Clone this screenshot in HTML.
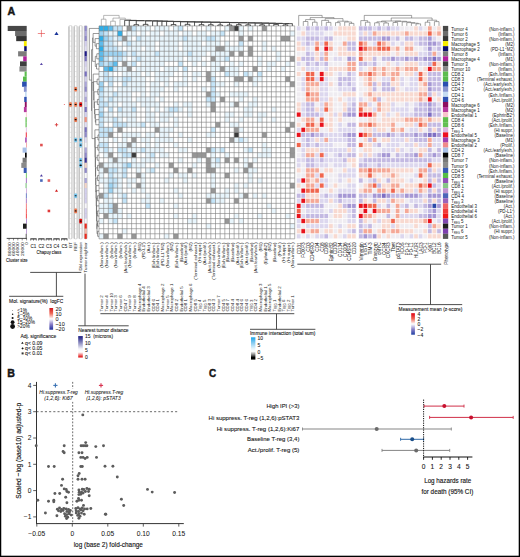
<!DOCTYPE html><html><head><meta charset="utf-8"><style>html,body{margin:0;padding:0;background:#fff;}svg{display:block;}text{font-family:"Liberation Sans",sans-serif;fill:#161616;}</style></head><body>
<svg width="520" height="557" viewBox="0 0 520 557">
<rect x="0" y="0" width="520" height="557" fill="#ffffff"/>
<text x="7.6" y="15.2" font-size="10.6" fill="#111" stroke="#111" stroke-width="0.45" font-weight="bold">A</text>
<text x="7.3" y="376.6" font-size="10.6" fill="#111" stroke="#111" stroke-width="0.45" font-weight="bold">B</text>
<text x="209.1" y="376.8" font-size="11" fill="#111" stroke="#111" stroke-width="0.45" font-weight="bold" textLength="7.2" lengthAdjust="spacingAndGlyphs">C</text>
<rect x="7.7" y="25.9" width="19" height="5.12" fill="#474747"/>
<rect x="15.1" y="30.97" width="11.6" height="5.12" fill="#6c6c6c"/>
<rect x="16.2" y="36.04" width="10.5" height="5.12" fill="#353535"/>
<rect x="23.9" y="41.11" width="2.8" height="5.12" fill="#f8ec00"/>
<rect x="24.2" y="46.18" width="2.5" height="5.12" fill="#0e0e6e"/>
<rect x="18.1" y="51.25" width="8.6" height="5.12" fill="#7c7c7c"/>
<rect x="23.2" y="56.32" width="3.5" height="5.12" fill="#b0209c"/>
<rect x="20" y="61.39" width="6.7" height="5.12" fill="#3e3e3e"/>
<rect x="19.4" y="66.46" width="7.3" height="5.12" fill="#8a8a8a"/>
<rect x="24.6" y="71.53" width="2.1" height="5.12" fill="#5dbd4f"/>
<rect x="23" y="76.6" width="3.7" height="5.12" fill="#58bb4a"/>
<rect x="22.1" y="81.67" width="4.6" height="5.12" fill="#2a4fb0"/>
<rect x="23.9" y="86.74" width="2.8" height="5.12" fill="#8894d0"/>
<rect x="25" y="91.81" width="1.7" height="5.12" fill="#c6dcf2"/>
<rect x="24.2" y="96.88" width="2.5" height="5.12" fill="#2f51b2"/>
<rect x="24.8" y="101.95" width="1.9" height="5.12" fill="#8e0e60"/>
<rect x="23.9" y="107.02" width="2.8" height="5.12" fill="#b8399e"/>
<rect x="25.9" y="112.09" width="0.8" height="5.12" fill="#f8c4cc"/>
<rect x="25.5" y="117.16" width="1.2" height="5.12" fill="#5cbe4c"/>
<rect x="25.5" y="122.23" width="1.2" height="5.12" fill="#62c052"/>
<rect x="25.9" y="127.3" width="0.8" height="5.12" fill="#dcb4de"/>
<rect x="25.8" y="132.37" width="0.9" height="5.12" fill="#ee1020"/>
<rect x="25.2" y="137.44" width="1.5" height="5.12" fill="#a040b0"/>
<rect x="26" y="142.51" width="0.7" height="5.12" fill="#f08a8a"/>
<rect x="22.6" y="147.58" width="4.1" height="5.12" fill="#a8c0e8"/>
<rect x="25" y="152.65" width="1.7" height="5.12" fill="#050505"/>
<rect x="22.6" y="157.72" width="4.1" height="5.12" fill="#787878"/>
<rect x="21.3" y="162.79" width="5.4" height="5.12" fill="#8a8a8a"/>
<rect x="23.7" y="167.86" width="3" height="5.12" fill="#3658b4"/>
<rect x="25.9" y="172.93" width="0.8" height="5.12" fill="#56be46"/>
<rect x="25.9" y="178" width="0.8" height="5.12" fill="#9050b8"/>
<rect x="25.5" y="183.07" width="1.2" height="5.12" fill="#86c686"/>
<rect x="26" y="188.14" width="0.7" height="5.12" fill="#c092d0"/>
<rect x="25.9" y="193.21" width="0.8" height="5.12" fill="#4c64b8"/>
<rect x="25.9" y="198.28" width="0.8" height="5.12" fill="#9a62ba"/>
<rect x="25.9" y="203.35" width="0.8" height="5.12" fill="#f06262"/>
<rect x="25.9" y="208.42" width="0.8" height="5.12" fill="#f03a3a"/>
<rect x="25.9" y="213.49" width="0.8" height="5.12" fill="#f01818"/>
<rect x="26.1" y="218.56" width="0.6" height="5.12" fill="#8048b0"/>
<rect x="23" y="223.63" width="3.7" height="5.12" fill="#1e1e1e"/>
<rect x="26.2" y="228.7" width="0.5" height="5.12" fill="#7e40ae"/>
<rect x="25.7" y="233.77" width="1" height="5.12" fill="#575757"/>
<line x1="6.7" y1="238.4" x2="26.5" y2="238.4" stroke="#222" stroke-width="0.8"/>
<line x1="9.1" y1="238.4" x2="9.1" y2="240.4" stroke="#222" stroke-width="0.5"/>
<text transform="translate(10.65,242.4) rotate(-90)" font-size="4.4" text-anchor="end" fill="#1c1c1c" textLength="13.6" lengthAdjust="spacingAndGlyphs">80000</text>
<line x1="13.47" y1="238.4" x2="13.47" y2="240.4" stroke="#222" stroke-width="0.5"/>
<text transform="translate(15.02,242.4) rotate(-90)" font-size="4.4" text-anchor="end" fill="#1c1c1c" textLength="13.6" lengthAdjust="spacingAndGlyphs">60000</text>
<line x1="17.84" y1="238.4" x2="17.84" y2="240.4" stroke="#222" stroke-width="0.5"/>
<text transform="translate(19.39,242.4) rotate(-90)" font-size="4.4" text-anchor="end" fill="#1c1c1c" textLength="13.6" lengthAdjust="spacingAndGlyphs">40000</text>
<line x1="22.21" y1="238.4" x2="22.21" y2="240.4" stroke="#222" stroke-width="0.5"/>
<text transform="translate(23.76,242.4) rotate(-90)" font-size="4.4" text-anchor="end" fill="#1c1c1c" textLength="13.6" lengthAdjust="spacingAndGlyphs">20000</text>
<line x1="26.58" y1="238.4" x2="26.58" y2="240.4" stroke="#222" stroke-width="0.5"/>
<text transform="translate(28.13,242.4) rotate(-90)" font-size="4.4" text-anchor="end" fill="#1c1c1c">0</text>
<text x="6" y="261.8" font-size="5.6" stroke="#161616" stroke-width="0.12" textLength="21.6" lengthAdjust="spacingAndGlyphs">Cluster size</text>
<line x1="30.4" y1="238.9" x2="36.6" y2="238.9" stroke="#111" stroke-width="1"/>
<line x1="30.7" y1="238.9" x2="30.7" y2="240.7" stroke="#222" stroke-width="0.5"/>
<line x1="33.5" y1="238.9" x2="33.5" y2="240.7" stroke="#222" stroke-width="0.5"/>
<line x1="36.3" y1="238.9" x2="36.3" y2="240.7" stroke="#222" stroke-width="0.5"/>
<text x="33.5" y="247.5" font-size="4.6" text-anchor="middle" fill="#1c1c1c" stroke="#1c1c1c" stroke-width="0.06" textLength="5.8" lengthAdjust="spacingAndGlyphs">C1</text>
<line x1="38.3" y1="238.9" x2="44.5" y2="238.9" stroke="#111" stroke-width="1"/>
<line x1="38.6" y1="238.9" x2="38.6" y2="240.7" stroke="#222" stroke-width="0.5"/>
<line x1="41.4" y1="238.9" x2="41.4" y2="240.7" stroke="#222" stroke-width="0.5"/>
<line x1="44.2" y1="238.9" x2="44.2" y2="240.7" stroke="#222" stroke-width="0.5"/>
<text x="41.4" y="247.5" font-size="4.6" text-anchor="middle" fill="#1c1c1c" stroke="#1c1c1c" stroke-width="0.06" textLength="5.8" lengthAdjust="spacingAndGlyphs">C2</text>
<line x1="45.8" y1="238.9" x2="52" y2="238.9" stroke="#111" stroke-width="1"/>
<line x1="46.1" y1="238.9" x2="46.1" y2="240.7" stroke="#222" stroke-width="0.5"/>
<line x1="48.9" y1="238.9" x2="48.9" y2="240.7" stroke="#222" stroke-width="0.5"/>
<line x1="51.7" y1="238.9" x2="51.7" y2="240.7" stroke="#222" stroke-width="0.5"/>
<text x="48.9" y="247.5" font-size="4.6" text-anchor="middle" fill="#1c1c1c" stroke="#1c1c1c" stroke-width="0.06" textLength="5.8" lengthAdjust="spacingAndGlyphs">C3</text>
<line x1="53.4" y1="238.9" x2="59.6" y2="238.9" stroke="#111" stroke-width="1"/>
<line x1="53.7" y1="238.9" x2="53.7" y2="240.7" stroke="#222" stroke-width="0.5"/>
<line x1="56.5" y1="238.9" x2="56.5" y2="240.7" stroke="#222" stroke-width="0.5"/>
<line x1="59.3" y1="238.9" x2="59.3" y2="240.7" stroke="#222" stroke-width="0.5"/>
<text x="56.5" y="247.5" font-size="4.6" text-anchor="middle" fill="#1c1c1c" stroke="#1c1c1c" stroke-width="0.06" textLength="5.8" lengthAdjust="spacingAndGlyphs">C4</text>
<line x1="61.2" y1="238.9" x2="67.4" y2="238.9" stroke="#111" stroke-width="1"/>
<line x1="61.5" y1="238.9" x2="61.5" y2="240.7" stroke="#222" stroke-width="0.5"/>
<line x1="64.3" y1="238.9" x2="64.3" y2="240.7" stroke="#222" stroke-width="0.5"/>
<line x1="67.1" y1="238.9" x2="67.1" y2="240.7" stroke="#222" stroke-width="0.5"/>
<text x="64.3" y="247.5" font-size="4.6" text-anchor="middle" fill="#1c1c1c" stroke="#1c1c1c" stroke-width="0.06" textLength="5.8" lengthAdjust="spacingAndGlyphs">C5</text>
<text x="36.6" y="254.3" font-size="5.6" stroke="#161616" stroke-width="0.12" textLength="24.6" lengthAdjust="spacingAndGlyphs">Chapuy class</text>
<line x1="37.8" y1="33.5" x2="45" y2="33.5" stroke="#e23a3a" stroke-width="0.6"/>
<line x1="41.4" y1="29.9" x2="41.4" y2="37.1" stroke="#e23a3a" stroke-width="0.6"/>
<path d="M56.5 31.72L58.6 34.97L54.4 34.97Z" fill="#1a3599"/>
<path d="M41.4 62.65L42.9 64.98L39.9 64.98Z" fill="#5a48a8"/>
<circle cx="64.3" cy="104.49" r="0.5" fill="#e04848"/>
<line x1="54.8" y1="124.77" x2="58.2" y2="124.77" stroke="#d84040" stroke-width="0.9"/>
<line x1="56.5" y1="123.07" x2="56.5" y2="126.47" stroke="#d84040" stroke-width="0.9"/>
<rect x="40.1" y="143.75" width="2.6" height="2.6" fill="#e05050"/>
<path d="M41.4 174.19L42.9 176.52L39.9 176.52Z" fill="#4a3aa0"/>
<rect x="40.1" y="179.24" width="2.6" height="2.6" fill="#4a68b8"/>
<rect x="47.6" y="179.24" width="2.6" height="2.6" fill="#e06060"/>
<path d="M56.5 189.36L58.05 191.76L54.95 191.76Z" fill="#d01c1c"/>
<rect x="47.6" y="209.66" width="2.6" height="2.6" fill="#e03a3a"/>
<rect x="68.4" y="25.4" width="4.1" height="213.84" fill="#c6c6c6" rx="1.4"/>
<rect x="69.55" y="26.1" width="1.8" height="212.54" fill="#ffffff"/>
<line x1="68.95" y1="26.7" x2="68.95" y2="238.64" stroke="#a6a6a6" stroke-width="0.5"/>
<path d="M69.5 30.97H71.4M69.5 36.04H71.4M69.5 41.11H71.4M69.5 46.18H71.4M69.5 51.25H71.4M69.5 56.32H71.4M69.5 61.39H71.4M69.5 66.46H71.4M69.5 71.53H71.4M69.5 76.6H71.4M69.5 81.67H71.4M69.5 86.74H71.4M69.5 91.81H71.4M69.5 96.88H71.4M69.5 101.95H71.4M69.5 107.02H71.4M69.5 112.09H71.4M69.5 117.16H71.4M69.5 122.23H71.4M69.5 127.3H71.4M69.5 132.37H71.4M69.5 137.44H71.4M69.5 142.51H71.4M69.5 147.58H71.4M69.5 152.65H71.4M69.5 157.72H71.4M69.5 162.79H71.4M69.5 167.86H71.4M69.5 172.93H71.4M69.5 178H71.4M69.5 183.07H71.4M69.5 188.14H71.4M69.5 193.21H71.4M69.5 198.28H71.4M69.5 203.35H71.4M69.5 208.42H71.4M69.5 213.49H71.4M69.5 218.56H71.4M69.5 223.63H71.4M69.5 228.7H71.4M69.5 233.77H71.4" stroke="#c8c8c8" stroke-width="0.4"/>
<rect x="73.6" y="25.4" width="4.1" height="213.84" fill="#c6c6c6" rx="1.4"/>
<rect x="74.75" y="26.1" width="1.8" height="212.54" fill="#ffffff"/>
<line x1="74.15" y1="26.7" x2="74.15" y2="238.64" stroke="#a6a6a6" stroke-width="0.5"/>
<path d="M74.7 30.97H76.6M74.7 36.04H76.6M74.7 41.11H76.6M74.7 46.18H76.6M74.7 51.25H76.6M74.7 56.32H76.6M74.7 61.39H76.6M74.7 66.46H76.6M74.7 71.53H76.6M74.7 76.6H76.6M74.7 81.67H76.6M74.7 86.74H76.6M74.7 91.81H76.6M74.7 96.88H76.6M74.7 101.95H76.6M74.7 107.02H76.6M74.7 112.09H76.6M74.7 117.16H76.6M74.7 122.23H76.6M74.7 127.3H76.6M74.7 132.37H76.6M74.7 137.44H76.6M74.7 142.51H76.6M74.7 147.58H76.6M74.7 152.65H76.6M74.7 157.72H76.6M74.7 162.79H76.6M74.7 167.86H76.6M74.7 172.93H76.6M74.7 178H76.6M74.7 183.07H76.6M74.7 188.14H76.6M74.7 193.21H76.6M74.7 198.28H76.6M74.7 203.35H76.6M74.7 208.42H76.6M74.7 213.49H76.6M74.7 218.56H76.6M74.7 223.63H76.6M74.7 228.7H76.6M74.7 233.77H76.6" stroke="#c8c8c8" stroke-width="0.4"/>
<rect x="78.6" y="25.4" width="4.1" height="213.84" fill="#c6c6c6" rx="1.4"/>
<rect x="79.75" y="26.1" width="1.8" height="212.54" fill="#ffffff"/>
<line x1="79.15" y1="26.7" x2="79.15" y2="238.64" stroke="#a6a6a6" stroke-width="0.5"/>
<path d="M79.7 30.97H81.6M79.7 36.04H81.6M79.7 41.11H81.6M79.7 46.18H81.6M79.7 51.25H81.6M79.7 56.32H81.6M79.7 61.39H81.6M79.7 66.46H81.6M79.7 71.53H81.6M79.7 76.6H81.6M79.7 81.67H81.6M79.7 86.74H81.6M79.7 91.81H81.6M79.7 96.88H81.6M79.7 101.95H81.6M79.7 107.02H81.6M79.7 112.09H81.6M79.7 117.16H81.6M79.7 122.23H81.6M79.7 127.3H81.6M79.7 132.37H81.6M79.7 137.44H81.6M79.7 142.51H81.6M79.7 147.58H81.6M79.7 152.65H81.6M79.7 157.72H81.6M79.7 162.79H81.6M79.7 167.86H81.6M79.7 172.93H81.6M79.7 178H81.6M79.7 183.07H81.6M79.7 188.14H81.6M79.7 193.21H81.6M79.7 198.28H81.6M79.7 203.35H81.6M79.7 208.42H81.6M79.7 213.49H81.6M79.7 218.56H81.6M79.7 223.63H81.6M79.7 228.7H81.6M79.7 233.77H81.6" stroke="#c8c8c8" stroke-width="0.4"/>
<rect x="83.8" y="25.4" width="3.7" height="213.84" fill="#c2c2c2" rx="1.4"/>
<rect x="84.65" y="25.9" width="2.1" height="5.07" fill="#8f88ca"/>
<rect x="84.65" y="30.97" width="2.1" height="5.07" fill="#aca6da"/>
<rect x="84.65" y="36.04" width="2.1" height="5.07" fill="#8f88ca"/>
<rect x="84.65" y="41.11" width="2.1" height="5.07" fill="#d3cfee"/>
<rect x="84.65" y="46.18" width="2.1" height="5.07" fill="#e0ddf4"/>
<rect x="84.65" y="51.25" width="2.1" height="5.07" fill="#1e1a88"/>
<rect x="84.65" y="56.32" width="2.1" height="5.07" fill="#7870c0"/>
<rect x="84.65" y="61.39" width="2.1" height="5.07" fill="#d3cfee"/>
<rect x="84.65" y="66.46" width="2.1" height="5.07" fill="#e0ddf4"/>
<rect x="84.65" y="71.53" width="2.1" height="5.07" fill="#7870c0"/>
<rect x="84.65" y="76.6" width="2.1" height="5.07" fill="#d3cfee"/>
<rect x="84.65" y="81.67" width="2.1" height="5.07" fill="#aca6da"/>
<rect x="84.65" y="86.74" width="2.1" height="5.07" fill="#8f88ca"/>
<rect x="84.65" y="91.81" width="2.1" height="5.07" fill="#d3cfee"/>
<rect x="84.65" y="96.88" width="2.1" height="5.07" fill="#aca6da"/>
<rect x="84.65" y="101.95" width="2.1" height="5.07" fill="#d3cfee"/>
<rect x="84.65" y="107.02" width="2.1" height="5.07" fill="#7870c0"/>
<rect x="84.65" y="112.09" width="2.1" height="5.07" fill="#d3cfee"/>
<rect x="84.65" y="117.16" width="2.1" height="5.07" fill="#f09080"/>
<rect x="84.65" y="122.23" width="2.1" height="5.07" fill="#e0ddf4"/>
<rect x="84.65" y="127.3" width="2.1" height="5.07" fill="#7870c0"/>
<rect x="84.65" y="132.37" width="2.1" height="5.07" fill="#8f88ca"/>
<rect x="84.65" y="137.44" width="2.1" height="5.07" fill="#e0ddf4"/>
<rect x="84.65" y="142.51" width="2.1" height="5.07" fill="#f6f5fb"/>
<rect x="84.65" y="147.58" width="2.1" height="5.07" fill="#aca6da"/>
<rect x="84.65" y="152.65" width="2.1" height="5.07" fill="#8f88ca"/>
<rect x="84.65" y="157.72" width="2.1" height="5.07" fill="#3c3498"/>
<rect x="84.65" y="162.79" width="2.1" height="5.07" fill="#f4d4c8"/>
<rect x="84.65" y="167.86" width="2.1" height="5.07" fill="#8f88ca"/>
<rect x="84.65" y="172.93" width="2.1" height="5.07" fill="#f6f5fb"/>
<rect x="84.65" y="178" width="2.1" height="5.07" fill="#aca6da"/>
<rect x="84.65" y="183.07" width="2.1" height="5.07" fill="#f4d4c8"/>
<rect x="84.65" y="188.14" width="2.1" height="5.07" fill="#d3cfee"/>
<rect x="84.65" y="193.21" width="2.1" height="5.07" fill="#d3cfee"/>
<rect x="84.65" y="198.28" width="2.1" height="5.07" fill="#d3cfee"/>
<rect x="84.65" y="203.35" width="2.1" height="5.07" fill="#f6f5fb"/>
<rect x="84.65" y="208.42" width="2.1" height="5.07" fill="#d3cfee"/>
<rect x="84.65" y="213.49" width="2.1" height="5.07" fill="#d3cfee"/>
<rect x="84.65" y="218.56" width="2.1" height="5.07" fill="#f6f5fb"/>
<rect x="84.65" y="223.63" width="2.1" height="5.07" fill="#ee2a1c"/>
<rect x="84.65" y="228.7" width="2.1" height="5.07" fill="#f4b8a8"/>
<rect x="84.65" y="233.77" width="2.1" height="5.07" fill="#ee2a1c"/>
<rect x="74.25" y="86.94" width="2.8" height="4.67" fill="#f07a50" rx="0.8"/>
<ellipse cx="75.65" cy="89.28" rx="1.1" ry="0.6" fill="#0a0a0a"/>
<rect x="69.05" y="102.15" width="2.8" height="4.67" fill="#f07a50" rx="0.8"/>
<ellipse cx="70.45" cy="104.49" rx="1.1" ry="0.6" fill="#0a0a0a"/>
<rect x="74.25" y="102.15" width="2.8" height="4.67" fill="#f07a50" rx="0.8"/>
<ellipse cx="75.65" cy="104.49" rx="1.1" ry="0.6" fill="#0a0a0a"/>
<rect x="79.25" y="102.15" width="2.8" height="4.67" fill="#e41010" rx="0.8"/>
<ellipse cx="80.65" cy="104.49" rx="1.1" ry="0.6" fill="#0a0a0a"/>
<rect x="74.25" y="117.36" width="2.8" height="4.67" fill="#f07a50" rx="0.8"/>
<ellipse cx="75.65" cy="119.69" rx="1.1" ry="0.6" fill="#0a0a0a"/>
<rect x="74.25" y="137.64" width="2.8" height="4.67" fill="#78c8f0" rx="0.8"/>
<ellipse cx="75.65" cy="139.97" rx="1.1" ry="0.6" fill="#0a0a0a"/>
<rect x="79.25" y="137.64" width="2.8" height="4.67" fill="#78c8f0" rx="0.8"/>
<ellipse cx="80.65" cy="139.97" rx="1.1" ry="0.6" fill="#0a0a0a"/>
<rect x="79.25" y="142.71" width="2.8" height="4.67" fill="#78c8f0" rx="0.8"/>
<ellipse cx="80.65" cy="145.05" rx="1.1" ry="0.6" fill="#0a0a0a"/>
<rect x="79.25" y="157.92" width="2.8" height="4.67" fill="#78c8f0" rx="0.8"/>
<ellipse cx="80.65" cy="160.25" rx="1.1" ry="0.6" fill="#0a0a0a"/>
<rect x="79.25" y="162.99" width="2.8" height="4.67" fill="#78c8f0" rx="0.8"/>
<ellipse cx="80.65" cy="165.33" rx="1.3" ry="0.8" fill="#0a0a0a"/>
<rect x="74.25" y="193.41" width="2.8" height="4.67" fill="#78c8f0" rx="0.8"/>
<ellipse cx="75.65" cy="195.75" rx="1.1" ry="0.6" fill="#0a0a0a"/>
<rect x="74.25" y="208.62" width="2.8" height="4.67" fill="#f07a50" rx="0.8"/>
<ellipse cx="75.65" cy="210.96" rx="1.1" ry="0.6" fill="#0a0a0a"/>
<rect x="79.25" y="218.76" width="2.8" height="4.67" fill="#e41010" rx="0.8"/>
<ellipse cx="80.65" cy="221.1" rx="1.1" ry="0.6" fill="#0a0a0a"/>
<text transform="translate(71.95,242.2) rotate(-90)" font-size="4.3" text-anchor="end" fill="#1c1c1c">BT</text>
<text transform="translate(77.15,242.2) rotate(-90)" font-size="4.3" text-anchor="end" fill="#1c1c1c">REF</text>
<text transform="translate(82.15,242.2) rotate(-90)" font-size="4.3" text-anchor="end" fill="#1c1c1c">Dbl expression</text>
<text transform="translate(87.45,242.2) rotate(-90)" font-size="4.3" text-anchor="end" fill="#1c1c1c">Tumor neighbor</text>
<g>
<rect x="99" y="25.9" width="4.66" height="5.07" fill="#2eaee8"/>
<rect x="103.66" y="25.9" width="4.66" height="5.07" fill="#2eaee8"/>
<rect x="108.32" y="25.9" width="4.66" height="5.07" fill="#5ebcec"/>
<rect x="112.98" y="25.9" width="4.66" height="5.07" fill="#c4e4f8"/>
<rect x="117.64" y="25.9" width="4.66" height="5.07" fill="#c4e4f8"/>
<rect x="126.96" y="25.9" width="4.66" height="5.07" fill="#969696"/>
<rect x="131.62" y="25.9" width="4.66" height="5.07" fill="#c4e4f8"/>
<rect x="136.28" y="25.9" width="4.66" height="5.07" fill="#e8f5fc"/>
<rect x="140.94" y="25.9" width="4.66" height="5.07" fill="#e8f5fc"/>
<rect x="145.6" y="25.9" width="4.66" height="5.07" fill="#e8f5fc"/>
<rect x="154.92" y="25.9" width="4.66" height="5.07" fill="#e8f5fc"/>
<rect x="159.58" y="25.9" width="4.66" height="5.07" fill="#e8f5fc"/>
<rect x="164.24" y="25.9" width="4.66" height="5.07" fill="#e8f5fc"/>
<rect x="173.56" y="25.9" width="4.66" height="5.07" fill="#e8f5fc"/>
<rect x="178.22" y="25.9" width="4.66" height="5.07" fill="#c4e4f8"/>
<rect x="206.18" y="25.9" width="4.66" height="5.07" fill="#e8f5fc"/>
<rect x="224.82" y="25.9" width="4.66" height="5.07" fill="#e8f5fc"/>
<rect x="229.48" y="25.9" width="4.66" height="5.07" fill="#969696"/>
<rect x="234.14" y="25.9" width="4.66" height="5.07" fill="#3a3a3a"/>
<rect x="238.8" y="25.9" width="4.66" height="5.07" fill="#e8f5fc"/>
<rect x="248.12" y="25.9" width="4.66" height="5.07" fill="#e8f5fc"/>
<rect x="262.1" y="25.9" width="4.66" height="5.07" fill="#969696"/>
<rect x="99" y="30.97" width="4.66" height="5.07" fill="#9dd3f2"/>
<rect x="103.66" y="30.97" width="4.66" height="5.07" fill="#c4e4f8"/>
<rect x="108.32" y="30.97" width="4.66" height="5.07" fill="#e8f5fc"/>
<rect x="112.98" y="30.97" width="4.66" height="5.07" fill="#e8f5fc"/>
<rect x="117.64" y="30.97" width="4.66" height="5.07" fill="#2eaee8"/>
<rect x="126.96" y="30.97" width="4.66" height="5.07" fill="#e8f5fc"/>
<rect x="131.62" y="30.97" width="4.66" height="5.07" fill="#e8f5fc"/>
<rect x="140.94" y="30.97" width="4.66" height="5.07" fill="#e8f5fc"/>
<rect x="150.26" y="30.97" width="4.66" height="5.07" fill="#e8f5fc"/>
<rect x="154.92" y="30.97" width="4.66" height="5.07" fill="#e8f5fc"/>
<rect x="164.24" y="30.97" width="4.66" height="5.07" fill="#e8f5fc"/>
<rect x="168.9" y="30.97" width="4.66" height="5.07" fill="#e8f5fc"/>
<rect x="173.56" y="30.97" width="4.66" height="5.07" fill="#e8f5fc"/>
<rect x="182.88" y="30.97" width="4.66" height="5.07" fill="#e8f5fc"/>
<rect x="187.54" y="30.97" width="4.66" height="5.07" fill="#e8f5fc"/>
<rect x="196.86" y="30.97" width="4.66" height="5.07" fill="#e8f5fc"/>
<rect x="201.52" y="30.97" width="4.66" height="5.07" fill="#e8f5fc"/>
<rect x="210.84" y="30.97" width="4.66" height="5.07" fill="#e8f5fc"/>
<rect x="215.5" y="30.97" width="4.66" height="5.07" fill="#e8f5fc"/>
<rect x="220.16" y="30.97" width="4.66" height="5.07" fill="#c4e4f8"/>
<rect x="238.8" y="30.97" width="4.66" height="5.07" fill="#e8f5fc"/>
<rect x="290.06" y="30.97" width="4.66" height="5.07" fill="#e8f5fc"/>
<rect x="99" y="36.04" width="4.66" height="5.07" fill="#2eaee8"/>
<rect x="103.66" y="36.04" width="4.66" height="5.07" fill="#9dd3f2"/>
<rect x="108.32" y="36.04" width="4.66" height="5.07" fill="#c4e4f8"/>
<rect x="112.98" y="36.04" width="4.66" height="5.07" fill="#e8f5fc"/>
<rect x="117.64" y="36.04" width="4.66" height="5.07" fill="#c4e4f8"/>
<rect x="122.3" y="36.04" width="4.66" height="5.07" fill="#969696"/>
<rect x="126.96" y="36.04" width="4.66" height="5.07" fill="#e8f5fc"/>
<rect x="136.28" y="36.04" width="4.66" height="5.07" fill="#c4e4f8"/>
<rect x="140.94" y="36.04" width="4.66" height="5.07" fill="#e8f5fc"/>
<rect x="145.6" y="36.04" width="4.66" height="5.07" fill="#e8f5fc"/>
<rect x="150.26" y="36.04" width="4.66" height="5.07" fill="#e8f5fc"/>
<rect x="154.92" y="36.04" width="4.66" height="5.07" fill="#e8f5fc"/>
<rect x="159.58" y="36.04" width="4.66" height="5.07" fill="#e8f5fc"/>
<rect x="164.24" y="36.04" width="4.66" height="5.07" fill="#e8f5fc"/>
<rect x="168.9" y="36.04" width="4.66" height="5.07" fill="#e8f5fc"/>
<rect x="173.56" y="36.04" width="4.66" height="5.07" fill="#e8f5fc"/>
<rect x="178.22" y="36.04" width="4.66" height="5.07" fill="#e8f5fc"/>
<rect x="182.88" y="36.04" width="4.66" height="5.07" fill="#c4e4f8"/>
<rect x="187.54" y="36.04" width="4.66" height="5.07" fill="#e8f5fc"/>
<rect x="192.2" y="36.04" width="4.66" height="5.07" fill="#e8f5fc"/>
<rect x="196.86" y="36.04" width="4.66" height="5.07" fill="#e8f5fc"/>
<rect x="201.52" y="36.04" width="4.66" height="5.07" fill="#e8f5fc"/>
<rect x="206.18" y="36.04" width="4.66" height="5.07" fill="#c4e4f8"/>
<rect x="210.84" y="36.04" width="4.66" height="5.07" fill="#c4e4f8"/>
<rect x="215.5" y="36.04" width="4.66" height="5.07" fill="#e8f5fc"/>
<rect x="238.8" y="36.04" width="4.66" height="5.07" fill="#969696"/>
<rect x="248.12" y="36.04" width="4.66" height="5.07" fill="#969696"/>
<rect x="280.74" y="36.04" width="4.66" height="5.07" fill="#969696"/>
<rect x="285.4" y="36.04" width="4.66" height="5.07" fill="#969696"/>
<rect x="99" y="41.11" width="4.66" height="5.07" fill="#5ebcec"/>
<rect x="103.66" y="41.11" width="4.66" height="5.07" fill="#c4e4f8"/>
<rect x="108.32" y="41.11" width="4.66" height="5.07" fill="#c4e4f8"/>
<rect x="112.98" y="41.11" width="4.66" height="5.07" fill="#e8f5fc"/>
<rect x="122.3" y="41.11" width="4.66" height="5.07" fill="#e8f5fc"/>
<rect x="126.96" y="41.11" width="4.66" height="5.07" fill="#c4e4f8"/>
<rect x="131.62" y="41.11" width="4.66" height="5.07" fill="#e8f5fc"/>
<rect x="136.28" y="41.11" width="4.66" height="5.07" fill="#e8f5fc"/>
<rect x="140.94" y="41.11" width="4.66" height="5.07" fill="#e8f5fc"/>
<rect x="145.6" y="41.11" width="4.66" height="5.07" fill="#e8f5fc"/>
<rect x="150.26" y="41.11" width="4.66" height="5.07" fill="#e8f5fc"/>
<rect x="159.58" y="41.11" width="4.66" height="5.07" fill="#e8f5fc"/>
<rect x="164.24" y="41.11" width="4.66" height="5.07" fill="#e8f5fc"/>
<rect x="168.9" y="41.11" width="4.66" height="5.07" fill="#e8f5fc"/>
<rect x="173.56" y="41.11" width="4.66" height="5.07" fill="#e8f5fc"/>
<rect x="182.88" y="41.11" width="4.66" height="5.07" fill="#e8f5fc"/>
<rect x="187.54" y="41.11" width="4.66" height="5.07" fill="#e8f5fc"/>
<rect x="192.2" y="41.11" width="4.66" height="5.07" fill="#e8f5fc"/>
<rect x="196.86" y="41.11" width="4.66" height="5.07" fill="#e8f5fc"/>
<rect x="206.18" y="41.11" width="4.66" height="5.07" fill="#e8f5fc"/>
<rect x="210.84" y="41.11" width="4.66" height="5.07" fill="#e8f5fc"/>
<rect x="215.5" y="41.11" width="4.66" height="5.07" fill="#e8f5fc"/>
<rect x="224.82" y="41.11" width="4.66" height="5.07" fill="#e8f5fc"/>
<rect x="238.8" y="41.11" width="4.66" height="5.07" fill="#c4e4f8"/>
<rect x="262.1" y="41.11" width="4.66" height="5.07" fill="#e8f5fc"/>
<rect x="99" y="46.18" width="4.66" height="5.07" fill="#2eaee8"/>
<rect x="103.66" y="46.18" width="4.66" height="5.07" fill="#c4e4f8"/>
<rect x="108.32" y="46.18" width="4.66" height="5.07" fill="#c4e4f8"/>
<rect x="112.98" y="46.18" width="4.66" height="5.07" fill="#c4e4f8"/>
<rect x="117.64" y="46.18" width="4.66" height="5.07" fill="#e8f5fc"/>
<rect x="126.96" y="46.18" width="4.66" height="5.07" fill="#e8f5fc"/>
<rect x="131.62" y="46.18" width="4.66" height="5.07" fill="#e8f5fc"/>
<rect x="136.28" y="46.18" width="4.66" height="5.07" fill="#e8f5fc"/>
<rect x="145.6" y="46.18" width="4.66" height="5.07" fill="#e8f5fc"/>
<rect x="150.26" y="46.18" width="4.66" height="5.07" fill="#e8f5fc"/>
<rect x="159.58" y="46.18" width="4.66" height="5.07" fill="#e8f5fc"/>
<rect x="164.24" y="46.18" width="4.66" height="5.07" fill="#e8f5fc"/>
<rect x="168.9" y="46.18" width="4.66" height="5.07" fill="#e8f5fc"/>
<rect x="173.56" y="46.18" width="4.66" height="5.07" fill="#e8f5fc"/>
<rect x="182.88" y="46.18" width="4.66" height="5.07" fill="#e8f5fc"/>
<rect x="187.54" y="46.18" width="4.66" height="5.07" fill="#e8f5fc"/>
<rect x="192.2" y="46.18" width="4.66" height="5.07" fill="#e8f5fc"/>
<rect x="196.86" y="46.18" width="4.66" height="5.07" fill="#e8f5fc"/>
<rect x="201.52" y="46.18" width="4.66" height="5.07" fill="#e8f5fc"/>
<rect x="206.18" y="46.18" width="4.66" height="5.07" fill="#e8f5fc"/>
<rect x="210.84" y="46.18" width="4.66" height="5.07" fill="#e8f5fc"/>
<rect x="215.5" y="46.18" width="4.66" height="5.07" fill="#969696"/>
<rect x="220.16" y="46.18" width="4.66" height="5.07" fill="#969696"/>
<rect x="224.82" y="46.18" width="4.66" height="5.07" fill="#e8f5fc"/>
<rect x="229.48" y="46.18" width="4.66" height="5.07" fill="#e8f5fc"/>
<rect x="234.14" y="46.18" width="4.66" height="5.07" fill="#e8f5fc"/>
<rect x="238.8" y="46.18" width="4.66" height="5.07" fill="#e8f5fc"/>
<rect x="248.12" y="46.18" width="4.66" height="5.07" fill="#969696"/>
<rect x="262.1" y="46.18" width="4.66" height="5.07" fill="#e8f5fc"/>
<rect x="271.42" y="46.18" width="4.66" height="5.07" fill="#e8f5fc"/>
<rect x="99" y="51.25" width="4.66" height="5.07" fill="#5ebcec"/>
<rect x="103.66" y="51.25" width="4.66" height="5.07" fill="#9dd3f2"/>
<rect x="108.32" y="51.25" width="4.66" height="5.07" fill="#9dd3f2"/>
<rect x="112.98" y="51.25" width="4.66" height="5.07" fill="#9dd3f2"/>
<rect x="117.64" y="51.25" width="4.66" height="5.07" fill="#9dd3f2"/>
<rect x="122.3" y="51.25" width="4.66" height="5.07" fill="#c4e4f8"/>
<rect x="126.96" y="51.25" width="4.66" height="5.07" fill="#e8f5fc"/>
<rect x="131.62" y="51.25" width="4.66" height="5.07" fill="#c4e4f8"/>
<rect x="136.28" y="51.25" width="4.66" height="5.07" fill="#e8f5fc"/>
<rect x="140.94" y="51.25" width="4.66" height="5.07" fill="#e8f5fc"/>
<rect x="145.6" y="51.25" width="4.66" height="5.07" fill="#e8f5fc"/>
<rect x="150.26" y="51.25" width="4.66" height="5.07" fill="#e8f5fc"/>
<rect x="154.92" y="51.25" width="4.66" height="5.07" fill="#c4e4f8"/>
<rect x="159.58" y="51.25" width="4.66" height="5.07" fill="#e8f5fc"/>
<rect x="164.24" y="51.25" width="4.66" height="5.07" fill="#e8f5fc"/>
<rect x="168.9" y="51.25" width="4.66" height="5.07" fill="#e8f5fc"/>
<rect x="173.56" y="51.25" width="4.66" height="5.07" fill="#e8f5fc"/>
<rect x="178.22" y="51.25" width="4.66" height="5.07" fill="#e8f5fc"/>
<rect x="182.88" y="51.25" width="4.66" height="5.07" fill="#e8f5fc"/>
<rect x="187.54" y="51.25" width="4.66" height="5.07" fill="#c4e4f8"/>
<rect x="192.2" y="51.25" width="4.66" height="5.07" fill="#e8f5fc"/>
<rect x="196.86" y="51.25" width="4.66" height="5.07" fill="#e8f5fc"/>
<rect x="201.52" y="51.25" width="4.66" height="5.07" fill="#e8f5fc"/>
<rect x="210.84" y="51.25" width="4.66" height="5.07" fill="#e8f5fc"/>
<rect x="215.5" y="51.25" width="4.66" height="5.07" fill="#e8f5fc"/>
<rect x="220.16" y="51.25" width="4.66" height="5.07" fill="#e8f5fc"/>
<rect x="224.82" y="51.25" width="4.66" height="5.07" fill="#e8f5fc"/>
<rect x="229.48" y="51.25" width="4.66" height="5.07" fill="#969696"/>
<rect x="238.8" y="51.25" width="4.66" height="5.07" fill="#969696"/>
<rect x="248.12" y="51.25" width="4.66" height="5.07" fill="#969696"/>
<rect x="276.08" y="51.25" width="4.66" height="5.07" fill="#e8f5fc"/>
<rect x="99" y="56.32" width="4.66" height="5.07" fill="#5ebcec"/>
<rect x="103.66" y="56.32" width="4.66" height="5.07" fill="#c4e4f8"/>
<rect x="108.32" y="56.32" width="4.66" height="5.07" fill="#e8f5fc"/>
<rect x="112.98" y="56.32" width="4.66" height="5.07" fill="#c4e4f8"/>
<rect x="117.64" y="56.32" width="4.66" height="5.07" fill="#c4e4f8"/>
<rect x="122.3" y="56.32" width="4.66" height="5.07" fill="#e8f5fc"/>
<rect x="131.62" y="56.32" width="4.66" height="5.07" fill="#e8f5fc"/>
<rect x="136.28" y="56.32" width="4.66" height="5.07" fill="#c4e4f8"/>
<rect x="140.94" y="56.32" width="4.66" height="5.07" fill="#e8f5fc"/>
<rect x="145.6" y="56.32" width="4.66" height="5.07" fill="#e8f5fc"/>
<rect x="150.26" y="56.32" width="4.66" height="5.07" fill="#e8f5fc"/>
<rect x="154.92" y="56.32" width="4.66" height="5.07" fill="#e8f5fc"/>
<rect x="159.58" y="56.32" width="4.66" height="5.07" fill="#e8f5fc"/>
<rect x="164.24" y="56.32" width="4.66" height="5.07" fill="#e8f5fc"/>
<rect x="168.9" y="56.32" width="4.66" height="5.07" fill="#e8f5fc"/>
<rect x="173.56" y="56.32" width="4.66" height="5.07" fill="#e8f5fc"/>
<rect x="178.22" y="56.32" width="4.66" height="5.07" fill="#e8f5fc"/>
<rect x="187.54" y="56.32" width="4.66" height="5.07" fill="#e8f5fc"/>
<rect x="192.2" y="56.32" width="4.66" height="5.07" fill="#e8f5fc"/>
<rect x="196.86" y="56.32" width="4.66" height="5.07" fill="#e8f5fc"/>
<rect x="210.84" y="56.32" width="4.66" height="5.07" fill="#969696"/>
<rect x="215.5" y="56.32" width="4.66" height="5.07" fill="#e8f5fc"/>
<rect x="220.16" y="56.32" width="4.66" height="5.07" fill="#e8f5fc"/>
<rect x="224.82" y="56.32" width="4.66" height="5.07" fill="#c4e4f8"/>
<rect x="257.44" y="56.32" width="4.66" height="5.07" fill="#e8f5fc"/>
<rect x="276.08" y="56.32" width="4.66" height="5.07" fill="#e8f5fc"/>
<rect x="290.06" y="56.32" width="4.66" height="5.07" fill="#969696"/>
<rect x="99" y="61.39" width="4.66" height="5.07" fill="#9dd3f2"/>
<rect x="103.66" y="61.39" width="4.66" height="5.07" fill="#c4e4f8"/>
<rect x="108.32" y="61.39" width="4.66" height="5.07" fill="#9dd3f2"/>
<rect x="112.98" y="61.39" width="4.66" height="5.07" fill="#5ebcec"/>
<rect x="122.3" y="61.39" width="4.66" height="5.07" fill="#969696"/>
<rect x="126.96" y="61.39" width="4.66" height="5.07" fill="#e8f5fc"/>
<rect x="131.62" y="61.39" width="4.66" height="5.07" fill="#c4e4f8"/>
<rect x="140.94" y="61.39" width="4.66" height="5.07" fill="#e8f5fc"/>
<rect x="145.6" y="61.39" width="4.66" height="5.07" fill="#e8f5fc"/>
<rect x="150.26" y="61.39" width="4.66" height="5.07" fill="#e8f5fc"/>
<rect x="154.92" y="61.39" width="4.66" height="5.07" fill="#e8f5fc"/>
<rect x="159.58" y="61.39" width="4.66" height="5.07" fill="#e8f5fc"/>
<rect x="178.22" y="61.39" width="4.66" height="5.07" fill="#c4e4f8"/>
<rect x="192.2" y="61.39" width="4.66" height="5.07" fill="#e8f5fc"/>
<rect x="201.52" y="61.39" width="4.66" height="5.07" fill="#e8f5fc"/>
<rect x="210.84" y="61.39" width="4.66" height="5.07" fill="#e8f5fc"/>
<rect x="215.5" y="61.39" width="4.66" height="5.07" fill="#e8f5fc"/>
<rect x="229.48" y="61.39" width="4.66" height="5.07" fill="#e8f5fc"/>
<rect x="238.8" y="61.39" width="4.66" height="5.07" fill="#e8f5fc"/>
<rect x="257.44" y="61.39" width="4.66" height="5.07" fill="#e8f5fc"/>
<rect x="266.76" y="61.39" width="4.66" height="5.07" fill="#e8f5fc"/>
<rect x="271.42" y="61.39" width="4.66" height="5.07" fill="#e8f5fc"/>
<rect x="285.4" y="61.39" width="4.66" height="5.07" fill="#e8f5fc"/>
<rect x="103.66" y="66.46" width="4.66" height="5.07" fill="#5ebcec"/>
<rect x="108.32" y="66.46" width="4.66" height="5.07" fill="#2eaee8"/>
<rect x="112.98" y="66.46" width="4.66" height="5.07" fill="#c4e4f8"/>
<rect x="117.64" y="66.46" width="4.66" height="5.07" fill="#e8f5fc"/>
<rect x="122.3" y="66.46" width="4.66" height="5.07" fill="#e8f5fc"/>
<rect x="126.96" y="66.46" width="4.66" height="5.07" fill="#969696"/>
<rect x="136.28" y="66.46" width="4.66" height="5.07" fill="#e8f5fc"/>
<rect x="140.94" y="66.46" width="4.66" height="5.07" fill="#e8f5fc"/>
<rect x="145.6" y="66.46" width="4.66" height="5.07" fill="#e8f5fc"/>
<rect x="150.26" y="66.46" width="4.66" height="5.07" fill="#e8f5fc"/>
<rect x="154.92" y="66.46" width="4.66" height="5.07" fill="#e8f5fc"/>
<rect x="164.24" y="66.46" width="4.66" height="5.07" fill="#e8f5fc"/>
<rect x="168.9" y="66.46" width="4.66" height="5.07" fill="#e8f5fc"/>
<rect x="173.56" y="66.46" width="4.66" height="5.07" fill="#e8f5fc"/>
<rect x="182.88" y="66.46" width="4.66" height="5.07" fill="#c4e4f8"/>
<rect x="210.84" y="66.46" width="4.66" height="5.07" fill="#e8f5fc"/>
<rect x="215.5" y="66.46" width="4.66" height="5.07" fill="#e8f5fc"/>
<rect x="220.16" y="66.46" width="4.66" height="5.07" fill="#969696"/>
<rect x="224.82" y="66.46" width="4.66" height="5.07" fill="#e8f5fc"/>
<rect x="229.48" y="66.46" width="4.66" height="5.07" fill="#e8f5fc"/>
<rect x="234.14" y="66.46" width="4.66" height="5.07" fill="#e8f5fc"/>
<rect x="252.78" y="66.46" width="4.66" height="5.07" fill="#969696"/>
<rect x="266.76" y="66.46" width="4.66" height="5.07" fill="#e8f5fc"/>
<rect x="280.74" y="66.46" width="4.66" height="5.07" fill="#e8f5fc"/>
<rect x="99" y="71.53" width="4.66" height="5.07" fill="#e8f5fc"/>
<rect x="103.66" y="71.53" width="4.66" height="5.07" fill="#c4e4f8"/>
<rect x="108.32" y="71.53" width="4.66" height="5.07" fill="#e8f5fc"/>
<rect x="122.3" y="71.53" width="4.66" height="5.07" fill="#e8f5fc"/>
<rect x="126.96" y="71.53" width="4.66" height="5.07" fill="#e8f5fc"/>
<rect x="131.62" y="71.53" width="4.66" height="5.07" fill="#e8f5fc"/>
<rect x="136.28" y="71.53" width="4.66" height="5.07" fill="#e8f5fc"/>
<rect x="145.6" y="71.53" width="4.66" height="5.07" fill="#e8f5fc"/>
<rect x="154.92" y="71.53" width="4.66" height="5.07" fill="#e8f5fc"/>
<rect x="159.58" y="71.53" width="4.66" height="5.07" fill="#e8f5fc"/>
<rect x="164.24" y="71.53" width="4.66" height="5.07" fill="#e8f5fc"/>
<rect x="168.9" y="71.53" width="4.66" height="5.07" fill="#e8f5fc"/>
<rect x="182.88" y="71.53" width="4.66" height="5.07" fill="#e8f5fc"/>
<rect x="192.2" y="71.53" width="4.66" height="5.07" fill="#e8f5fc"/>
<rect x="196.86" y="71.53" width="4.66" height="5.07" fill="#e8f5fc"/>
<rect x="206.18" y="71.53" width="4.66" height="5.07" fill="#969696"/>
<rect x="210.84" y="71.53" width="4.66" height="5.07" fill="#e8f5fc"/>
<rect x="224.82" y="71.53" width="4.66" height="5.07" fill="#c4e4f8"/>
<rect x="229.48" y="71.53" width="4.66" height="5.07" fill="#e8f5fc"/>
<rect x="234.14" y="71.53" width="4.66" height="5.07" fill="#e8f5fc"/>
<rect x="243.46" y="71.53" width="4.66" height="5.07" fill="#c4e4f8"/>
<rect x="248.12" y="71.53" width="4.66" height="5.07" fill="#e8f5fc"/>
<rect x="257.44" y="71.53" width="4.66" height="5.07" fill="#c4e4f8"/>
<rect x="99" y="76.6" width="4.66" height="5.07" fill="#e8f5fc"/>
<rect x="103.66" y="76.6" width="4.66" height="5.07" fill="#c4e4f8"/>
<rect x="108.32" y="76.6" width="4.66" height="5.07" fill="#c4e4f8"/>
<rect x="112.98" y="76.6" width="4.66" height="5.07" fill="#e8f5fc"/>
<rect x="117.64" y="76.6" width="4.66" height="5.07" fill="#e8f5fc"/>
<rect x="122.3" y="76.6" width="4.66" height="5.07" fill="#c4e4f8"/>
<rect x="126.96" y="76.6" width="4.66" height="5.07" fill="#c4e4f8"/>
<rect x="131.62" y="76.6" width="4.66" height="5.07" fill="#e8f5fc"/>
<rect x="136.28" y="76.6" width="4.66" height="5.07" fill="#e8f5fc"/>
<rect x="140.94" y="76.6" width="4.66" height="5.07" fill="#e8f5fc"/>
<rect x="154.92" y="76.6" width="4.66" height="5.07" fill="#e8f5fc"/>
<rect x="159.58" y="76.6" width="4.66" height="5.07" fill="#e8f5fc"/>
<rect x="164.24" y="76.6" width="4.66" height="5.07" fill="#e8f5fc"/>
<rect x="182.88" y="76.6" width="4.66" height="5.07" fill="#e8f5fc"/>
<rect x="192.2" y="76.6" width="4.66" height="5.07" fill="#e8f5fc"/>
<rect x="206.18" y="76.6" width="4.66" height="5.07" fill="#969696"/>
<rect x="210.84" y="76.6" width="4.66" height="5.07" fill="#c4e4f8"/>
<rect x="234.14" y="76.6" width="4.66" height="5.07" fill="#969696"/>
<rect x="238.8" y="76.6" width="4.66" height="5.07" fill="#969696"/>
<rect x="248.12" y="76.6" width="4.66" height="5.07" fill="#969696"/>
<rect x="252.78" y="76.6" width="4.66" height="5.07" fill="#e8f5fc"/>
<rect x="257.44" y="76.6" width="4.66" height="5.07" fill="#e8f5fc"/>
<rect x="285.4" y="76.6" width="4.66" height="5.07" fill="#969696"/>
<rect x="99" y="81.67" width="4.66" height="5.07" fill="#9dd3f2"/>
<rect x="108.32" y="81.67" width="4.66" height="5.07" fill="#c4e4f8"/>
<rect x="122.3" y="81.67" width="4.66" height="5.07" fill="#c4e4f8"/>
<rect x="126.96" y="81.67" width="4.66" height="5.07" fill="#e8f5fc"/>
<rect x="131.62" y="81.67" width="4.66" height="5.07" fill="#e8f5fc"/>
<rect x="136.28" y="81.67" width="4.66" height="5.07" fill="#e8f5fc"/>
<rect x="140.94" y="81.67" width="4.66" height="5.07" fill="#e8f5fc"/>
<rect x="150.26" y="81.67" width="4.66" height="5.07" fill="#e8f5fc"/>
<rect x="154.92" y="81.67" width="4.66" height="5.07" fill="#e8f5fc"/>
<rect x="164.24" y="81.67" width="4.66" height="5.07" fill="#e8f5fc"/>
<rect x="173.56" y="81.67" width="4.66" height="5.07" fill="#e8f5fc"/>
<rect x="178.22" y="81.67" width="4.66" height="5.07" fill="#e8f5fc"/>
<rect x="182.88" y="81.67" width="4.66" height="5.07" fill="#e8f5fc"/>
<rect x="210.84" y="81.67" width="4.66" height="5.07" fill="#c4e4f8"/>
<rect x="215.5" y="81.67" width="4.66" height="5.07" fill="#e8f5fc"/>
<rect x="220.16" y="81.67" width="4.66" height="5.07" fill="#e8f5fc"/>
<rect x="234.14" y="81.67" width="4.66" height="5.07" fill="#e8f5fc"/>
<rect x="252.78" y="81.67" width="4.66" height="5.07" fill="#e8f5fc"/>
<rect x="290.06" y="81.67" width="4.66" height="5.07" fill="#969696"/>
<rect x="99" y="86.74" width="4.66" height="5.07" fill="#9dd3f2"/>
<rect x="103.66" y="86.74" width="4.66" height="5.07" fill="#e8f5fc"/>
<rect x="108.32" y="86.74" width="4.66" height="5.07" fill="#e8f5fc"/>
<rect x="117.64" y="86.74" width="4.66" height="5.07" fill="#e8f5fc"/>
<rect x="122.3" y="86.74" width="4.66" height="5.07" fill="#e8f5fc"/>
<rect x="126.96" y="86.74" width="4.66" height="5.07" fill="#e8f5fc"/>
<rect x="131.62" y="86.74" width="4.66" height="5.07" fill="#e8f5fc"/>
<rect x="136.28" y="86.74" width="4.66" height="5.07" fill="#e8f5fc"/>
<rect x="140.94" y="86.74" width="4.66" height="5.07" fill="#e8f5fc"/>
<rect x="150.26" y="86.74" width="4.66" height="5.07" fill="#e8f5fc"/>
<rect x="154.92" y="86.74" width="4.66" height="5.07" fill="#e8f5fc"/>
<rect x="159.58" y="86.74" width="4.66" height="5.07" fill="#e8f5fc"/>
<rect x="173.56" y="86.74" width="4.66" height="5.07" fill="#e8f5fc"/>
<rect x="201.52" y="86.74" width="4.66" height="5.07" fill="#e8f5fc"/>
<rect x="210.84" y="86.74" width="4.66" height="5.07" fill="#c4e4f8"/>
<rect x="99" y="91.81" width="4.66" height="5.07" fill="#c4e4f8"/>
<rect x="103.66" y="91.81" width="4.66" height="5.07" fill="#e8f5fc"/>
<rect x="108.32" y="91.81" width="4.66" height="5.07" fill="#e8f5fc"/>
<rect x="112.98" y="91.81" width="4.66" height="5.07" fill="#c4e4f8"/>
<rect x="117.64" y="91.81" width="4.66" height="5.07" fill="#e8f5fc"/>
<rect x="122.3" y="91.81" width="4.66" height="5.07" fill="#e8f5fc"/>
<rect x="126.96" y="91.81" width="4.66" height="5.07" fill="#e8f5fc"/>
<rect x="140.94" y="91.81" width="4.66" height="5.07" fill="#e8f5fc"/>
<rect x="150.26" y="91.81" width="4.66" height="5.07" fill="#e8f5fc"/>
<rect x="154.92" y="91.81" width="4.66" height="5.07" fill="#e8f5fc"/>
<rect x="206.18" y="91.81" width="4.66" height="5.07" fill="#969696"/>
<rect x="210.84" y="91.81" width="4.66" height="5.07" fill="#c4e4f8"/>
<rect x="215.5" y="91.81" width="4.66" height="5.07" fill="#e8f5fc"/>
<rect x="229.48" y="91.81" width="4.66" height="5.07" fill="#e8f5fc"/>
<rect x="234.14" y="91.81" width="4.66" height="5.07" fill="#e8f5fc"/>
<rect x="238.8" y="91.81" width="4.66" height="5.07" fill="#e8f5fc"/>
<rect x="243.46" y="91.81" width="4.66" height="5.07" fill="#e8f5fc"/>
<rect x="99" y="96.88" width="4.66" height="5.07" fill="#c4e4f8"/>
<rect x="103.66" y="96.88" width="4.66" height="5.07" fill="#e8f5fc"/>
<rect x="108.32" y="96.88" width="4.66" height="5.07" fill="#c4e4f8"/>
<rect x="112.98" y="96.88" width="4.66" height="5.07" fill="#e8f5fc"/>
<rect x="117.64" y="96.88" width="4.66" height="5.07" fill="#e8f5fc"/>
<rect x="122.3" y="96.88" width="4.66" height="5.07" fill="#e8f5fc"/>
<rect x="126.96" y="96.88" width="4.66" height="5.07" fill="#e8f5fc"/>
<rect x="136.28" y="96.88" width="4.66" height="5.07" fill="#e8f5fc"/>
<rect x="140.94" y="96.88" width="4.66" height="5.07" fill="#e8f5fc"/>
<rect x="145.6" y="96.88" width="4.66" height="5.07" fill="#e8f5fc"/>
<rect x="150.26" y="96.88" width="4.66" height="5.07" fill="#e8f5fc"/>
<rect x="159.58" y="96.88" width="4.66" height="5.07" fill="#e8f5fc"/>
<rect x="206.18" y="96.88" width="4.66" height="5.07" fill="#c4e4f8"/>
<rect x="210.84" y="96.88" width="4.66" height="5.07" fill="#c4e4f8"/>
<rect x="220.16" y="96.88" width="4.66" height="5.07" fill="#969696"/>
<rect x="238.8" y="96.88" width="4.66" height="5.07" fill="#e8f5fc"/>
<rect x="252.78" y="96.88" width="4.66" height="5.07" fill="#e8f5fc"/>
<rect x="99" y="101.95" width="4.66" height="5.07" fill="#c4e4f8"/>
<rect x="103.66" y="101.95" width="4.66" height="5.07" fill="#c4e4f8"/>
<rect x="108.32" y="101.95" width="4.66" height="5.07" fill="#e8f5fc"/>
<rect x="112.98" y="101.95" width="4.66" height="5.07" fill="#e8f5fc"/>
<rect x="122.3" y="101.95" width="4.66" height="5.07" fill="#e8f5fc"/>
<rect x="126.96" y="101.95" width="4.66" height="5.07" fill="#e8f5fc"/>
<rect x="131.62" y="101.95" width="4.66" height="5.07" fill="#e8f5fc"/>
<rect x="140.94" y="101.95" width="4.66" height="5.07" fill="#e8f5fc"/>
<rect x="145.6" y="101.95" width="4.66" height="5.07" fill="#e8f5fc"/>
<rect x="150.26" y="101.95" width="4.66" height="5.07" fill="#e8f5fc"/>
<rect x="154.92" y="101.95" width="4.66" height="5.07" fill="#e8f5fc"/>
<rect x="173.56" y="101.95" width="4.66" height="5.07" fill="#e8f5fc"/>
<rect x="182.88" y="101.95" width="4.66" height="5.07" fill="#e8f5fc"/>
<rect x="187.54" y="101.95" width="4.66" height="5.07" fill="#e8f5fc"/>
<rect x="206.18" y="101.95" width="4.66" height="5.07" fill="#e8f5fc"/>
<rect x="210.84" y="101.95" width="4.66" height="5.07" fill="#969696"/>
<rect x="229.48" y="101.95" width="4.66" height="5.07" fill="#e8f5fc"/>
<rect x="234.14" y="101.95" width="4.66" height="5.07" fill="#969696"/>
<rect x="248.12" y="101.95" width="4.66" height="5.07" fill="#e8f5fc"/>
<rect x="252.78" y="101.95" width="4.66" height="5.07" fill="#e8f5fc"/>
<rect x="99" y="107.02" width="4.66" height="5.07" fill="#c4e4f8"/>
<rect x="108.32" y="107.02" width="4.66" height="5.07" fill="#c4e4f8"/>
<rect x="117.64" y="107.02" width="4.66" height="5.07" fill="#c4e4f8"/>
<rect x="122.3" y="107.02" width="4.66" height="5.07" fill="#e8f5fc"/>
<rect x="126.96" y="107.02" width="4.66" height="5.07" fill="#e8f5fc"/>
<rect x="131.62" y="107.02" width="4.66" height="5.07" fill="#c4e4f8"/>
<rect x="145.6" y="107.02" width="4.66" height="5.07" fill="#e8f5fc"/>
<rect x="154.92" y="107.02" width="4.66" height="5.07" fill="#e8f5fc"/>
<rect x="164.24" y="107.02" width="4.66" height="5.07" fill="#e8f5fc"/>
<rect x="168.9" y="107.02" width="4.66" height="5.07" fill="#c4e4f8"/>
<rect x="173.56" y="107.02" width="4.66" height="5.07" fill="#c4e4f8"/>
<rect x="178.22" y="107.02" width="4.66" height="5.07" fill="#e8f5fc"/>
<rect x="187.54" y="107.02" width="4.66" height="5.07" fill="#e8f5fc"/>
<rect x="210.84" y="107.02" width="4.66" height="5.07" fill="#969696"/>
<rect x="243.46" y="107.02" width="4.66" height="5.07" fill="#e8f5fc"/>
<rect x="248.12" y="107.02" width="4.66" height="5.07" fill="#e8f5fc"/>
<rect x="271.42" y="107.02" width="4.66" height="5.07" fill="#e8f5fc"/>
<rect x="99" y="112.09" width="4.66" height="5.07" fill="#9dd3f2"/>
<rect x="103.66" y="112.09" width="4.66" height="5.07" fill="#e8f5fc"/>
<rect x="108.32" y="112.09" width="4.66" height="5.07" fill="#e8f5fc"/>
<rect x="117.64" y="112.09" width="4.66" height="5.07" fill="#e8f5fc"/>
<rect x="122.3" y="112.09" width="4.66" height="5.07" fill="#e8f5fc"/>
<rect x="126.96" y="112.09" width="4.66" height="5.07" fill="#e8f5fc"/>
<rect x="131.62" y="112.09" width="4.66" height="5.07" fill="#e8f5fc"/>
<rect x="145.6" y="112.09" width="4.66" height="5.07" fill="#e8f5fc"/>
<rect x="150.26" y="112.09" width="4.66" height="5.07" fill="#e8f5fc"/>
<rect x="159.58" y="112.09" width="4.66" height="5.07" fill="#e8f5fc"/>
<rect x="164.24" y="112.09" width="4.66" height="5.07" fill="#e8f5fc"/>
<rect x="168.9" y="112.09" width="4.66" height="5.07" fill="#e8f5fc"/>
<rect x="187.54" y="112.09" width="4.66" height="5.07" fill="#e8f5fc"/>
<rect x="224.82" y="112.09" width="4.66" height="5.07" fill="#e8f5fc"/>
<rect x="229.48" y="112.09" width="4.66" height="5.07" fill="#e8f5fc"/>
<rect x="243.46" y="112.09" width="4.66" height="5.07" fill="#e8f5fc"/>
<rect x="248.12" y="112.09" width="4.66" height="5.07" fill="#e8f5fc"/>
<rect x="257.44" y="112.09" width="4.66" height="5.07" fill="#e8f5fc"/>
<rect x="262.1" y="112.09" width="4.66" height="5.07" fill="#e8f5fc"/>
<rect x="99" y="117.16" width="4.66" height="5.07" fill="#c4e4f8"/>
<rect x="103.66" y="117.16" width="4.66" height="5.07" fill="#e8f5fc"/>
<rect x="108.32" y="117.16" width="4.66" height="5.07" fill="#e8f5fc"/>
<rect x="112.98" y="117.16" width="4.66" height="5.07" fill="#c4e4f8"/>
<rect x="117.64" y="117.16" width="4.66" height="5.07" fill="#e8f5fc"/>
<rect x="126.96" y="117.16" width="4.66" height="5.07" fill="#e8f5fc"/>
<rect x="131.62" y="117.16" width="4.66" height="5.07" fill="#e8f5fc"/>
<rect x="145.6" y="117.16" width="4.66" height="5.07" fill="#e8f5fc"/>
<rect x="150.26" y="117.16" width="4.66" height="5.07" fill="#e8f5fc"/>
<rect x="159.58" y="117.16" width="4.66" height="5.07" fill="#e8f5fc"/>
<rect x="164.24" y="117.16" width="4.66" height="5.07" fill="#e8f5fc"/>
<rect x="173.56" y="117.16" width="4.66" height="5.07" fill="#e8f5fc"/>
<rect x="224.82" y="117.16" width="4.66" height="5.07" fill="#e8f5fc"/>
<rect x="238.8" y="117.16" width="4.66" height="5.07" fill="#e8f5fc"/>
<rect x="257.44" y="117.16" width="4.66" height="5.07" fill="#e8f5fc"/>
<rect x="271.42" y="117.16" width="4.66" height="5.07" fill="#e8f5fc"/>
<rect x="99" y="122.23" width="4.66" height="5.07" fill="#c4e4f8"/>
<rect x="112.98" y="122.23" width="4.66" height="5.07" fill="#c4e4f8"/>
<rect x="117.64" y="122.23" width="4.66" height="5.07" fill="#c4e4f8"/>
<rect x="122.3" y="122.23" width="4.66" height="5.07" fill="#c4e4f8"/>
<rect x="126.96" y="122.23" width="4.66" height="5.07" fill="#e8f5fc"/>
<rect x="131.62" y="122.23" width="4.66" height="5.07" fill="#e8f5fc"/>
<rect x="136.28" y="122.23" width="4.66" height="5.07" fill="#e8f5fc"/>
<rect x="140.94" y="122.23" width="4.66" height="5.07" fill="#c4e4f8"/>
<rect x="150.26" y="122.23" width="4.66" height="5.07" fill="#e8f5fc"/>
<rect x="154.92" y="122.23" width="4.66" height="5.07" fill="#e8f5fc"/>
<rect x="173.56" y="122.23" width="4.66" height="5.07" fill="#e8f5fc"/>
<rect x="215.5" y="122.23" width="4.66" height="5.07" fill="#969696"/>
<rect x="229.48" y="122.23" width="4.66" height="5.07" fill="#e8f5fc"/>
<rect x="234.14" y="122.23" width="4.66" height="5.07" fill="#e8f5fc"/>
<rect x="290.06" y="122.23" width="4.66" height="5.07" fill="#969696"/>
<rect x="99" y="127.3" width="4.66" height="5.07" fill="#c4e4f8"/>
<rect x="103.66" y="127.3" width="4.66" height="5.07" fill="#c4e4f8"/>
<rect x="108.32" y="127.3" width="4.66" height="5.07" fill="#c4e4f8"/>
<rect x="117.64" y="127.3" width="4.66" height="5.07" fill="#969696"/>
<rect x="154.92" y="127.3" width="4.66" height="5.07" fill="#969696"/>
<rect x="159.58" y="127.3" width="4.66" height="5.07" fill="#e8f5fc"/>
<rect x="164.24" y="127.3" width="4.66" height="5.07" fill="#e8f5fc"/>
<rect x="168.9" y="127.3" width="4.66" height="5.07" fill="#e8f5fc"/>
<rect x="210.84" y="127.3" width="4.66" height="5.07" fill="#c4e4f8"/>
<rect x="234.14" y="127.3" width="4.66" height="5.07" fill="#969696"/>
<rect x="238.8" y="127.3" width="4.66" height="5.07" fill="#e8f5fc"/>
<rect x="285.4" y="127.3" width="4.66" height="5.07" fill="#969696"/>
<rect x="99" y="132.37" width="4.66" height="5.07" fill="#c4e4f8"/>
<rect x="103.66" y="132.37" width="4.66" height="5.07" fill="#c4e4f8"/>
<rect x="108.32" y="132.37" width="4.66" height="5.07" fill="#969696"/>
<rect x="122.3" y="132.37" width="4.66" height="5.07" fill="#e8f5fc"/>
<rect x="126.96" y="132.37" width="4.66" height="5.07" fill="#e8f5fc"/>
<rect x="131.62" y="132.37" width="4.66" height="5.07" fill="#e8f5fc"/>
<rect x="136.28" y="132.37" width="4.66" height="5.07" fill="#e8f5fc"/>
<rect x="145.6" y="132.37" width="4.66" height="5.07" fill="#e8f5fc"/>
<rect x="150.26" y="132.37" width="4.66" height="5.07" fill="#e8f5fc"/>
<rect x="159.58" y="132.37" width="4.66" height="5.07" fill="#e8f5fc"/>
<rect x="164.24" y="132.37" width="4.66" height="5.07" fill="#e8f5fc"/>
<rect x="178.22" y="132.37" width="4.66" height="5.07" fill="#e8f5fc"/>
<rect x="206.18" y="132.37" width="4.66" height="5.07" fill="#e8f5fc"/>
<rect x="210.84" y="132.37" width="4.66" height="5.07" fill="#e8f5fc"/>
<rect x="234.14" y="132.37" width="4.66" height="5.07" fill="#3a3a3a"/>
<rect x="262.1" y="132.37" width="4.66" height="5.07" fill="#969696"/>
<rect x="99" y="137.44" width="4.66" height="5.07" fill="#e8f5fc"/>
<rect x="103.66" y="137.44" width="4.66" height="5.07" fill="#e8f5fc"/>
<rect x="112.98" y="137.44" width="4.66" height="5.07" fill="#e8f5fc"/>
<rect x="122.3" y="137.44" width="4.66" height="5.07" fill="#e8f5fc"/>
<rect x="131.62" y="137.44" width="4.66" height="5.07" fill="#969696"/>
<rect x="140.94" y="137.44" width="4.66" height="5.07" fill="#e8f5fc"/>
<rect x="145.6" y="137.44" width="4.66" height="5.07" fill="#e8f5fc"/>
<rect x="154.92" y="137.44" width="4.66" height="5.07" fill="#e8f5fc"/>
<rect x="159.58" y="137.44" width="4.66" height="5.07" fill="#e8f5fc"/>
<rect x="164.24" y="137.44" width="4.66" height="5.07" fill="#e8f5fc"/>
<rect x="168.9" y="137.44" width="4.66" height="5.07" fill="#e8f5fc"/>
<rect x="187.54" y="137.44" width="4.66" height="5.07" fill="#e8f5fc"/>
<rect x="229.48" y="137.44" width="4.66" height="5.07" fill="#969696"/>
<rect x="234.14" y="137.44" width="4.66" height="5.07" fill="#e8f5fc"/>
<rect x="238.8" y="137.44" width="4.66" height="5.07" fill="#c4e4f8"/>
<rect x="243.46" y="137.44" width="4.66" height="5.07" fill="#e8f5fc"/>
<rect x="99" y="142.51" width="4.66" height="5.07" fill="#c4e4f8"/>
<rect x="103.66" y="142.51" width="4.66" height="5.07" fill="#c4e4f8"/>
<rect x="117.64" y="142.51" width="4.66" height="5.07" fill="#e8f5fc"/>
<rect x="122.3" y="142.51" width="4.66" height="5.07" fill="#e8f5fc"/>
<rect x="126.96" y="142.51" width="4.66" height="5.07" fill="#969696"/>
<rect x="131.62" y="142.51" width="4.66" height="5.07" fill="#e8f5fc"/>
<rect x="145.6" y="142.51" width="4.66" height="5.07" fill="#e8f5fc"/>
<rect x="154.92" y="142.51" width="4.66" height="5.07" fill="#e8f5fc"/>
<rect x="173.56" y="142.51" width="4.66" height="5.07" fill="#e8f5fc"/>
<rect x="262.1" y="142.51" width="4.66" height="5.07" fill="#e8f5fc"/>
<rect x="99" y="147.58" width="4.66" height="5.07" fill="#e8f5fc"/>
<rect x="103.66" y="147.58" width="4.66" height="5.07" fill="#c4e4f8"/>
<rect x="108.32" y="147.58" width="4.66" height="5.07" fill="#e8f5fc"/>
<rect x="117.64" y="147.58" width="4.66" height="5.07" fill="#c4e4f8"/>
<rect x="122.3" y="147.58" width="4.66" height="5.07" fill="#c4e4f8"/>
<rect x="126.96" y="147.58" width="4.66" height="5.07" fill="#e8f5fc"/>
<rect x="131.62" y="147.58" width="4.66" height="5.07" fill="#e8f5fc"/>
<rect x="136.28" y="147.58" width="4.66" height="5.07" fill="#e8f5fc"/>
<rect x="140.94" y="147.58" width="4.66" height="5.07" fill="#c4e4f8"/>
<rect x="145.6" y="147.58" width="4.66" height="5.07" fill="#e8f5fc"/>
<rect x="150.26" y="147.58" width="4.66" height="5.07" fill="#e8f5fc"/>
<rect x="154.92" y="147.58" width="4.66" height="5.07" fill="#e8f5fc"/>
<rect x="159.58" y="147.58" width="4.66" height="5.07" fill="#e8f5fc"/>
<rect x="178.22" y="147.58" width="4.66" height="5.07" fill="#e8f5fc"/>
<rect x="182.88" y="147.58" width="4.66" height="5.07" fill="#e8f5fc"/>
<rect x="206.18" y="147.58" width="4.66" height="5.07" fill="#969696"/>
<rect x="210.84" y="147.58" width="4.66" height="5.07" fill="#c4e4f8"/>
<rect x="215.5" y="147.58" width="4.66" height="5.07" fill="#e8f5fc"/>
<rect x="220.16" y="147.58" width="4.66" height="5.07" fill="#c4e4f8"/>
<rect x="243.46" y="147.58" width="4.66" height="5.07" fill="#e8f5fc"/>
<rect x="248.12" y="147.58" width="4.66" height="5.07" fill="#c4e4f8"/>
<rect x="262.1" y="147.58" width="4.66" height="5.07" fill="#e8f5fc"/>
<rect x="266.76" y="147.58" width="4.66" height="5.07" fill="#e8f5fc"/>
<rect x="290.06" y="147.58" width="4.66" height="5.07" fill="#969696"/>
<rect x="103.66" y="152.65" width="4.66" height="5.07" fill="#e8f5fc"/>
<rect x="108.32" y="152.65" width="4.66" height="5.07" fill="#969696"/>
<rect x="117.64" y="152.65" width="4.66" height="5.07" fill="#e8f5fc"/>
<rect x="122.3" y="152.65" width="4.66" height="5.07" fill="#c4e4f8"/>
<rect x="126.96" y="152.65" width="4.66" height="5.07" fill="#c4e4f8"/>
<rect x="131.62" y="152.65" width="4.66" height="5.07" fill="#3a3a3a"/>
<rect x="145.6" y="152.65" width="4.66" height="5.07" fill="#e8f5fc"/>
<rect x="150.26" y="152.65" width="4.66" height="5.07" fill="#c4e4f8"/>
<rect x="159.58" y="152.65" width="4.66" height="5.07" fill="#e8f5fc"/>
<rect x="164.24" y="152.65" width="4.66" height="5.07" fill="#e8f5fc"/>
<rect x="192.2" y="152.65" width="4.66" height="5.07" fill="#969696"/>
<rect x="196.86" y="152.65" width="4.66" height="5.07" fill="#969696"/>
<rect x="201.52" y="152.65" width="4.66" height="5.07" fill="#969696"/>
<rect x="210.84" y="152.65" width="4.66" height="5.07" fill="#e8f5fc"/>
<rect x="224.82" y="152.65" width="4.66" height="5.07" fill="#e8f5fc"/>
<rect x="257.44" y="152.65" width="4.66" height="5.07" fill="#e8f5fc"/>
<rect x="262.1" y="152.65" width="4.66" height="5.07" fill="#e8f5fc"/>
<rect x="266.76" y="152.65" width="4.66" height="5.07" fill="#e8f5fc"/>
<rect x="290.06" y="152.65" width="4.66" height="5.07" fill="#969696"/>
<rect x="108.32" y="157.72" width="4.66" height="5.07" fill="#e8f5fc"/>
<rect x="112.98" y="157.72" width="4.66" height="5.07" fill="#969696"/>
<rect x="117.64" y="157.72" width="4.66" height="5.07" fill="#e8f5fc"/>
<rect x="122.3" y="157.72" width="4.66" height="5.07" fill="#e8f5fc"/>
<rect x="131.62" y="157.72" width="4.66" height="5.07" fill="#e8f5fc"/>
<rect x="140.94" y="157.72" width="4.66" height="5.07" fill="#e8f5fc"/>
<rect x="145.6" y="157.72" width="4.66" height="5.07" fill="#e8f5fc"/>
<rect x="150.26" y="157.72" width="4.66" height="5.07" fill="#e8f5fc"/>
<rect x="178.22" y="157.72" width="4.66" height="5.07" fill="#e8f5fc"/>
<rect x="196.86" y="157.72" width="4.66" height="5.07" fill="#e8f5fc"/>
<rect x="206.18" y="157.72" width="4.66" height="5.07" fill="#969696"/>
<rect x="210.84" y="157.72" width="4.66" height="5.07" fill="#e8f5fc"/>
<rect x="215.5" y="157.72" width="4.66" height="5.07" fill="#c4e4f8"/>
<rect x="224.82" y="157.72" width="4.66" height="5.07" fill="#969696"/>
<rect x="234.14" y="157.72" width="4.66" height="5.07" fill="#969696"/>
<rect x="243.46" y="157.72" width="4.66" height="5.07" fill="#e8f5fc"/>
<rect x="252.78" y="157.72" width="4.66" height="5.07" fill="#e8f5fc"/>
<rect x="99" y="162.79" width="4.66" height="5.07" fill="#969696"/>
<rect x="103.66" y="162.79" width="4.66" height="5.07" fill="#e8f5fc"/>
<rect x="108.32" y="162.79" width="4.66" height="5.07" fill="#e8f5fc"/>
<rect x="112.98" y="162.79" width="4.66" height="5.07" fill="#e8f5fc"/>
<rect x="117.64" y="162.79" width="4.66" height="5.07" fill="#e8f5fc"/>
<rect x="122.3" y="162.79" width="4.66" height="5.07" fill="#c4e4f8"/>
<rect x="126.96" y="162.79" width="4.66" height="5.07" fill="#9dd3f2"/>
<rect x="131.62" y="162.79" width="4.66" height="5.07" fill="#e8f5fc"/>
<rect x="136.28" y="162.79" width="4.66" height="5.07" fill="#e8f5fc"/>
<rect x="140.94" y="162.79" width="4.66" height="5.07" fill="#e8f5fc"/>
<rect x="154.92" y="162.79" width="4.66" height="5.07" fill="#e8f5fc"/>
<rect x="168.9" y="162.79" width="4.66" height="5.07" fill="#969696"/>
<rect x="192.2" y="162.79" width="4.66" height="5.07" fill="#e8f5fc"/>
<rect x="206.18" y="162.79" width="4.66" height="5.07" fill="#969696"/>
<rect x="210.84" y="162.79" width="4.66" height="5.07" fill="#e8f5fc"/>
<rect x="215.5" y="162.79" width="4.66" height="5.07" fill="#e8f5fc"/>
<rect x="243.46" y="162.79" width="4.66" height="5.07" fill="#e8f5fc"/>
<rect x="248.12" y="162.79" width="4.66" height="5.07" fill="#969696"/>
<rect x="99" y="167.86" width="4.66" height="5.07" fill="#e8f5fc"/>
<rect x="103.66" y="167.86" width="4.66" height="5.07" fill="#969696"/>
<rect x="108.32" y="167.86" width="4.66" height="5.07" fill="#c4e4f8"/>
<rect x="112.98" y="167.86" width="4.66" height="5.07" fill="#c4e4f8"/>
<rect x="117.64" y="167.86" width="4.66" height="5.07" fill="#e8f5fc"/>
<rect x="122.3" y="167.86" width="4.66" height="5.07" fill="#c4e4f8"/>
<rect x="136.28" y="167.86" width="4.66" height="5.07" fill="#e8f5fc"/>
<rect x="145.6" y="167.86" width="4.66" height="5.07" fill="#e8f5fc"/>
<rect x="150.26" y="167.86" width="4.66" height="5.07" fill="#c4e4f8"/>
<rect x="173.56" y="167.86" width="4.66" height="5.07" fill="#969696"/>
<rect x="187.54" y="167.86" width="4.66" height="5.07" fill="#969696"/>
<rect x="206.18" y="167.86" width="4.66" height="5.07" fill="#969696"/>
<rect x="210.84" y="167.86" width="4.66" height="5.07" fill="#969696"/>
<rect x="234.14" y="167.86" width="4.66" height="5.07" fill="#e8f5fc"/>
<rect x="243.46" y="167.86" width="4.66" height="5.07" fill="#969696"/>
<rect x="248.12" y="167.86" width="4.66" height="5.07" fill="#e8f5fc"/>
<rect x="252.78" y="167.86" width="4.66" height="5.07" fill="#e8f5fc"/>
<rect x="99" y="172.93" width="4.66" height="5.07" fill="#e8f5fc"/>
<rect x="108.32" y="172.93" width="4.66" height="5.07" fill="#c4e4f8"/>
<rect x="112.98" y="172.93" width="4.66" height="5.07" fill="#e8f5fc"/>
<rect x="117.64" y="172.93" width="4.66" height="5.07" fill="#e8f5fc"/>
<rect x="122.3" y="172.93" width="4.66" height="5.07" fill="#c4e4f8"/>
<rect x="136.28" y="172.93" width="4.66" height="5.07" fill="#969696"/>
<rect x="140.94" y="172.93" width="4.66" height="5.07" fill="#e8f5fc"/>
<rect x="168.9" y="172.93" width="4.66" height="5.07" fill="#e8f5fc"/>
<rect x="178.22" y="172.93" width="4.66" height="5.07" fill="#e8f5fc"/>
<rect x="182.88" y="172.93" width="4.66" height="5.07" fill="#e8f5fc"/>
<rect x="192.2" y="172.93" width="4.66" height="5.07" fill="#e8f5fc"/>
<rect x="210.84" y="172.93" width="4.66" height="5.07" fill="#e8f5fc"/>
<rect x="224.82" y="172.93" width="4.66" height="5.07" fill="#969696"/>
<rect x="248.12" y="172.93" width="4.66" height="5.07" fill="#e8f5fc"/>
<rect x="99" y="178" width="4.66" height="5.07" fill="#e8f5fc"/>
<rect x="103.66" y="178" width="4.66" height="5.07" fill="#e8f5fc"/>
<rect x="108.32" y="178" width="4.66" height="5.07" fill="#c4e4f8"/>
<rect x="112.98" y="178" width="4.66" height="5.07" fill="#c4e4f8"/>
<rect x="117.64" y="178" width="4.66" height="5.07" fill="#e8f5fc"/>
<rect x="126.96" y="178" width="4.66" height="5.07" fill="#e8f5fc"/>
<rect x="131.62" y="178" width="4.66" height="5.07" fill="#e8f5fc"/>
<rect x="140.94" y="178" width="4.66" height="5.07" fill="#e8f5fc"/>
<rect x="164.24" y="178" width="4.66" height="5.07" fill="#e8f5fc"/>
<rect x="182.88" y="178" width="4.66" height="5.07" fill="#e8f5fc"/>
<rect x="210.84" y="178" width="4.66" height="5.07" fill="#e8f5fc"/>
<rect x="248.12" y="178" width="4.66" height="5.07" fill="#e8f5fc"/>
<rect x="257.44" y="178" width="4.66" height="5.07" fill="#e8f5fc"/>
<rect x="103.66" y="183.07" width="4.66" height="5.07" fill="#e8f5fc"/>
<rect x="108.32" y="183.07" width="4.66" height="5.07" fill="#9dd3f2"/>
<rect x="112.98" y="183.07" width="4.66" height="5.07" fill="#c4e4f8"/>
<rect x="117.64" y="183.07" width="4.66" height="5.07" fill="#e8f5fc"/>
<rect x="126.96" y="183.07" width="4.66" height="5.07" fill="#e8f5fc"/>
<rect x="136.28" y="183.07" width="4.66" height="5.07" fill="#969696"/>
<rect x="140.94" y="183.07" width="4.66" height="5.07" fill="#e8f5fc"/>
<rect x="210.84" y="183.07" width="4.66" height="5.07" fill="#e8f5fc"/>
<rect x="234.14" y="183.07" width="4.66" height="5.07" fill="#e8f5fc"/>
<rect x="243.46" y="183.07" width="4.66" height="5.07" fill="#e8f5fc"/>
<rect x="290.06" y="183.07" width="4.66" height="5.07" fill="#969696"/>
<rect x="103.66" y="188.14" width="4.66" height="5.07" fill="#e8f5fc"/>
<rect x="108.32" y="188.14" width="4.66" height="5.07" fill="#9dd3f2"/>
<rect x="112.98" y="188.14" width="4.66" height="5.07" fill="#e8f5fc"/>
<rect x="117.64" y="188.14" width="4.66" height="5.07" fill="#e8f5fc"/>
<rect x="131.62" y="188.14" width="4.66" height="5.07" fill="#e8f5fc"/>
<rect x="140.94" y="188.14" width="4.66" height="5.07" fill="#e8f5fc"/>
<rect x="173.56" y="188.14" width="4.66" height="5.07" fill="#e8f5fc"/>
<rect x="210.84" y="188.14" width="4.66" height="5.07" fill="#969696"/>
<rect x="224.82" y="188.14" width="4.66" height="5.07" fill="#e8f5fc"/>
<rect x="234.14" y="188.14" width="4.66" height="5.07" fill="#e8f5fc"/>
<rect x="99" y="193.21" width="4.66" height="5.07" fill="#969696"/>
<rect x="103.66" y="193.21" width="4.66" height="5.07" fill="#c4e4f8"/>
<rect x="108.32" y="193.21" width="4.66" height="5.07" fill="#e8f5fc"/>
<rect x="117.64" y="193.21" width="4.66" height="5.07" fill="#e8f5fc"/>
<rect x="122.3" y="193.21" width="4.66" height="5.07" fill="#c4e4f8"/>
<rect x="145.6" y="193.21" width="4.66" height="5.07" fill="#e8f5fc"/>
<rect x="178.22" y="193.21" width="4.66" height="5.07" fill="#e8f5fc"/>
<rect x="206.18" y="193.21" width="4.66" height="5.07" fill="#e8f5fc"/>
<rect x="210.84" y="193.21" width="4.66" height="5.07" fill="#e8f5fc"/>
<rect x="215.5" y="193.21" width="4.66" height="5.07" fill="#e8f5fc"/>
<rect x="220.16" y="193.21" width="4.66" height="5.07" fill="#e8f5fc"/>
<rect x="224.82" y="193.21" width="4.66" height="5.07" fill="#e8f5fc"/>
<rect x="238.8" y="193.21" width="4.66" height="5.07" fill="#e8f5fc"/>
<rect x="243.46" y="193.21" width="4.66" height="5.07" fill="#969696"/>
<rect x="252.78" y="193.21" width="4.66" height="5.07" fill="#e8f5fc"/>
<rect x="262.1" y="193.21" width="4.66" height="5.07" fill="#e8f5fc"/>
<rect x="103.66" y="198.28" width="4.66" height="5.07" fill="#e8f5fc"/>
<rect x="108.32" y="198.28" width="4.66" height="5.07" fill="#e8f5fc"/>
<rect x="122.3" y="198.28" width="4.66" height="5.07" fill="#c4e4f8"/>
<rect x="140.94" y="198.28" width="4.66" height="5.07" fill="#e8f5fc"/>
<rect x="145.6" y="198.28" width="4.66" height="5.07" fill="#e8f5fc"/>
<rect x="159.58" y="198.28" width="4.66" height="5.07" fill="#e8f5fc"/>
<rect x="206.18" y="198.28" width="4.66" height="5.07" fill="#969696"/>
<rect x="210.84" y="198.28" width="4.66" height="5.07" fill="#c4e4f8"/>
<rect x="215.5" y="198.28" width="4.66" height="5.07" fill="#e8f5fc"/>
<rect x="220.16" y="198.28" width="4.66" height="5.07" fill="#e8f5fc"/>
<rect x="234.14" y="198.28" width="4.66" height="5.07" fill="#969696"/>
<rect x="99" y="203.35" width="4.66" height="5.07" fill="#e8f5fc"/>
<rect x="103.66" y="203.35" width="4.66" height="5.07" fill="#e8f5fc"/>
<rect x="108.32" y="203.35" width="4.66" height="5.07" fill="#c4e4f8"/>
<rect x="112.98" y="203.35" width="4.66" height="5.07" fill="#969696"/>
<rect x="145.6" y="203.35" width="4.66" height="5.07" fill="#c4e4f8"/>
<rect x="173.56" y="203.35" width="4.66" height="5.07" fill="#e8f5fc"/>
<rect x="266.76" y="203.35" width="4.66" height="5.07" fill="#e8f5fc"/>
<rect x="99" y="208.42" width="4.66" height="5.07" fill="#e8f5fc"/>
<rect x="103.66" y="208.42" width="4.66" height="5.07" fill="#e8f5fc"/>
<rect x="108.32" y="208.42" width="4.66" height="5.07" fill="#c4e4f8"/>
<rect x="112.98" y="208.42" width="4.66" height="5.07" fill="#969696"/>
<rect x="117.64" y="208.42" width="4.66" height="5.07" fill="#e8f5fc"/>
<rect x="271.42" y="208.42" width="4.66" height="5.07" fill="#e8f5fc"/>
<rect x="103.66" y="213.49" width="4.66" height="5.07" fill="#969696"/>
<rect x="108.32" y="213.49" width="4.66" height="5.07" fill="#e8f5fc"/>
<rect x="112.98" y="213.49" width="4.66" height="5.07" fill="#e8f5fc"/>
<rect x="117.64" y="213.49" width="4.66" height="5.07" fill="#e8f5fc"/>
<rect x="126.96" y="213.49" width="4.66" height="5.07" fill="#e8f5fc"/>
<rect x="173.56" y="213.49" width="4.66" height="5.07" fill="#e8f5fc"/>
<rect x="192.2" y="213.49" width="4.66" height="5.07" fill="#e8f5fc"/>
<rect x="234.14" y="213.49" width="4.66" height="5.07" fill="#e8f5fc"/>
<rect x="257.44" y="213.49" width="4.66" height="5.07" fill="#e8f5fc"/>
<rect x="285.4" y="213.49" width="4.66" height="5.07" fill="#e8f5fc"/>
<rect x="99" y="218.56" width="4.66" height="5.07" fill="#e8f5fc"/>
<rect x="108.32" y="218.56" width="4.66" height="5.07" fill="#e8f5fc"/>
<rect x="112.98" y="218.56" width="4.66" height="5.07" fill="#c4e4f8"/>
<rect x="187.54" y="218.56" width="4.66" height="5.07" fill="#e8f5fc"/>
<rect x="192.2" y="218.56" width="4.66" height="5.07" fill="#e8f5fc"/>
<rect x="224.82" y="218.56" width="4.66" height="5.07" fill="#969696"/>
<rect x="229.48" y="218.56" width="4.66" height="5.07" fill="#e8f5fc"/>
<rect x="238.8" y="218.56" width="4.66" height="5.07" fill="#e8f5fc"/>
<rect x="206.18" y="223.63" width="4.66" height="5.07" fill="#e8f5fc"/>
<rect x="290.06" y="223.63" width="4.66" height="5.07" fill="#e8f5fc"/>
<rect x="122.3" y="228.7" width="4.66" height="5.07" fill="#e8f5fc"/>
<rect x="99" y="233.77" width="4.66" height="5.07" fill="#e8f5fc"/>
<rect x="103.66" y="233.77" width="4.66" height="5.07" fill="#969696"/>
<rect x="117.64" y="233.77" width="4.66" height="5.07" fill="#969696"/>
<rect x="131.62" y="233.77" width="4.66" height="5.07" fill="#969696"/>
<rect x="164.24" y="233.77" width="4.66" height="5.07" fill="#e8f5fc"/>
<rect x="173.56" y="233.77" width="4.66" height="5.07" fill="#969696"/>
<path d="M99 25.9V238.84M103.66 25.9V238.84M108.32 25.9V238.84M112.98 25.9V238.84M117.64 25.9V238.84M122.3 25.9V238.84M126.96 25.9V238.84M131.62 25.9V238.84M136.28 25.9V238.84M140.94 25.9V238.84M145.6 25.9V238.84M150.26 25.9V238.84M154.92 25.9V238.84M159.58 25.9V238.84M164.24 25.9V238.84M168.9 25.9V238.84M173.56 25.9V238.84M178.22 25.9V238.84M182.88 25.9V238.84M187.54 25.9V238.84M192.2 25.9V238.84M196.86 25.9V238.84M201.52 25.9V238.84M206.18 25.9V238.84M210.84 25.9V238.84M215.5 25.9V238.84M220.16 25.9V238.84M224.82 25.9V238.84M229.48 25.9V238.84M234.14 25.9V238.84M238.8 25.9V238.84M243.46 25.9V238.84M248.12 25.9V238.84M252.78 25.9V238.84M257.44 25.9V238.84M262.1 25.9V238.84M266.76 25.9V238.84M271.42 25.9V238.84M276.08 25.9V238.84M280.74 25.9V238.84M285.4 25.9V238.84M290.06 25.9V238.84M294.72 25.9V238.84M99 25.9H294.72M99 30.97H294.72M99 36.04H294.72M99 41.11H294.72M99 46.18H294.72M99 51.25H294.72M99 56.32H294.72M99 61.39H294.72M99 66.46H294.72M99 71.53H294.72M99 76.6H294.72M99 81.67H294.72M99 86.74H294.72M99 91.81H294.72M99 96.88H294.72M99 101.95H294.72M99 107.02H294.72M99 112.09H294.72M99 117.16H294.72M99 122.23H294.72M99 127.3H294.72M99 132.37H294.72M99 137.44H294.72M99 142.51H294.72M99 147.58H294.72M99 152.65H294.72M99 157.72H294.72M99 162.79H294.72M99 167.86H294.72M99 172.93H294.72M99 178H294.72M99 183.07H294.72M99 188.14H294.72M99 193.21H294.72M99 198.28H294.72M99 203.35H294.72M99 208.42H294.72M99 213.49H294.72M99 218.56H294.72M99 223.63H294.72M99 228.7H294.72M99 233.77H294.72M99 238.84H294.72" stroke="#7e7e7e" stroke-width="0.6" fill="none"/>
</g>
<rect x="296.4" y="25.9" width="4.6" height="5.07" fill="#dcd7ee"/>
<rect x="301" y="25.9" width="4.6" height="5.07" fill="#efecf1"/>
<rect x="305.6" y="25.9" width="4.6" height="5.07" fill="#c3b9e2"/>
<rect x="310.2" y="25.9" width="4.6" height="5.07" fill="#dcd7ee"/>
<rect x="314.8" y="25.9" width="4.6" height="5.07" fill="#c3b9e2"/>
<rect x="319.4" y="25.9" width="4.6" height="5.07" fill="#dcd7ee"/>
<rect x="324" y="25.9" width="4.6" height="5.07" fill="#c3b9e2"/>
<rect x="328.6" y="25.9" width="4.6" height="5.07" fill="#dcd7ee"/>
<rect x="333.2" y="25.9" width="4.6" height="5.07" fill="#efecf1"/>
<rect x="337.8" y="25.9" width="4.6" height="5.07" fill="#f8d9d0"/>
<rect x="342.4" y="25.9" width="4.6" height="5.07" fill="#f8d9d0"/>
<rect x="347" y="25.9" width="4.6" height="5.07" fill="#f8d9d0"/>
<rect x="351.6" y="25.9" width="4.6" height="5.07" fill="#f8d9d0"/>
<rect x="358.5" y="25.9" width="4.6" height="5.07" fill="#c3b9e2"/>
<rect x="363.1" y="25.9" width="4.6" height="5.07" fill="#c3b9e2"/>
<rect x="367.7" y="25.9" width="4.6" height="5.07" fill="#c3b9e2"/>
<rect x="372.3" y="25.9" width="4.6" height="5.07" fill="#dcd7ee"/>
<rect x="376.9" y="25.9" width="4.6" height="5.07" fill="#c3b9e2"/>
<rect x="381.5" y="25.9" width="4.6" height="5.07" fill="#dcd7ee"/>
<rect x="386.1" y="25.9" width="4.6" height="5.07" fill="#c3b9e2"/>
<rect x="390.7" y="25.9" width="4.6" height="5.07" fill="#dcd7ee"/>
<rect x="395.3" y="25.9" width="4.6" height="5.07" fill="#dcd7ee"/>
<rect x="399.9" y="25.9" width="4.6" height="5.07" fill="#efecf1"/>
<rect x="404.5" y="25.9" width="4.6" height="5.07" fill="#efecf1"/>
<rect x="409.1" y="25.9" width="4.6" height="5.07" fill="#efecf1"/>
<rect x="413.7" y="25.9" width="4.6" height="5.07" fill="#f8d9d0"/>
<rect x="418.3" y="25.9" width="4.6" height="5.07" fill="#dcd7ee"/>
<rect x="422.9" y="25.9" width="4.6" height="5.07" fill="#efecf1"/>
<rect x="427.5" y="25.9" width="4.6" height="5.07" fill="#f5a896"/>
<rect x="432.1" y="25.9" width="4.6" height="5.07" fill="#efecf1"/>
<rect x="436.7" y="25.9" width="4.6" height="5.07" fill="#f8d9d0"/>
<rect x="296.4" y="30.97" width="4.6" height="5.07" fill="#efecf1"/>
<rect x="301" y="30.97" width="4.6" height="5.07" fill="#f8d9d0"/>
<rect x="305.6" y="30.97" width="4.6" height="5.07" fill="#dcd7ee"/>
<rect x="310.2" y="30.97" width="4.6" height="5.07" fill="#dcd7ee"/>
<rect x="314.8" y="30.97" width="4.6" height="5.07" fill="#dcd7ee"/>
<rect x="319.4" y="30.97" width="4.6" height="5.07" fill="#dcd7ee"/>
<rect x="324" y="30.97" width="4.6" height="5.07" fill="#efecf1"/>
<rect x="328.6" y="30.97" width="4.6" height="5.07" fill="#efecf1"/>
<rect x="333.2" y="30.97" width="4.6" height="5.07" fill="#f8d9d0"/>
<rect x="337.8" y="30.97" width="4.6" height="5.07" fill="#f8d9d0"/>
<rect x="342.4" y="30.97" width="4.6" height="5.07" fill="#f8d9d0"/>
<rect x="347" y="30.97" width="4.6" height="5.07" fill="#f8d9d0"/>
<rect x="351.6" y="30.97" width="4.6" height="5.07" fill="#f8d9d0"/>
<rect x="358.5" y="30.97" width="4.6" height="5.07" fill="#dcd7ee"/>
<rect x="363.1" y="30.97" width="4.6" height="5.07" fill="#f8d9d0"/>
<rect x="367.7" y="30.97" width="4.6" height="5.07" fill="#dcd7ee"/>
<rect x="372.3" y="30.97" width="4.6" height="5.07" fill="#f5a896"/>
<rect x="376.9" y="30.97" width="4.6" height="5.07" fill="#f8d9d0"/>
<rect x="381.5" y="30.97" width="4.6" height="5.07" fill="#f8d9d0"/>
<rect x="386.1" y="30.97" width="4.6" height="5.07" fill="#f8d9d0"/>
<rect x="390.7" y="30.97" width="4.6" height="5.07" fill="#f8d9d0"/>
<rect x="395.3" y="30.97" width="4.6" height="5.07" fill="#f8d9d0"/>
<rect x="399.9" y="30.97" width="4.6" height="5.07" fill="#f8d9d0"/>
<rect x="404.5" y="30.97" width="4.6" height="5.07" fill="#f5a896"/>
<rect x="409.1" y="30.97" width="4.6" height="5.07" fill="#f8d9d0"/>
<rect x="413.7" y="30.97" width="4.6" height="5.07" fill="#f8d9d0"/>
<rect x="418.3" y="30.97" width="4.6" height="5.07" fill="#f8d9d0"/>
<rect x="422.9" y="30.97" width="4.6" height="5.07" fill="#f8d9d0"/>
<rect x="427.5" y="30.97" width="4.6" height="5.07" fill="#f0664e"/>
<rect x="432.1" y="30.97" width="4.6" height="5.07" fill="#f8d9d0"/>
<rect x="436.7" y="30.97" width="4.6" height="5.07" fill="#f5a896"/>
<rect x="296.4" y="36.04" width="4.6" height="5.07" fill="#dcd7ee"/>
<rect x="301" y="36.04" width="4.6" height="5.07" fill="#dcd7ee"/>
<rect x="305.6" y="36.04" width="4.6" height="5.07" fill="#c3b9e2"/>
<rect x="310.2" y="36.04" width="4.6" height="5.07" fill="#c3b9e2"/>
<rect x="314.8" y="36.04" width="4.6" height="5.07" fill="#c3b9e2"/>
<rect x="319.4" y="36.04" width="4.6" height="5.07" fill="#dcd7ee"/>
<rect x="324" y="36.04" width="4.6" height="5.07" fill="#c3b9e2"/>
<rect x="328.6" y="36.04" width="4.6" height="5.07" fill="#c3b9e2"/>
<rect x="333.2" y="36.04" width="4.6" height="5.07" fill="#efecf1"/>
<rect x="337.8" y="36.04" width="4.6" height="5.07" fill="#efecf1"/>
<rect x="342.4" y="36.04" width="4.6" height="5.07" fill="#efecf1"/>
<rect x="347" y="36.04" width="4.6" height="5.07" fill="#f8d9d0"/>
<rect x="351.6" y="36.04" width="4.6" height="5.07" fill="#f8d9d0"/>
<rect x="358.5" y="36.04" width="4.6" height="5.07" fill="#c3b9e2"/>
<rect x="363.1" y="36.04" width="4.6" height="5.07" fill="#c3b9e2"/>
<rect x="367.7" y="36.04" width="4.6" height="5.07" fill="#c3b9e2"/>
<rect x="372.3" y="36.04" width="4.6" height="5.07" fill="#c3b9e2"/>
<rect x="376.9" y="36.04" width="4.6" height="5.07" fill="#c3b9e2"/>
<rect x="381.5" y="36.04" width="4.6" height="5.07" fill="#a597d4"/>
<rect x="386.1" y="36.04" width="4.6" height="5.07" fill="#a597d4"/>
<rect x="390.7" y="36.04" width="4.6" height="5.07" fill="#dcd7ee"/>
<rect x="395.3" y="36.04" width="4.6" height="5.07" fill="#c3b9e2"/>
<rect x="399.9" y="36.04" width="4.6" height="5.07" fill="#efecf1"/>
<rect x="404.5" y="36.04" width="4.6" height="5.07" fill="#c3b9e2"/>
<rect x="409.1" y="36.04" width="4.6" height="5.07" fill="#c3b9e2"/>
<rect x="413.7" y="36.04" width="4.6" height="5.07" fill="#dcd7ee"/>
<rect x="418.3" y="36.04" width="4.6" height="5.07" fill="#c3b9e2"/>
<rect x="422.9" y="36.04" width="4.6" height="5.07" fill="#c3b9e2"/>
<rect x="427.5" y="36.04" width="4.6" height="5.07" fill="#a597d4"/>
<rect x="432.1" y="36.04" width="4.6" height="5.07" fill="#dcd7ee"/>
<rect x="436.7" y="36.04" width="4.6" height="5.07" fill="#efecf1"/>
<rect x="296.4" y="41.11" width="4.6" height="5.07" fill="#f8d9d0"/>
<rect x="301" y="41.11" width="4.6" height="5.07" fill="#dcd7ee"/>
<rect x="305.6" y="41.11" width="4.6" height="5.07" fill="#c3b9e2"/>
<rect x="310.2" y="41.11" width="4.6" height="5.07" fill="#dcd7ee"/>
<rect x="314.8" y="41.11" width="4.6" height="5.07" fill="#f5a896"/>
<rect x="319.4" y="41.11" width="4.6" height="5.07" fill="#dcd7ee"/>
<rect x="324" y="41.11" width="4.6" height="5.07" fill="#f0664e"/>
<rect x="328.6" y="41.11" width="4.6" height="5.07" fill="#f8d9d0"/>
<rect x="333.2" y="41.11" width="4.6" height="5.07" fill="#efecf1"/>
<rect x="337.8" y="41.11" width="4.6" height="5.07" fill="#efecf1"/>
<rect x="342.4" y="41.11" width="4.6" height="5.07" fill="#f5a896"/>
<rect x="347" y="41.11" width="4.6" height="5.07" fill="#c3b9e2"/>
<rect x="351.6" y="41.11" width="4.6" height="5.07" fill="#c3b9e2"/>
<rect x="358.5" y="41.11" width="4.6" height="5.07" fill="#f0664e"/>
<rect x="363.1" y="41.11" width="4.6" height="5.07" fill="#f5a896"/>
<rect x="367.7" y="41.11" width="4.6" height="5.07" fill="#efecf1"/>
<rect x="372.3" y="41.11" width="4.6" height="5.07" fill="#dcd7ee"/>
<rect x="376.9" y="41.11" width="4.6" height="5.07" fill="#f0664e"/>
<rect x="381.5" y="41.11" width="4.6" height="5.07" fill="#f5a896"/>
<rect x="386.1" y="41.11" width="4.6" height="5.07" fill="#f8d9d0"/>
<rect x="390.7" y="41.11" width="4.6" height="5.07" fill="#dcd7ee"/>
<rect x="395.3" y="41.11" width="4.6" height="5.07" fill="#efecf1"/>
<rect x="399.9" y="41.11" width="4.6" height="5.07" fill="#dcd7ee"/>
<rect x="404.5" y="41.11" width="4.6" height="5.07" fill="#f8d9d0"/>
<rect x="409.1" y="41.11" width="4.6" height="5.07" fill="#f8d9d0"/>
<rect x="413.7" y="41.11" width="4.6" height="5.07" fill="#dcd7ee"/>
<rect x="418.3" y="41.11" width="4.6" height="5.07" fill="#c3b9e2"/>
<rect x="422.9" y="41.11" width="4.6" height="5.07" fill="#c3b9e2"/>
<rect x="427.5" y="41.11" width="4.6" height="5.07" fill="#a597d4"/>
<rect x="432.1" y="41.11" width="4.6" height="5.07" fill="#a597d4"/>
<rect x="436.7" y="41.11" width="4.6" height="5.07" fill="#c3b9e2"/>
<rect x="296.4" y="46.18" width="4.6" height="5.07" fill="#f8d9d0"/>
<rect x="301" y="46.18" width="4.6" height="5.07" fill="#f8d9d0"/>
<rect x="305.6" y="46.18" width="4.6" height="5.07" fill="#dcd7ee"/>
<rect x="310.2" y="46.18" width="4.6" height="5.07" fill="#efecf1"/>
<rect x="314.8" y="46.18" width="4.6" height="5.07" fill="#f0664e"/>
<rect x="319.4" y="46.18" width="4.6" height="5.07" fill="#efecf1"/>
<rect x="324" y="46.18" width="4.6" height="5.07" fill="#e8121c"/>
<rect x="328.6" y="46.18" width="4.6" height="5.07" fill="#f5a896"/>
<rect x="333.2" y="46.18" width="4.6" height="5.07" fill="#efecf1"/>
<rect x="337.8" y="46.18" width="4.6" height="5.07" fill="#f8d9d0"/>
<rect x="342.4" y="46.18" width="4.6" height="5.07" fill="#f8d9d0"/>
<rect x="347" y="46.18" width="4.6" height="5.07" fill="#c3b9e2"/>
<rect x="351.6" y="46.18" width="4.6" height="5.07" fill="#c3b9e2"/>
<rect x="358.5" y="46.18" width="4.6" height="5.07" fill="#e8121c"/>
<rect x="363.1" y="46.18" width="4.6" height="5.07" fill="#f0664e"/>
<rect x="367.7" y="46.18" width="4.6" height="5.07" fill="#f5a896"/>
<rect x="372.3" y="46.18" width="4.6" height="5.07" fill="#f5a896"/>
<rect x="376.9" y="46.18" width="4.6" height="5.07" fill="#f0664e"/>
<rect x="381.5" y="46.18" width="4.6" height="5.07" fill="#f0664e"/>
<rect x="386.1" y="46.18" width="4.6" height="5.07" fill="#f0664e"/>
<rect x="390.7" y="46.18" width="4.6" height="5.07" fill="#f8d9d0"/>
<rect x="395.3" y="46.18" width="4.6" height="5.07" fill="#f5a896"/>
<rect x="399.9" y="46.18" width="4.6" height="5.07" fill="#efecf1"/>
<rect x="404.5" y="46.18" width="4.6" height="5.07" fill="#f5a896"/>
<rect x="409.1" y="46.18" width="4.6" height="5.07" fill="#f5a896"/>
<rect x="413.7" y="46.18" width="4.6" height="5.07" fill="#efecf1"/>
<rect x="418.3" y="46.18" width="4.6" height="5.07" fill="#efecf1"/>
<rect x="422.9" y="46.18" width="4.6" height="5.07" fill="#dcd7ee"/>
<rect x="427.5" y="46.18" width="4.6" height="5.07" fill="#a597d4"/>
<rect x="432.1" y="46.18" width="4.6" height="5.07" fill="#dcd7ee"/>
<rect x="436.7" y="46.18" width="4.6" height="5.07" fill="#c3b9e2"/>
<rect x="296.4" y="51.25" width="4.6" height="5.07" fill="#efecf1"/>
<rect x="301" y="51.25" width="4.6" height="5.07" fill="#efecf1"/>
<rect x="305.6" y="51.25" width="4.6" height="5.07" fill="#c3b9e2"/>
<rect x="310.2" y="51.25" width="4.6" height="5.07" fill="#dcd7ee"/>
<rect x="314.8" y="51.25" width="4.6" height="5.07" fill="#f8d9d0"/>
<rect x="319.4" y="51.25" width="4.6" height="5.07" fill="#dcd7ee"/>
<rect x="324" y="51.25" width="4.6" height="5.07" fill="#f5a896"/>
<rect x="328.6" y="51.25" width="4.6" height="5.07" fill="#efecf1"/>
<rect x="333.2" y="51.25" width="4.6" height="5.07" fill="#efecf1"/>
<rect x="337.8" y="51.25" width="4.6" height="5.07" fill="#f8d9d0"/>
<rect x="342.4" y="51.25" width="4.6" height="5.07" fill="#f8d9d0"/>
<rect x="347" y="51.25" width="4.6" height="5.07" fill="#f8d9d0"/>
<rect x="351.6" y="51.25" width="4.6" height="5.07" fill="#f8d9d0"/>
<rect x="358.5" y="51.25" width="4.6" height="5.07" fill="#f5a896"/>
<rect x="363.1" y="51.25" width="4.6" height="5.07" fill="#f8d9d0"/>
<rect x="367.7" y="51.25" width="4.6" height="5.07" fill="#f8d9d0"/>
<rect x="372.3" y="51.25" width="4.6" height="5.07" fill="#f8d9d0"/>
<rect x="376.9" y="51.25" width="4.6" height="5.07" fill="#f8d9d0"/>
<rect x="381.5" y="51.25" width="4.6" height="5.07" fill="#f8d9d0"/>
<rect x="386.1" y="51.25" width="4.6" height="5.07" fill="#f8d9d0"/>
<rect x="390.7" y="51.25" width="4.6" height="5.07" fill="#efecf1"/>
<rect x="395.3" y="51.25" width="4.6" height="5.07" fill="#f8d9d0"/>
<rect x="399.9" y="51.25" width="4.6" height="5.07" fill="#efecf1"/>
<rect x="404.5" y="51.25" width="4.6" height="5.07" fill="#f8d9d0"/>
<rect x="409.1" y="51.25" width="4.6" height="5.07" fill="#f8d9d0"/>
<rect x="413.7" y="51.25" width="4.6" height="5.07" fill="#f8d9d0"/>
<rect x="418.3" y="51.25" width="4.6" height="5.07" fill="#dcd7ee"/>
<rect x="422.9" y="51.25" width="4.6" height="5.07" fill="#dcd7ee"/>
<rect x="427.5" y="51.25" width="4.6" height="5.07" fill="#c3b9e2"/>
<rect x="432.1" y="51.25" width="4.6" height="5.07" fill="#f5a896"/>
<rect x="436.7" y="51.25" width="4.6" height="5.07" fill="#dcd7ee"/>
<rect x="296.4" y="56.32" width="4.6" height="5.07" fill="#f8d9d0"/>
<rect x="301" y="56.32" width="4.6" height="5.07" fill="#c3b9e2"/>
<rect x="305.6" y="56.32" width="4.6" height="5.07" fill="#c3b9e2"/>
<rect x="310.2" y="56.32" width="4.6" height="5.07" fill="#c3b9e2"/>
<rect x="314.8" y="56.32" width="4.6" height="5.07" fill="#f8d9d0"/>
<rect x="319.4" y="56.32" width="4.6" height="5.07" fill="#c3b9e2"/>
<rect x="324" y="56.32" width="4.6" height="5.07" fill="#f5a896"/>
<rect x="328.6" y="56.32" width="4.6" height="5.07" fill="#efecf1"/>
<rect x="333.2" y="56.32" width="4.6" height="5.07" fill="#dcd7ee"/>
<rect x="337.8" y="56.32" width="4.6" height="5.07" fill="#dcd7ee"/>
<rect x="342.4" y="56.32" width="4.6" height="5.07" fill="#efecf1"/>
<rect x="347" y="56.32" width="4.6" height="5.07" fill="#a597d4"/>
<rect x="351.6" y="56.32" width="4.6" height="5.07" fill="#c3b9e2"/>
<rect x="358.5" y="56.32" width="4.6" height="5.07" fill="#f0664e"/>
<rect x="363.1" y="56.32" width="4.6" height="5.07" fill="#f8d9d0"/>
<rect x="367.7" y="56.32" width="4.6" height="5.07" fill="#f8d9d0"/>
<rect x="372.3" y="56.32" width="4.6" height="5.07" fill="#c3b9e2"/>
<rect x="376.9" y="56.32" width="4.6" height="5.07" fill="#efecf1"/>
<rect x="381.5" y="56.32" width="4.6" height="5.07" fill="#c3b9e2"/>
<rect x="386.1" y="56.32" width="4.6" height="5.07" fill="#c3b9e2"/>
<rect x="390.7" y="56.32" width="4.6" height="5.07" fill="#a597d4"/>
<rect x="395.3" y="56.32" width="4.6" height="5.07" fill="#c3b9e2"/>
<rect x="399.9" y="56.32" width="4.6" height="5.07" fill="#c3b9e2"/>
<rect x="404.5" y="56.32" width="4.6" height="5.07" fill="#a597d4"/>
<rect x="409.1" y="56.32" width="4.6" height="5.07" fill="#c3b9e2"/>
<rect x="413.7" y="56.32" width="4.6" height="5.07" fill="#a597d4"/>
<rect x="418.3" y="56.32" width="4.6" height="5.07" fill="#c3b9e2"/>
<rect x="422.9" y="56.32" width="4.6" height="5.07" fill="#a597d4"/>
<rect x="427.5" y="56.32" width="4.6" height="5.07" fill="#a597d4"/>
<rect x="432.1" y="56.32" width="4.6" height="5.07" fill="#7e6ec2"/>
<rect x="436.7" y="56.32" width="4.6" height="5.07" fill="#a597d4"/>
<rect x="296.4" y="61.39" width="4.6" height="5.07" fill="#dcd7ee"/>
<rect x="301" y="61.39" width="4.6" height="5.07" fill="#efecf1"/>
<rect x="305.6" y="61.39" width="4.6" height="5.07" fill="#c3b9e2"/>
<rect x="310.2" y="61.39" width="4.6" height="5.07" fill="#dcd7ee"/>
<rect x="314.8" y="61.39" width="4.6" height="5.07" fill="#c3b9e2"/>
<rect x="319.4" y="61.39" width="4.6" height="5.07" fill="#dcd7ee"/>
<rect x="324" y="61.39" width="4.6" height="5.07" fill="#c3b9e2"/>
<rect x="328.6" y="61.39" width="4.6" height="5.07" fill="#efecf1"/>
<rect x="333.2" y="61.39" width="4.6" height="5.07" fill="#efecf1"/>
<rect x="337.8" y="61.39" width="4.6" height="5.07" fill="#efecf1"/>
<rect x="342.4" y="61.39" width="4.6" height="5.07" fill="#efecf1"/>
<rect x="347" y="61.39" width="4.6" height="5.07" fill="#f5a896"/>
<rect x="351.6" y="61.39" width="4.6" height="5.07" fill="#f5a896"/>
<rect x="358.5" y="61.39" width="4.6" height="5.07" fill="#c3b9e2"/>
<rect x="363.1" y="61.39" width="4.6" height="5.07" fill="#c3b9e2"/>
<rect x="367.7" y="61.39" width="4.6" height="5.07" fill="#dcd7ee"/>
<rect x="372.3" y="61.39" width="4.6" height="5.07" fill="#c3b9e2"/>
<rect x="376.9" y="61.39" width="4.6" height="5.07" fill="#efecf1"/>
<rect x="381.5" y="61.39" width="4.6" height="5.07" fill="#efecf1"/>
<rect x="386.1" y="61.39" width="4.6" height="5.07" fill="#f8d9d0"/>
<rect x="390.7" y="61.39" width="4.6" height="5.07" fill="#efecf1"/>
<rect x="395.3" y="61.39" width="4.6" height="5.07" fill="#dcd7ee"/>
<rect x="399.9" y="61.39" width="4.6" height="5.07" fill="#efecf1"/>
<rect x="404.5" y="61.39" width="4.6" height="5.07" fill="#f8d9d0"/>
<rect x="409.1" y="61.39" width="4.6" height="5.07" fill="#f8d9d0"/>
<rect x="413.7" y="61.39" width="4.6" height="5.07" fill="#f8d9d0"/>
<rect x="418.3" y="61.39" width="4.6" height="5.07" fill="#dcd7ee"/>
<rect x="422.9" y="61.39" width="4.6" height="5.07" fill="#dcd7ee"/>
<rect x="427.5" y="61.39" width="4.6" height="5.07" fill="#c3b9e2"/>
<rect x="432.1" y="61.39" width="4.6" height="5.07" fill="#f0664e"/>
<rect x="436.7" y="61.39" width="4.6" height="5.07" fill="#f8d9d0"/>
<rect x="296.4" y="66.46" width="4.6" height="5.07" fill="#efecf1"/>
<rect x="301" y="66.46" width="4.6" height="5.07" fill="#f8d9d0"/>
<rect x="305.6" y="66.46" width="4.6" height="5.07" fill="#dcd7ee"/>
<rect x="310.2" y="66.46" width="4.6" height="5.07" fill="#dcd7ee"/>
<rect x="314.8" y="66.46" width="4.6" height="5.07" fill="#dcd7ee"/>
<rect x="319.4" y="66.46" width="4.6" height="5.07" fill="#efecf1"/>
<rect x="324" y="66.46" width="4.6" height="5.07" fill="#dcd7ee"/>
<rect x="328.6" y="66.46" width="4.6" height="5.07" fill="#f8d9d0"/>
<rect x="333.2" y="66.46" width="4.6" height="5.07" fill="#f8d9d0"/>
<rect x="337.8" y="66.46" width="4.6" height="5.07" fill="#f8d9d0"/>
<rect x="342.4" y="66.46" width="4.6" height="5.07" fill="#f8d9d0"/>
<rect x="347" y="66.46" width="4.6" height="5.07" fill="#f5a896"/>
<rect x="351.6" y="66.46" width="4.6" height="5.07" fill="#f5a896"/>
<rect x="358.5" y="66.46" width="4.6" height="5.07" fill="#dcd7ee"/>
<rect x="363.1" y="66.46" width="4.6" height="5.07" fill="#efecf1"/>
<rect x="367.7" y="66.46" width="4.6" height="5.07" fill="#f8d9d0"/>
<rect x="372.3" y="66.46" width="4.6" height="5.07" fill="#f5a896"/>
<rect x="376.9" y="66.46" width="4.6" height="5.07" fill="#f8d9d0"/>
<rect x="381.5" y="66.46" width="4.6" height="5.07" fill="#f5a896"/>
<rect x="386.1" y="66.46" width="4.6" height="5.07" fill="#f8d9d0"/>
<rect x="390.7" y="66.46" width="4.6" height="5.07" fill="#f8d9d0"/>
<rect x="395.3" y="66.46" width="4.6" height="5.07" fill="#f5a896"/>
<rect x="399.9" y="66.46" width="4.6" height="5.07" fill="#f8d9d0"/>
<rect x="404.5" y="66.46" width="4.6" height="5.07" fill="#f5a896"/>
<rect x="409.1" y="66.46" width="4.6" height="5.07" fill="#f5a896"/>
<rect x="413.7" y="66.46" width="4.6" height="5.07" fill="#f5a896"/>
<rect x="418.3" y="66.46" width="4.6" height="5.07" fill="#efecf1"/>
<rect x="422.9" y="66.46" width="4.6" height="5.07" fill="#f8d9d0"/>
<rect x="427.5" y="66.46" width="4.6" height="5.07" fill="#e8121c"/>
<rect x="432.1" y="66.46" width="4.6" height="5.07" fill="#f5a896"/>
<rect x="436.7" y="66.46" width="4.6" height="5.07" fill="#f5a896"/>
<rect x="296.4" y="71.53" width="4.6" height="5.07" fill="#f8d9d0"/>
<rect x="301" y="71.53" width="4.6" height="5.07" fill="#efecf1"/>
<rect x="305.6" y="71.53" width="4.6" height="5.07" fill="#f0664e"/>
<rect x="310.2" y="71.53" width="4.6" height="5.07" fill="#f0664e"/>
<rect x="314.8" y="71.53" width="4.6" height="5.07" fill="#efecf1"/>
<rect x="319.4" y="71.53" width="4.6" height="5.07" fill="#e8121c"/>
<rect x="324" y="71.53" width="4.6" height="5.07" fill="#f8d9d0"/>
<rect x="328.6" y="71.53" width="4.6" height="5.07" fill="#f8d9d0"/>
<rect x="333.2" y="71.53" width="4.6" height="5.07" fill="#efecf1"/>
<rect x="337.8" y="71.53" width="4.6" height="5.07" fill="#dcd7ee"/>
<rect x="342.4" y="71.53" width="4.6" height="5.07" fill="#efecf1"/>
<rect x="347" y="71.53" width="4.6" height="5.07" fill="#c3b9e2"/>
<rect x="351.6" y="71.53" width="4.6" height="5.07" fill="#dcd7ee"/>
<rect x="358.5" y="71.53" width="4.6" height="5.07" fill="#f5a896"/>
<rect x="363.1" y="71.53" width="4.6" height="5.07" fill="#f5a896"/>
<rect x="367.7" y="71.53" width="4.6" height="5.07" fill="#f0664e"/>
<rect x="372.3" y="71.53" width="4.6" height="5.07" fill="#f5a896"/>
<rect x="376.9" y="71.53" width="4.6" height="5.07" fill="#f8d9d0"/>
<rect x="381.5" y="71.53" width="4.6" height="5.07" fill="#f5a896"/>
<rect x="386.1" y="71.53" width="4.6" height="5.07" fill="#f8d9d0"/>
<rect x="390.7" y="71.53" width="4.6" height="5.07" fill="#f5a896"/>
<rect x="395.3" y="71.53" width="4.6" height="5.07" fill="#f5a896"/>
<rect x="399.9" y="71.53" width="4.6" height="5.07" fill="#efecf1"/>
<rect x="404.5" y="71.53" width="4.6" height="5.07" fill="#f8d9d0"/>
<rect x="409.1" y="71.53" width="4.6" height="5.07" fill="#f8d9d0"/>
<rect x="413.7" y="71.53" width="4.6" height="5.07" fill="#dcd7ee"/>
<rect x="418.3" y="71.53" width="4.6" height="5.07" fill="#f0664e"/>
<rect x="422.9" y="71.53" width="4.6" height="5.07" fill="#f8d9d0"/>
<rect x="427.5" y="71.53" width="4.6" height="5.07" fill="#c3b9e2"/>
<rect x="432.1" y="71.53" width="4.6" height="5.07" fill="#c3b9e2"/>
<rect x="436.7" y="71.53" width="4.6" height="5.07" fill="#c3b9e2"/>
<rect x="296.4" y="76.6" width="4.6" height="5.07" fill="#efecf1"/>
<rect x="301" y="76.6" width="4.6" height="5.07" fill="#dcd7ee"/>
<rect x="305.6" y="76.6" width="4.6" height="5.07" fill="#f0664e"/>
<rect x="310.2" y="76.6" width="4.6" height="5.07" fill="#f0664e"/>
<rect x="314.8" y="76.6" width="4.6" height="5.07" fill="#dcd7ee"/>
<rect x="319.4" y="76.6" width="4.6" height="5.07" fill="#e8121c"/>
<rect x="324" y="76.6" width="4.6" height="5.07" fill="#dcd7ee"/>
<rect x="328.6" y="76.6" width="4.6" height="5.07" fill="#efecf1"/>
<rect x="333.2" y="76.6" width="4.6" height="5.07" fill="#efecf1"/>
<rect x="337.8" y="76.6" width="4.6" height="5.07" fill="#c3b9e2"/>
<rect x="342.4" y="76.6" width="4.6" height="5.07" fill="#c3b9e2"/>
<rect x="347" y="76.6" width="4.6" height="5.07" fill="#c3b9e2"/>
<rect x="351.6" y="76.6" width="4.6" height="5.07" fill="#dcd7ee"/>
<rect x="358.5" y="76.6" width="4.6" height="5.07" fill="#efecf1"/>
<rect x="363.1" y="76.6" width="4.6" height="5.07" fill="#f8d9d0"/>
<rect x="367.7" y="76.6" width="4.6" height="5.07" fill="#f5a896"/>
<rect x="372.3" y="76.6" width="4.6" height="5.07" fill="#f8d9d0"/>
<rect x="376.9" y="76.6" width="4.6" height="5.07" fill="#efecf1"/>
<rect x="381.5" y="76.6" width="4.6" height="5.07" fill="#dcd7ee"/>
<rect x="386.1" y="76.6" width="4.6" height="5.07" fill="#dcd7ee"/>
<rect x="390.7" y="76.6" width="4.6" height="5.07" fill="#f5a896"/>
<rect x="395.3" y="76.6" width="4.6" height="5.07" fill="#f8d9d0"/>
<rect x="399.9" y="76.6" width="4.6" height="5.07" fill="#dcd7ee"/>
<rect x="404.5" y="76.6" width="4.6" height="5.07" fill="#efecf1"/>
<rect x="409.1" y="76.6" width="4.6" height="5.07" fill="#dcd7ee"/>
<rect x="413.7" y="76.6" width="4.6" height="5.07" fill="#dcd7ee"/>
<rect x="418.3" y="76.6" width="4.6" height="5.07" fill="#f0664e"/>
<rect x="422.9" y="76.6" width="4.6" height="5.07" fill="#f8d9d0"/>
<rect x="427.5" y="76.6" width="4.6" height="5.07" fill="#c3b9e2"/>
<rect x="432.1" y="76.6" width="4.6" height="5.07" fill="#c3b9e2"/>
<rect x="436.7" y="76.6" width="4.6" height="5.07" fill="#c3b9e2"/>
<rect x="296.4" y="81.67" width="4.6" height="5.07" fill="#efecf1"/>
<rect x="301" y="81.67" width="4.6" height="5.07" fill="#dcd7ee"/>
<rect x="305.6" y="81.67" width="4.6" height="5.07" fill="#f5a896"/>
<rect x="310.2" y="81.67" width="4.6" height="5.07" fill="#f5a896"/>
<rect x="314.8" y="81.67" width="4.6" height="5.07" fill="#f5a896"/>
<rect x="319.4" y="81.67" width="4.6" height="5.07" fill="#dcd7ee"/>
<rect x="324" y="81.67" width="4.6" height="5.07" fill="#dcd7ee"/>
<rect x="328.6" y="81.67" width="4.6" height="5.07" fill="#f8d9d0"/>
<rect x="333.2" y="81.67" width="4.6" height="5.07" fill="#efecf1"/>
<rect x="337.8" y="81.67" width="4.6" height="5.07" fill="#c3b9e2"/>
<rect x="342.4" y="81.67" width="4.6" height="5.07" fill="#dcd7ee"/>
<rect x="347" y="81.67" width="4.6" height="5.07" fill="#c3b9e2"/>
<rect x="351.6" y="81.67" width="4.6" height="5.07" fill="#dcd7ee"/>
<rect x="358.5" y="81.67" width="4.6" height="5.07" fill="#efecf1"/>
<rect x="363.1" y="81.67" width="4.6" height="5.07" fill="#f8d9d0"/>
<rect x="367.7" y="81.67" width="4.6" height="5.07" fill="#f5a896"/>
<rect x="372.3" y="81.67" width="4.6" height="5.07" fill="#c3b9e2"/>
<rect x="376.9" y="81.67" width="4.6" height="5.07" fill="#f8d9d0"/>
<rect x="381.5" y="81.67" width="4.6" height="5.07" fill="#c3b9e2"/>
<rect x="386.1" y="81.67" width="4.6" height="5.07" fill="#c3b9e2"/>
<rect x="390.7" y="81.67" width="4.6" height="5.07" fill="#f8d9d0"/>
<rect x="395.3" y="81.67" width="4.6" height="5.07" fill="#f8d9d0"/>
<rect x="399.9" y="81.67" width="4.6" height="5.07" fill="#dcd7ee"/>
<rect x="404.5" y="81.67" width="4.6" height="5.07" fill="#efecf1"/>
<rect x="409.1" y="81.67" width="4.6" height="5.07" fill="#dcd7ee"/>
<rect x="413.7" y="81.67" width="4.6" height="5.07" fill="#dcd7ee"/>
<rect x="418.3" y="81.67" width="4.6" height="5.07" fill="#f8d9d0"/>
<rect x="422.9" y="81.67" width="4.6" height="5.07" fill="#f5a896"/>
<rect x="427.5" y="81.67" width="4.6" height="5.07" fill="#a597d4"/>
<rect x="432.1" y="81.67" width="4.6" height="5.07" fill="#c3b9e2"/>
<rect x="436.7" y="81.67" width="4.6" height="5.07" fill="#c3b9e2"/>
<rect x="296.4" y="86.74" width="4.6" height="5.07" fill="#efecf1"/>
<rect x="301" y="86.74" width="4.6" height="5.07" fill="#dcd7ee"/>
<rect x="305.6" y="86.74" width="4.6" height="5.07" fill="#f5a896"/>
<rect x="310.2" y="86.74" width="4.6" height="5.07" fill="#f8d9d0"/>
<rect x="314.8" y="86.74" width="4.6" height="5.07" fill="#f8d9d0"/>
<rect x="319.4" y="86.74" width="4.6" height="5.07" fill="#dcd7ee"/>
<rect x="324" y="86.74" width="4.6" height="5.07" fill="#dcd7ee"/>
<rect x="328.6" y="86.74" width="4.6" height="5.07" fill="#efecf1"/>
<rect x="333.2" y="86.74" width="4.6" height="5.07" fill="#efecf1"/>
<rect x="337.8" y="86.74" width="4.6" height="5.07" fill="#dcd7ee"/>
<rect x="342.4" y="86.74" width="4.6" height="5.07" fill="#dcd7ee"/>
<rect x="347" y="86.74" width="4.6" height="5.07" fill="#dcd7ee"/>
<rect x="351.6" y="86.74" width="4.6" height="5.07" fill="#c3b9e2"/>
<rect x="358.5" y="86.74" width="4.6" height="5.07" fill="#efecf1"/>
<rect x="363.1" y="86.74" width="4.6" height="5.07" fill="#efecf1"/>
<rect x="367.7" y="86.74" width="4.6" height="5.07" fill="#f8d9d0"/>
<rect x="372.3" y="86.74" width="4.6" height="5.07" fill="#c3b9e2"/>
<rect x="376.9" y="86.74" width="4.6" height="5.07" fill="#efecf1"/>
<rect x="381.5" y="86.74" width="4.6" height="5.07" fill="#c3b9e2"/>
<rect x="386.1" y="86.74" width="4.6" height="5.07" fill="#c3b9e2"/>
<rect x="390.7" y="86.74" width="4.6" height="5.07" fill="#c3b9e2"/>
<rect x="395.3" y="86.74" width="4.6" height="5.07" fill="#f8d9d0"/>
<rect x="399.9" y="86.74" width="4.6" height="5.07" fill="#efecf1"/>
<rect x="404.5" y="86.74" width="4.6" height="5.07" fill="#dcd7ee"/>
<rect x="409.1" y="86.74" width="4.6" height="5.07" fill="#dcd7ee"/>
<rect x="413.7" y="86.74" width="4.6" height="5.07" fill="#dcd7ee"/>
<rect x="418.3" y="86.74" width="4.6" height="5.07" fill="#f8d9d0"/>
<rect x="422.9" y="86.74" width="4.6" height="5.07" fill="#f8d9d0"/>
<rect x="427.5" y="86.74" width="4.6" height="5.07" fill="#a597d4"/>
<rect x="432.1" y="86.74" width="4.6" height="5.07" fill="#c3b9e2"/>
<rect x="436.7" y="86.74" width="4.6" height="5.07" fill="#c3b9e2"/>
<rect x="296.4" y="91.81" width="4.6" height="5.07" fill="#efecf1"/>
<rect x="301" y="91.81" width="4.6" height="5.07" fill="#efecf1"/>
<rect x="305.6" y="91.81" width="4.6" height="5.07" fill="#f0664e"/>
<rect x="310.2" y="91.81" width="4.6" height="5.07" fill="#f5a896"/>
<rect x="314.8" y="91.81" width="4.6" height="5.07" fill="#f5a896"/>
<rect x="319.4" y="91.81" width="4.6" height="5.07" fill="#dcd7ee"/>
<rect x="324" y="91.81" width="4.6" height="5.07" fill="#dcd7ee"/>
<rect x="328.6" y="91.81" width="4.6" height="5.07" fill="#efecf1"/>
<rect x="333.2" y="91.81" width="4.6" height="5.07" fill="#efecf1"/>
<rect x="337.8" y="91.81" width="4.6" height="5.07" fill="#efecf1"/>
<rect x="342.4" y="91.81" width="4.6" height="5.07" fill="#f8d9d0"/>
<rect x="347" y="91.81" width="4.6" height="5.07" fill="#f8d9d0"/>
<rect x="351.6" y="91.81" width="4.6" height="5.07" fill="#f8d9d0"/>
<rect x="358.5" y="91.81" width="4.6" height="5.07" fill="#efecf1"/>
<rect x="363.1" y="91.81" width="4.6" height="5.07" fill="#f8d9d0"/>
<rect x="367.7" y="91.81" width="4.6" height="5.07" fill="#f5a896"/>
<rect x="372.3" y="91.81" width="4.6" height="5.07" fill="#f8d9d0"/>
<rect x="376.9" y="91.81" width="4.6" height="5.07" fill="#f8d9d0"/>
<rect x="381.5" y="91.81" width="4.6" height="5.07" fill="#f8d9d0"/>
<rect x="386.1" y="91.81" width="4.6" height="5.07" fill="#f8d9d0"/>
<rect x="390.7" y="91.81" width="4.6" height="5.07" fill="#f8d9d0"/>
<rect x="395.3" y="91.81" width="4.6" height="5.07" fill="#f8d9d0"/>
<rect x="399.9" y="91.81" width="4.6" height="5.07" fill="#f8d9d0"/>
<rect x="404.5" y="91.81" width="4.6" height="5.07" fill="#f8d9d0"/>
<rect x="409.1" y="91.81" width="4.6" height="5.07" fill="#f8d9d0"/>
<rect x="413.7" y="91.81" width="4.6" height="5.07" fill="#f8d9d0"/>
<rect x="418.3" y="91.81" width="4.6" height="5.07" fill="#f5a896"/>
<rect x="422.9" y="91.81" width="4.6" height="5.07" fill="#f5a896"/>
<rect x="427.5" y="91.81" width="4.6" height="5.07" fill="#c3b9e2"/>
<rect x="432.1" y="91.81" width="4.6" height="5.07" fill="#f8d9d0"/>
<rect x="436.7" y="91.81" width="4.6" height="5.07" fill="#dcd7ee"/>
<rect x="296.4" y="96.88" width="4.6" height="5.07" fill="#efecf1"/>
<rect x="301" y="96.88" width="4.6" height="5.07" fill="#efecf1"/>
<rect x="305.6" y="96.88" width="4.6" height="5.07" fill="#f5a896"/>
<rect x="310.2" y="96.88" width="4.6" height="5.07" fill="#f5a896"/>
<rect x="314.8" y="96.88" width="4.6" height="5.07" fill="#f5a896"/>
<rect x="319.4" y="96.88" width="4.6" height="5.07" fill="#dcd7ee"/>
<rect x="324" y="96.88" width="4.6" height="5.07" fill="#dcd7ee"/>
<rect x="328.6" y="96.88" width="4.6" height="5.07" fill="#f8d9d0"/>
<rect x="333.2" y="96.88" width="4.6" height="5.07" fill="#efecf1"/>
<rect x="337.8" y="96.88" width="4.6" height="5.07" fill="#f8d9d0"/>
<rect x="342.4" y="96.88" width="4.6" height="5.07" fill="#efecf1"/>
<rect x="347" y="96.88" width="4.6" height="5.07" fill="#dcd7ee"/>
<rect x="351.6" y="96.88" width="4.6" height="5.07" fill="#dcd7ee"/>
<rect x="358.5" y="96.88" width="4.6" height="5.07" fill="#dcd7ee"/>
<rect x="363.1" y="96.88" width="4.6" height="5.07" fill="#efecf1"/>
<rect x="367.7" y="96.88" width="4.6" height="5.07" fill="#f8d9d0"/>
<rect x="372.3" y="96.88" width="4.6" height="5.07" fill="#f5a896"/>
<rect x="376.9" y="96.88" width="4.6" height="5.07" fill="#c3b9e2"/>
<rect x="381.5" y="96.88" width="4.6" height="5.07" fill="#efecf1"/>
<rect x="386.1" y="96.88" width="4.6" height="5.07" fill="#f8d9d0"/>
<rect x="390.7" y="96.88" width="4.6" height="5.07" fill="#f8d9d0"/>
<rect x="395.3" y="96.88" width="4.6" height="5.07" fill="#f8d9d0"/>
<rect x="399.9" y="96.88" width="4.6" height="5.07" fill="#f8d9d0"/>
<rect x="404.5" y="96.88" width="4.6" height="5.07" fill="#f8d9d0"/>
<rect x="409.1" y="96.88" width="4.6" height="5.07" fill="#f8d9d0"/>
<rect x="413.7" y="96.88" width="4.6" height="5.07" fill="#f8d9d0"/>
<rect x="418.3" y="96.88" width="4.6" height="5.07" fill="#f5a896"/>
<rect x="422.9" y="96.88" width="4.6" height="5.07" fill="#f8d9d0"/>
<rect x="427.5" y="96.88" width="4.6" height="5.07" fill="#e8121c"/>
<rect x="432.1" y="96.88" width="4.6" height="5.07" fill="#efecf1"/>
<rect x="436.7" y="96.88" width="4.6" height="5.07" fill="#f8d9d0"/>
<rect x="296.4" y="101.95" width="4.6" height="5.07" fill="#f8d9d0"/>
<rect x="301" y="101.95" width="4.6" height="5.07" fill="#dcd7ee"/>
<rect x="305.6" y="101.95" width="4.6" height="5.07" fill="#c3b9e2"/>
<rect x="310.2" y="101.95" width="4.6" height="5.07" fill="#c3b9e2"/>
<rect x="314.8" y="101.95" width="4.6" height="5.07" fill="#efecf1"/>
<rect x="319.4" y="101.95" width="4.6" height="5.07" fill="#dcd7ee"/>
<rect x="324" y="101.95" width="4.6" height="5.07" fill="#f5a896"/>
<rect x="328.6" y="101.95" width="4.6" height="5.07" fill="#f8d9d0"/>
<rect x="333.2" y="101.95" width="4.6" height="5.07" fill="#efecf1"/>
<rect x="337.8" y="101.95" width="4.6" height="5.07" fill="#efecf1"/>
<rect x="342.4" y="101.95" width="4.6" height="5.07" fill="#f8d9d0"/>
<rect x="347" y="101.95" width="4.6" height="5.07" fill="#dcd7ee"/>
<rect x="351.6" y="101.95" width="4.6" height="5.07" fill="#c3b9e2"/>
<rect x="358.5" y="101.95" width="4.6" height="5.07" fill="#f5a896"/>
<rect x="363.1" y="101.95" width="4.6" height="5.07" fill="#f5a896"/>
<rect x="367.7" y="101.95" width="4.6" height="5.07" fill="#dcd7ee"/>
<rect x="372.3" y="101.95" width="4.6" height="5.07" fill="#efecf1"/>
<rect x="376.9" y="101.95" width="4.6" height="5.07" fill="#f5a896"/>
<rect x="381.5" y="101.95" width="4.6" height="5.07" fill="#f8d9d0"/>
<rect x="386.1" y="101.95" width="4.6" height="5.07" fill="#f8d9d0"/>
<rect x="390.7" y="101.95" width="4.6" height="5.07" fill="#dcd7ee"/>
<rect x="395.3" y="101.95" width="4.6" height="5.07" fill="#efecf1"/>
<rect x="399.9" y="101.95" width="4.6" height="5.07" fill="#efecf1"/>
<rect x="404.5" y="101.95" width="4.6" height="5.07" fill="#dcd7ee"/>
<rect x="409.1" y="101.95" width="4.6" height="5.07" fill="#efecf1"/>
<rect x="413.7" y="101.95" width="4.6" height="5.07" fill="#dcd7ee"/>
<rect x="418.3" y="101.95" width="4.6" height="5.07" fill="#c3b9e2"/>
<rect x="422.9" y="101.95" width="4.6" height="5.07" fill="#c3b9e2"/>
<rect x="427.5" y="101.95" width="4.6" height="5.07" fill="#a597d4"/>
<rect x="432.1" y="101.95" width="4.6" height="5.07" fill="#c3b9e2"/>
<rect x="436.7" y="101.95" width="4.6" height="5.07" fill="#dcd7ee"/>
<rect x="296.4" y="107.02" width="4.6" height="5.07" fill="#f8d9d0"/>
<rect x="301" y="107.02" width="4.6" height="5.07" fill="#dcd7ee"/>
<rect x="305.6" y="107.02" width="4.6" height="5.07" fill="#c3b9e2"/>
<rect x="310.2" y="107.02" width="4.6" height="5.07" fill="#c3b9e2"/>
<rect x="314.8" y="107.02" width="4.6" height="5.07" fill="#f8d9d0"/>
<rect x="319.4" y="107.02" width="4.6" height="5.07" fill="#dcd7ee"/>
<rect x="324" y="107.02" width="4.6" height="5.07" fill="#f0664e"/>
<rect x="328.6" y="107.02" width="4.6" height="5.07" fill="#f8d9d0"/>
<rect x="333.2" y="107.02" width="4.6" height="5.07" fill="#efecf1"/>
<rect x="337.8" y="107.02" width="4.6" height="5.07" fill="#efecf1"/>
<rect x="342.4" y="107.02" width="4.6" height="5.07" fill="#f8d9d0"/>
<rect x="347" y="107.02" width="4.6" height="5.07" fill="#c3b9e2"/>
<rect x="351.6" y="107.02" width="4.6" height="5.07" fill="#c3b9e2"/>
<rect x="358.5" y="107.02" width="4.6" height="5.07" fill="#f0664e"/>
<rect x="363.1" y="107.02" width="4.6" height="5.07" fill="#f8d9d0"/>
<rect x="367.7" y="107.02" width="4.6" height="5.07" fill="#f8d9d0"/>
<rect x="372.3" y="107.02" width="4.6" height="5.07" fill="#dcd7ee"/>
<rect x="376.9" y="107.02" width="4.6" height="5.07" fill="#f5a896"/>
<rect x="381.5" y="107.02" width="4.6" height="5.07" fill="#f8d9d0"/>
<rect x="386.1" y="107.02" width="4.6" height="5.07" fill="#f8d9d0"/>
<rect x="390.7" y="107.02" width="4.6" height="5.07" fill="#dcd7ee"/>
<rect x="395.3" y="107.02" width="4.6" height="5.07" fill="#dcd7ee"/>
<rect x="399.9" y="107.02" width="4.6" height="5.07" fill="#dcd7ee"/>
<rect x="404.5" y="107.02" width="4.6" height="5.07" fill="#dcd7ee"/>
<rect x="409.1" y="107.02" width="4.6" height="5.07" fill="#efecf1"/>
<rect x="413.7" y="107.02" width="4.6" height="5.07" fill="#c3b9e2"/>
<rect x="418.3" y="107.02" width="4.6" height="5.07" fill="#c3b9e2"/>
<rect x="422.9" y="107.02" width="4.6" height="5.07" fill="#c3b9e2"/>
<rect x="427.5" y="107.02" width="4.6" height="5.07" fill="#a597d4"/>
<rect x="432.1" y="107.02" width="4.6" height="5.07" fill="#c3b9e2"/>
<rect x="436.7" y="107.02" width="4.6" height="5.07" fill="#c3b9e2"/>
<rect x="296.4" y="112.09" width="4.6" height="5.07" fill="#e8121c"/>
<rect x="301" y="112.09" width="4.6" height="5.07" fill="#dcd7ee"/>
<rect x="305.6" y="112.09" width="4.6" height="5.07" fill="#c3b9e2"/>
<rect x="310.2" y="112.09" width="4.6" height="5.07" fill="#c3b9e2"/>
<rect x="314.8" y="112.09" width="4.6" height="5.07" fill="#c3b9e2"/>
<rect x="319.4" y="112.09" width="4.6" height="5.07" fill="#dcd7ee"/>
<rect x="324" y="112.09" width="4.6" height="5.07" fill="#efecf1"/>
<rect x="328.6" y="112.09" width="4.6" height="5.07" fill="#f8d9d0"/>
<rect x="333.2" y="112.09" width="4.6" height="5.07" fill="#dcd7ee"/>
<rect x="337.8" y="112.09" width="4.6" height="5.07" fill="#f8d9d0"/>
<rect x="342.4" y="112.09" width="4.6" height="5.07" fill="#c3b9e2"/>
<rect x="347" y="112.09" width="4.6" height="5.07" fill="#a597d4"/>
<rect x="351.6" y="112.09" width="4.6" height="5.07" fill="#a597d4"/>
<rect x="358.5" y="112.09" width="4.6" height="5.07" fill="#e8121c"/>
<rect x="363.1" y="112.09" width="4.6" height="5.07" fill="#e8121c"/>
<rect x="367.7" y="112.09" width="4.6" height="5.07" fill="#e8121c"/>
<rect x="372.3" y="112.09" width="4.6" height="5.07" fill="#f5a896"/>
<rect x="376.9" y="112.09" width="4.6" height="5.07" fill="#efecf1"/>
<rect x="381.5" y="112.09" width="4.6" height="5.07" fill="#f8d9d0"/>
<rect x="386.1" y="112.09" width="4.6" height="5.07" fill="#dcd7ee"/>
<rect x="390.7" y="112.09" width="4.6" height="5.07" fill="#efecf1"/>
<rect x="395.3" y="112.09" width="4.6" height="5.07" fill="#f8d9d0"/>
<rect x="399.9" y="112.09" width="4.6" height="5.07" fill="#dcd7ee"/>
<rect x="404.5" y="112.09" width="4.6" height="5.07" fill="#dcd7ee"/>
<rect x="409.1" y="112.09" width="4.6" height="5.07" fill="#dcd7ee"/>
<rect x="413.7" y="112.09" width="4.6" height="5.07" fill="#c3b9e2"/>
<rect x="418.3" y="112.09" width="4.6" height="5.07" fill="#c3b9e2"/>
<rect x="422.9" y="112.09" width="4.6" height="5.07" fill="#c3b9e2"/>
<rect x="427.5" y="112.09" width="4.6" height="5.07" fill="#7e6ec2"/>
<rect x="432.1" y="112.09" width="4.6" height="5.07" fill="#c3b9e2"/>
<rect x="436.7" y="112.09" width="4.6" height="5.07" fill="#c3b9e2"/>
<rect x="296.4" y="117.16" width="4.6" height="5.07" fill="#efecf1"/>
<rect x="301" y="117.16" width="4.6" height="5.07" fill="#f8d9d0"/>
<rect x="305.6" y="117.16" width="4.6" height="5.07" fill="#f5a896"/>
<rect x="310.2" y="117.16" width="4.6" height="5.07" fill="#f5a896"/>
<rect x="314.8" y="117.16" width="4.6" height="5.07" fill="#efecf1"/>
<rect x="319.4" y="117.16" width="4.6" height="5.07" fill="#f0664e"/>
<rect x="324" y="117.16" width="4.6" height="5.07" fill="#efecf1"/>
<rect x="328.6" y="117.16" width="4.6" height="5.07" fill="#f8d9d0"/>
<rect x="333.2" y="117.16" width="4.6" height="5.07" fill="#efecf1"/>
<rect x="337.8" y="117.16" width="4.6" height="5.07" fill="#f8d9d0"/>
<rect x="342.4" y="117.16" width="4.6" height="5.07" fill="#efecf1"/>
<rect x="347" y="117.16" width="4.6" height="5.07" fill="#efecf1"/>
<rect x="351.6" y="117.16" width="4.6" height="5.07" fill="#efecf1"/>
<rect x="358.5" y="117.16" width="4.6" height="5.07" fill="#efecf1"/>
<rect x="363.1" y="117.16" width="4.6" height="5.07" fill="#efecf1"/>
<rect x="367.7" y="117.16" width="4.6" height="5.07" fill="#f8d9d0"/>
<rect x="372.3" y="117.16" width="4.6" height="5.07" fill="#f8d9d0"/>
<rect x="376.9" y="117.16" width="4.6" height="5.07" fill="#efecf1"/>
<rect x="381.5" y="117.16" width="4.6" height="5.07" fill="#f8d9d0"/>
<rect x="386.1" y="117.16" width="4.6" height="5.07" fill="#f8d9d0"/>
<rect x="390.7" y="117.16" width="4.6" height="5.07" fill="#f8d9d0"/>
<rect x="395.3" y="117.16" width="4.6" height="5.07" fill="#f8d9d0"/>
<rect x="399.9" y="117.16" width="4.6" height="5.07" fill="#f8d9d0"/>
<rect x="404.5" y="117.16" width="4.6" height="5.07" fill="#f5a896"/>
<rect x="409.1" y="117.16" width="4.6" height="5.07" fill="#f5a896"/>
<rect x="413.7" y="117.16" width="4.6" height="5.07" fill="#f5a896"/>
<rect x="418.3" y="117.16" width="4.6" height="5.07" fill="#f5a896"/>
<rect x="422.9" y="117.16" width="4.6" height="5.07" fill="#f8d9d0"/>
<rect x="427.5" y="117.16" width="4.6" height="5.07" fill="#f5a896"/>
<rect x="432.1" y="117.16" width="4.6" height="5.07" fill="#f8d9d0"/>
<rect x="436.7" y="117.16" width="4.6" height="5.07" fill="#f8d9d0"/>
<rect x="296.4" y="122.23" width="4.6" height="5.07" fill="#f8d9d0"/>
<rect x="301" y="122.23" width="4.6" height="5.07" fill="#efecf1"/>
<rect x="305.6" y="122.23" width="4.6" height="5.07" fill="#f0664e"/>
<rect x="310.2" y="122.23" width="4.6" height="5.07" fill="#f0664e"/>
<rect x="314.8" y="122.23" width="4.6" height="5.07" fill="#f8d9d0"/>
<rect x="319.4" y="122.23" width="4.6" height="5.07" fill="#e8121c"/>
<rect x="324" y="122.23" width="4.6" height="5.07" fill="#f8d9d0"/>
<rect x="328.6" y="122.23" width="4.6" height="5.07" fill="#f8d9d0"/>
<rect x="333.2" y="122.23" width="4.6" height="5.07" fill="#efecf1"/>
<rect x="337.8" y="122.23" width="4.6" height="5.07" fill="#dcd7ee"/>
<rect x="342.4" y="122.23" width="4.6" height="5.07" fill="#efecf1"/>
<rect x="347" y="122.23" width="4.6" height="5.07" fill="#c3b9e2"/>
<rect x="351.6" y="122.23" width="4.6" height="5.07" fill="#c3b9e2"/>
<rect x="358.5" y="122.23" width="4.6" height="5.07" fill="#f5a896"/>
<rect x="363.1" y="122.23" width="4.6" height="5.07" fill="#f5a896"/>
<rect x="367.7" y="122.23" width="4.6" height="5.07" fill="#f0664e"/>
<rect x="372.3" y="122.23" width="4.6" height="5.07" fill="#f5a896"/>
<rect x="376.9" y="122.23" width="4.6" height="5.07" fill="#f8d9d0"/>
<rect x="381.5" y="122.23" width="4.6" height="5.07" fill="#f8d9d0"/>
<rect x="386.1" y="122.23" width="4.6" height="5.07" fill="#f8d9d0"/>
<rect x="390.7" y="122.23" width="4.6" height="5.07" fill="#f5a896"/>
<rect x="395.3" y="122.23" width="4.6" height="5.07" fill="#efecf1"/>
<rect x="399.9" y="122.23" width="4.6" height="5.07" fill="#efecf1"/>
<rect x="404.5" y="122.23" width="4.6" height="5.07" fill="#f8d9d0"/>
<rect x="409.1" y="122.23" width="4.6" height="5.07" fill="#f8d9d0"/>
<rect x="413.7" y="122.23" width="4.6" height="5.07" fill="#dcd7ee"/>
<rect x="418.3" y="122.23" width="4.6" height="5.07" fill="#f0664e"/>
<rect x="422.9" y="122.23" width="4.6" height="5.07" fill="#f5a896"/>
<rect x="427.5" y="122.23" width="4.6" height="5.07" fill="#c3b9e2"/>
<rect x="432.1" y="122.23" width="4.6" height="5.07" fill="#c3b9e2"/>
<rect x="436.7" y="122.23" width="4.6" height="5.07" fill="#c3b9e2"/>
<rect x="296.4" y="127.3" width="4.6" height="5.07" fill="#dcd7ee"/>
<rect x="301" y="127.3" width="4.6" height="5.07" fill="#e8121c"/>
<rect x="305.6" y="127.3" width="4.6" height="5.07" fill="#f5a896"/>
<rect x="310.2" y="127.3" width="4.6" height="5.07" fill="#f5a896"/>
<rect x="314.8" y="127.3" width="4.6" height="5.07" fill="#f5a896"/>
<rect x="319.4" y="127.3" width="4.6" height="5.07" fill="#efecf1"/>
<rect x="324" y="127.3" width="4.6" height="5.07" fill="#efecf1"/>
<rect x="328.6" y="127.3" width="4.6" height="5.07" fill="#f8d9d0"/>
<rect x="333.2" y="127.3" width="4.6" height="5.07" fill="#efecf1"/>
<rect x="337.8" y="127.3" width="4.6" height="5.07" fill="#dcd7ee"/>
<rect x="342.4" y="127.3" width="4.6" height="5.07" fill="#dcd7ee"/>
<rect x="347" y="127.3" width="4.6" height="5.07" fill="#dcd7ee"/>
<rect x="351.6" y="127.3" width="4.6" height="5.07" fill="#dcd7ee"/>
<rect x="358.5" y="127.3" width="4.6" height="5.07" fill="#efecf1"/>
<rect x="363.1" y="127.3" width="4.6" height="5.07" fill="#f8d9d0"/>
<rect x="367.7" y="127.3" width="4.6" height="5.07" fill="#f8d9d0"/>
<rect x="372.3" y="127.3" width="4.6" height="5.07" fill="#dcd7ee"/>
<rect x="376.9" y="127.3" width="4.6" height="5.07" fill="#f8d9d0"/>
<rect x="381.5" y="127.3" width="4.6" height="5.07" fill="#f8d9d0"/>
<rect x="386.1" y="127.3" width="4.6" height="5.07" fill="#efecf1"/>
<rect x="390.7" y="127.3" width="4.6" height="5.07" fill="#f5a896"/>
<rect x="395.3" y="127.3" width="4.6" height="5.07" fill="#f8d9d0"/>
<rect x="399.9" y="127.3" width="4.6" height="5.07" fill="#f5a896"/>
<rect x="404.5" y="127.3" width="4.6" height="5.07" fill="#efecf1"/>
<rect x="409.1" y="127.3" width="4.6" height="5.07" fill="#dcd7ee"/>
<rect x="413.7" y="127.3" width="4.6" height="5.07" fill="#dcd7ee"/>
<rect x="418.3" y="127.3" width="4.6" height="5.07" fill="#f8d9d0"/>
<rect x="422.9" y="127.3" width="4.6" height="5.07" fill="#efecf1"/>
<rect x="427.5" y="127.3" width="4.6" height="5.07" fill="#c3b9e2"/>
<rect x="432.1" y="127.3" width="4.6" height="5.07" fill="#f8d9d0"/>
<rect x="436.7" y="127.3" width="4.6" height="5.07" fill="#c3b9e2"/>
<rect x="296.4" y="132.37" width="4.6" height="5.07" fill="#e8121c"/>
<rect x="301" y="132.37" width="4.6" height="5.07" fill="#c3b9e2"/>
<rect x="305.6" y="132.37" width="4.6" height="5.07" fill="#c3b9e2"/>
<rect x="310.2" y="132.37" width="4.6" height="5.07" fill="#a597d4"/>
<rect x="314.8" y="132.37" width="4.6" height="5.07" fill="#c3b9e2"/>
<rect x="319.4" y="132.37" width="4.6" height="5.07" fill="#c3b9e2"/>
<rect x="324" y="132.37" width="4.6" height="5.07" fill="#dcd7ee"/>
<rect x="328.6" y="132.37" width="4.6" height="5.07" fill="#dcd7ee"/>
<rect x="333.2" y="132.37" width="4.6" height="5.07" fill="#dcd7ee"/>
<rect x="337.8" y="132.37" width="4.6" height="5.07" fill="#dcd7ee"/>
<rect x="342.4" y="132.37" width="4.6" height="5.07" fill="#c3b9e2"/>
<rect x="347" y="132.37" width="4.6" height="5.07" fill="#a597d4"/>
<rect x="351.6" y="132.37" width="4.6" height="5.07" fill="#a597d4"/>
<rect x="358.5" y="132.37" width="4.6" height="5.07" fill="#e8121c"/>
<rect x="363.1" y="132.37" width="4.6" height="5.07" fill="#f0664e"/>
<rect x="367.7" y="132.37" width="4.6" height="5.07" fill="#f5a896"/>
<rect x="372.3" y="132.37" width="4.6" height="5.07" fill="#c3b9e2"/>
<rect x="376.9" y="132.37" width="4.6" height="5.07" fill="#c3b9e2"/>
<rect x="381.5" y="132.37" width="4.6" height="5.07" fill="#c3b9e2"/>
<rect x="386.1" y="132.37" width="4.6" height="5.07" fill="#a597d4"/>
<rect x="390.7" y="132.37" width="4.6" height="5.07" fill="#c3b9e2"/>
<rect x="395.3" y="132.37" width="4.6" height="5.07" fill="#dcd7ee"/>
<rect x="399.9" y="132.37" width="4.6" height="5.07" fill="#c3b9e2"/>
<rect x="404.5" y="132.37" width="4.6" height="5.07" fill="#c3b9e2"/>
<rect x="409.1" y="132.37" width="4.6" height="5.07" fill="#c3b9e2"/>
<rect x="413.7" y="132.37" width="4.6" height="5.07" fill="#a597d4"/>
<rect x="418.3" y="132.37" width="4.6" height="5.07" fill="#c3b9e2"/>
<rect x="422.9" y="132.37" width="4.6" height="5.07" fill="#a597d4"/>
<rect x="427.5" y="132.37" width="4.6" height="5.07" fill="#7e6ec2"/>
<rect x="432.1" y="132.37" width="4.6" height="5.07" fill="#7e6ec2"/>
<rect x="436.7" y="132.37" width="4.6" height="5.07" fill="#a597d4"/>
<rect x="296.4" y="137.44" width="4.6" height="5.07" fill="#efecf1"/>
<rect x="301" y="137.44" width="4.6" height="5.07" fill="#dcd7ee"/>
<rect x="305.6" y="137.44" width="4.6" height="5.07" fill="#c3b9e2"/>
<rect x="310.2" y="137.44" width="4.6" height="5.07" fill="#dcd7ee"/>
<rect x="314.8" y="137.44" width="4.6" height="5.07" fill="#f8d9d0"/>
<rect x="319.4" y="137.44" width="4.6" height="5.07" fill="#dcd7ee"/>
<rect x="324" y="137.44" width="4.6" height="5.07" fill="#f5a896"/>
<rect x="328.6" y="137.44" width="4.6" height="5.07" fill="#dcd7ee"/>
<rect x="333.2" y="137.44" width="4.6" height="5.07" fill="#dcd7ee"/>
<rect x="337.8" y="137.44" width="4.6" height="5.07" fill="#dcd7ee"/>
<rect x="342.4" y="137.44" width="4.6" height="5.07" fill="#dcd7ee"/>
<rect x="347" y="137.44" width="4.6" height="5.07" fill="#c3b9e2"/>
<rect x="351.6" y="137.44" width="4.6" height="5.07" fill="#c3b9e2"/>
<rect x="358.5" y="137.44" width="4.6" height="5.07" fill="#efecf1"/>
<rect x="363.1" y="137.44" width="4.6" height="5.07" fill="#f8d9d0"/>
<rect x="367.7" y="137.44" width="4.6" height="5.07" fill="#c3b9e2"/>
<rect x="372.3" y="137.44" width="4.6" height="5.07" fill="#f5a896"/>
<rect x="376.9" y="137.44" width="4.6" height="5.07" fill="#efecf1"/>
<rect x="381.5" y="137.44" width="4.6" height="5.07" fill="#f8d9d0"/>
<rect x="386.1" y="137.44" width="4.6" height="5.07" fill="#f8d9d0"/>
<rect x="390.7" y="137.44" width="4.6" height="5.07" fill="#dcd7ee"/>
<rect x="395.3" y="137.44" width="4.6" height="5.07" fill="#dcd7ee"/>
<rect x="399.9" y="137.44" width="4.6" height="5.07" fill="#dcd7ee"/>
<rect x="404.5" y="137.44" width="4.6" height="5.07" fill="#f8d9d0"/>
<rect x="409.1" y="137.44" width="4.6" height="5.07" fill="#dcd7ee"/>
<rect x="413.7" y="137.44" width="4.6" height="5.07" fill="#c3b9e2"/>
<rect x="418.3" y="137.44" width="4.6" height="5.07" fill="#c3b9e2"/>
<rect x="422.9" y="137.44" width="4.6" height="5.07" fill="#c3b9e2"/>
<rect x="427.5" y="137.44" width="4.6" height="5.07" fill="#f5a896"/>
<rect x="432.1" y="137.44" width="4.6" height="5.07" fill="#dcd7ee"/>
<rect x="436.7" y="137.44" width="4.6" height="5.07" fill="#dcd7ee"/>
<rect x="296.4" y="142.51" width="4.6" height="5.07" fill="#f0664e"/>
<rect x="301" y="142.51" width="4.6" height="5.07" fill="#dcd7ee"/>
<rect x="305.6" y="142.51" width="4.6" height="5.07" fill="#c3b9e2"/>
<rect x="310.2" y="142.51" width="4.6" height="5.07" fill="#dcd7ee"/>
<rect x="314.8" y="142.51" width="4.6" height="5.07" fill="#c3b9e2"/>
<rect x="319.4" y="142.51" width="4.6" height="5.07" fill="#dcd7ee"/>
<rect x="324" y="142.51" width="4.6" height="5.07" fill="#dcd7ee"/>
<rect x="328.6" y="142.51" width="4.6" height="5.07" fill="#dcd7ee"/>
<rect x="333.2" y="142.51" width="4.6" height="5.07" fill="#efecf1"/>
<rect x="337.8" y="142.51" width="4.6" height="5.07" fill="#efecf1"/>
<rect x="342.4" y="142.51" width="4.6" height="5.07" fill="#efecf1"/>
<rect x="347" y="142.51" width="4.6" height="5.07" fill="#c3b9e2"/>
<rect x="351.6" y="142.51" width="4.6" height="5.07" fill="#c3b9e2"/>
<rect x="358.5" y="142.51" width="4.6" height="5.07" fill="#f0664e"/>
<rect x="363.1" y="142.51" width="4.6" height="5.07" fill="#f8d9d0"/>
<rect x="367.7" y="142.51" width="4.6" height="5.07" fill="#f8d9d0"/>
<rect x="372.3" y="142.51" width="4.6" height="5.07" fill="#dcd7ee"/>
<rect x="376.9" y="142.51" width="4.6" height="5.07" fill="#c3b9e2"/>
<rect x="381.5" y="142.51" width="4.6" height="5.07" fill="#efecf1"/>
<rect x="386.1" y="142.51" width="4.6" height="5.07" fill="#dcd7ee"/>
<rect x="390.7" y="142.51" width="4.6" height="5.07" fill="#dcd7ee"/>
<rect x="395.3" y="142.51" width="4.6" height="5.07" fill="#dcd7ee"/>
<rect x="399.9" y="142.51" width="4.6" height="5.07" fill="#efecf1"/>
<rect x="404.5" y="142.51" width="4.6" height="5.07" fill="#dcd7ee"/>
<rect x="409.1" y="142.51" width="4.6" height="5.07" fill="#dcd7ee"/>
<rect x="413.7" y="142.51" width="4.6" height="5.07" fill="#f8d9d0"/>
<rect x="418.3" y="142.51" width="4.6" height="5.07" fill="#dcd7ee"/>
<rect x="422.9" y="142.51" width="4.6" height="5.07" fill="#dcd7ee"/>
<rect x="427.5" y="142.51" width="4.6" height="5.07" fill="#f5a896"/>
<rect x="432.1" y="142.51" width="4.6" height="5.07" fill="#dcd7ee"/>
<rect x="436.7" y="142.51" width="4.6" height="5.07" fill="#dcd7ee"/>
<rect x="296.4" y="147.58" width="4.6" height="5.07" fill="#efecf1"/>
<rect x="301" y="147.58" width="4.6" height="5.07" fill="#dcd7ee"/>
<rect x="305.6" y="147.58" width="4.6" height="5.07" fill="#f8d9d0"/>
<rect x="310.2" y="147.58" width="4.6" height="5.07" fill="#f8d9d0"/>
<rect x="314.8" y="147.58" width="4.6" height="5.07" fill="#f8d9d0"/>
<rect x="319.4" y="147.58" width="4.6" height="5.07" fill="#dcd7ee"/>
<rect x="324" y="147.58" width="4.6" height="5.07" fill="#dcd7ee"/>
<rect x="328.6" y="147.58" width="4.6" height="5.07" fill="#dcd7ee"/>
<rect x="333.2" y="147.58" width="4.6" height="5.07" fill="#dcd7ee"/>
<rect x="337.8" y="147.58" width="4.6" height="5.07" fill="#dcd7ee"/>
<rect x="342.4" y="147.58" width="4.6" height="5.07" fill="#dcd7ee"/>
<rect x="347" y="147.58" width="4.6" height="5.07" fill="#f8d9d0"/>
<rect x="351.6" y="147.58" width="4.6" height="5.07" fill="#dcd7ee"/>
<rect x="358.5" y="147.58" width="4.6" height="5.07" fill="#efecf1"/>
<rect x="363.1" y="147.58" width="4.6" height="5.07" fill="#f8d9d0"/>
<rect x="367.7" y="147.58" width="4.6" height="5.07" fill="#f8d9d0"/>
<rect x="372.3" y="147.58" width="4.6" height="5.07" fill="#efecf1"/>
<rect x="376.9" y="147.58" width="4.6" height="5.07" fill="#efecf1"/>
<rect x="381.5" y="147.58" width="4.6" height="5.07" fill="#dcd7ee"/>
<rect x="386.1" y="147.58" width="4.6" height="5.07" fill="#dcd7ee"/>
<rect x="390.7" y="147.58" width="4.6" height="5.07" fill="#dcd7ee"/>
<rect x="395.3" y="147.58" width="4.6" height="5.07" fill="#f8d9d0"/>
<rect x="399.9" y="147.58" width="4.6" height="5.07" fill="#dcd7ee"/>
<rect x="404.5" y="147.58" width="4.6" height="5.07" fill="#efecf1"/>
<rect x="409.1" y="147.58" width="4.6" height="5.07" fill="#dcd7ee"/>
<rect x="413.7" y="147.58" width="4.6" height="5.07" fill="#efecf1"/>
<rect x="418.3" y="147.58" width="4.6" height="5.07" fill="#f8d9d0"/>
<rect x="422.9" y="147.58" width="4.6" height="5.07" fill="#f8d9d0"/>
<rect x="427.5" y="147.58" width="4.6" height="5.07" fill="#c3b9e2"/>
<rect x="432.1" y="147.58" width="4.6" height="5.07" fill="#efecf1"/>
<rect x="436.7" y="147.58" width="4.6" height="5.07" fill="#c3b9e2"/>
<rect x="296.4" y="152.65" width="4.6" height="5.07" fill="#efecf1"/>
<rect x="301" y="152.65" width="4.6" height="5.07" fill="#dcd7ee"/>
<rect x="305.6" y="152.65" width="4.6" height="5.07" fill="#f5a896"/>
<rect x="310.2" y="152.65" width="4.6" height="5.07" fill="#f5a896"/>
<rect x="314.8" y="152.65" width="4.6" height="5.07" fill="#dcd7ee"/>
<rect x="319.4" y="152.65" width="4.6" height="5.07" fill="#f0664e"/>
<rect x="324" y="152.65" width="4.6" height="5.07" fill="#dcd7ee"/>
<rect x="328.6" y="152.65" width="4.6" height="5.07" fill="#efecf1"/>
<rect x="333.2" y="152.65" width="4.6" height="5.07" fill="#dcd7ee"/>
<rect x="337.8" y="152.65" width="4.6" height="5.07" fill="#c3b9e2"/>
<rect x="342.4" y="152.65" width="4.6" height="5.07" fill="#dcd7ee"/>
<rect x="347" y="152.65" width="4.6" height="5.07" fill="#c3b9e2"/>
<rect x="351.6" y="152.65" width="4.6" height="5.07" fill="#c3b9e2"/>
<rect x="358.5" y="152.65" width="4.6" height="5.07" fill="#f8d9d0"/>
<rect x="363.1" y="152.65" width="4.6" height="5.07" fill="#dcd7ee"/>
<rect x="367.7" y="152.65" width="4.6" height="5.07" fill="#f8d9d0"/>
<rect x="372.3" y="152.65" width="4.6" height="5.07" fill="#dcd7ee"/>
<rect x="376.9" y="152.65" width="4.6" height="5.07" fill="#c3b9e2"/>
<rect x="381.5" y="152.65" width="4.6" height="5.07" fill="#a597d4"/>
<rect x="386.1" y="152.65" width="4.6" height="5.07" fill="#a597d4"/>
<rect x="390.7" y="152.65" width="4.6" height="5.07" fill="#efecf1"/>
<rect x="395.3" y="152.65" width="4.6" height="5.07" fill="#c3b9e2"/>
<rect x="399.9" y="152.65" width="4.6" height="5.07" fill="#dcd7ee"/>
<rect x="404.5" y="152.65" width="4.6" height="5.07" fill="#c3b9e2"/>
<rect x="409.1" y="152.65" width="4.6" height="5.07" fill="#c3b9e2"/>
<rect x="413.7" y="152.65" width="4.6" height="5.07" fill="#a597d4"/>
<rect x="418.3" y="152.65" width="4.6" height="5.07" fill="#f5a896"/>
<rect x="422.9" y="152.65" width="4.6" height="5.07" fill="#dcd7ee"/>
<rect x="427.5" y="152.65" width="4.6" height="5.07" fill="#c3b9e2"/>
<rect x="432.1" y="152.65" width="4.6" height="5.07" fill="#a597d4"/>
<rect x="436.7" y="152.65" width="4.6" height="5.07" fill="#c3b9e2"/>
<rect x="296.4" y="157.72" width="4.6" height="5.07" fill="#dcd7ee"/>
<rect x="301" y="157.72" width="4.6" height="5.07" fill="#dcd7ee"/>
<rect x="305.6" y="157.72" width="4.6" height="5.07" fill="#c3b9e2"/>
<rect x="310.2" y="157.72" width="4.6" height="5.07" fill="#c3b9e2"/>
<rect x="314.8" y="157.72" width="4.6" height="5.07" fill="#dcd7ee"/>
<rect x="319.4" y="157.72" width="4.6" height="5.07" fill="#c3b9e2"/>
<rect x="324" y="157.72" width="4.6" height="5.07" fill="#dcd7ee"/>
<rect x="328.6" y="157.72" width="4.6" height="5.07" fill="#dcd7ee"/>
<rect x="333.2" y="157.72" width="4.6" height="5.07" fill="#dcd7ee"/>
<rect x="337.8" y="157.72" width="4.6" height="5.07" fill="#dcd7ee"/>
<rect x="342.4" y="157.72" width="4.6" height="5.07" fill="#c3b9e2"/>
<rect x="347" y="157.72" width="4.6" height="5.07" fill="#f8d9d0"/>
<rect x="351.6" y="157.72" width="4.6" height="5.07" fill="#f8d9d0"/>
<rect x="358.5" y="157.72" width="4.6" height="5.07" fill="#dcd7ee"/>
<rect x="363.1" y="157.72" width="4.6" height="5.07" fill="#c3b9e2"/>
<rect x="367.7" y="157.72" width="4.6" height="5.07" fill="#c3b9e2"/>
<rect x="372.3" y="157.72" width="4.6" height="5.07" fill="#c3b9e2"/>
<rect x="376.9" y="157.72" width="4.6" height="5.07" fill="#c3b9e2"/>
<rect x="381.5" y="157.72" width="4.6" height="5.07" fill="#c3b9e2"/>
<rect x="386.1" y="157.72" width="4.6" height="5.07" fill="#c3b9e2"/>
<rect x="390.7" y="157.72" width="4.6" height="5.07" fill="#c3b9e2"/>
<rect x="395.3" y="157.72" width="4.6" height="5.07" fill="#c3b9e2"/>
<rect x="399.9" y="157.72" width="4.6" height="5.07" fill="#c3b9e2"/>
<rect x="404.5" y="157.72" width="4.6" height="5.07" fill="#c3b9e2"/>
<rect x="409.1" y="157.72" width="4.6" height="5.07" fill="#c3b9e2"/>
<rect x="413.7" y="157.72" width="4.6" height="5.07" fill="#c3b9e2"/>
<rect x="418.3" y="157.72" width="4.6" height="5.07" fill="#c3b9e2"/>
<rect x="422.9" y="157.72" width="4.6" height="5.07" fill="#c3b9e2"/>
<rect x="427.5" y="157.72" width="4.6" height="5.07" fill="#c3b9e2"/>
<rect x="432.1" y="157.72" width="4.6" height="5.07" fill="#dcd7ee"/>
<rect x="436.7" y="157.72" width="4.6" height="5.07" fill="#dcd7ee"/>
<rect x="296.4" y="162.79" width="4.6" height="5.07" fill="#dcd7ee"/>
<rect x="301" y="162.79" width="4.6" height="5.07" fill="#efecf1"/>
<rect x="305.6" y="162.79" width="4.6" height="5.07" fill="#c3b9e2"/>
<rect x="310.2" y="162.79" width="4.6" height="5.07" fill="#c3b9e2"/>
<rect x="314.8" y="162.79" width="4.6" height="5.07" fill="#dcd7ee"/>
<rect x="319.4" y="162.79" width="4.6" height="5.07" fill="#dcd7ee"/>
<rect x="324" y="162.79" width="4.6" height="5.07" fill="#dcd7ee"/>
<rect x="328.6" y="162.79" width="4.6" height="5.07" fill="#efecf1"/>
<rect x="333.2" y="162.79" width="4.6" height="5.07" fill="#dcd7ee"/>
<rect x="337.8" y="162.79" width="4.6" height="5.07" fill="#dcd7ee"/>
<rect x="342.4" y="162.79" width="4.6" height="5.07" fill="#dcd7ee"/>
<rect x="347" y="162.79" width="4.6" height="5.07" fill="#efecf1"/>
<rect x="351.6" y="162.79" width="4.6" height="5.07" fill="#f8d9d0"/>
<rect x="358.5" y="162.79" width="4.6" height="5.07" fill="#c3b9e2"/>
<rect x="363.1" y="162.79" width="4.6" height="5.07" fill="#c3b9e2"/>
<rect x="367.7" y="162.79" width="4.6" height="5.07" fill="#dcd7ee"/>
<rect x="372.3" y="162.79" width="4.6" height="5.07" fill="#dcd7ee"/>
<rect x="376.9" y="162.79" width="4.6" height="5.07" fill="#c3b9e2"/>
<rect x="381.5" y="162.79" width="4.6" height="5.07" fill="#dcd7ee"/>
<rect x="386.1" y="162.79" width="4.6" height="5.07" fill="#dcd7ee"/>
<rect x="390.7" y="162.79" width="4.6" height="5.07" fill="#dcd7ee"/>
<rect x="395.3" y="162.79" width="4.6" height="5.07" fill="#dcd7ee"/>
<rect x="399.9" y="162.79" width="4.6" height="5.07" fill="#dcd7ee"/>
<rect x="404.5" y="162.79" width="4.6" height="5.07" fill="#dcd7ee"/>
<rect x="409.1" y="162.79" width="4.6" height="5.07" fill="#dcd7ee"/>
<rect x="413.7" y="162.79" width="4.6" height="5.07" fill="#dcd7ee"/>
<rect x="418.3" y="162.79" width="4.6" height="5.07" fill="#dcd7ee"/>
<rect x="422.9" y="162.79" width="4.6" height="5.07" fill="#dcd7ee"/>
<rect x="427.5" y="162.79" width="4.6" height="5.07" fill="#f0664e"/>
<rect x="432.1" y="162.79" width="4.6" height="5.07" fill="#f8d9d0"/>
<rect x="436.7" y="162.79" width="4.6" height="5.07" fill="#f8d9d0"/>
<rect x="296.4" y="167.86" width="4.6" height="5.07" fill="#f8d9d0"/>
<rect x="301" y="167.86" width="4.6" height="5.07" fill="#efecf1"/>
<rect x="305.6" y="167.86" width="4.6" height="5.07" fill="#f5a896"/>
<rect x="310.2" y="167.86" width="4.6" height="5.07" fill="#f5a896"/>
<rect x="314.8" y="167.86" width="4.6" height="5.07" fill="#f5a896"/>
<rect x="319.4" y="167.86" width="4.6" height="5.07" fill="#efecf1"/>
<rect x="324" y="167.86" width="4.6" height="5.07" fill="#f8d9d0"/>
<rect x="328.6" y="167.86" width="4.6" height="5.07" fill="#f8d9d0"/>
<rect x="333.2" y="167.86" width="4.6" height="5.07" fill="#efecf1"/>
<rect x="337.8" y="167.86" width="4.6" height="5.07" fill="#efecf1"/>
<rect x="342.4" y="167.86" width="4.6" height="5.07" fill="#f8d9d0"/>
<rect x="347" y="167.86" width="4.6" height="5.07" fill="#dcd7ee"/>
<rect x="351.6" y="167.86" width="4.6" height="5.07" fill="#dcd7ee"/>
<rect x="358.5" y="167.86" width="4.6" height="5.07" fill="#f5a896"/>
<rect x="363.1" y="167.86" width="4.6" height="5.07" fill="#f5a896"/>
<rect x="367.7" y="167.86" width="4.6" height="5.07" fill="#f0664e"/>
<rect x="372.3" y="167.86" width="4.6" height="5.07" fill="#f5a896"/>
<rect x="376.9" y="167.86" width="4.6" height="5.07" fill="#f5a896"/>
<rect x="381.5" y="167.86" width="4.6" height="5.07" fill="#f5a896"/>
<rect x="386.1" y="167.86" width="4.6" height="5.07" fill="#f5a896"/>
<rect x="390.7" y="167.86" width="4.6" height="5.07" fill="#f8d9d0"/>
<rect x="395.3" y="167.86" width="4.6" height="5.07" fill="#f8d9d0"/>
<rect x="399.9" y="167.86" width="4.6" height="5.07" fill="#f8d9d0"/>
<rect x="404.5" y="167.86" width="4.6" height="5.07" fill="#f8d9d0"/>
<rect x="409.1" y="167.86" width="4.6" height="5.07" fill="#f8d9d0"/>
<rect x="413.7" y="167.86" width="4.6" height="5.07" fill="#efecf1"/>
<rect x="418.3" y="167.86" width="4.6" height="5.07" fill="#f5a896"/>
<rect x="422.9" y="167.86" width="4.6" height="5.07" fill="#f5a896"/>
<rect x="427.5" y="167.86" width="4.6" height="5.07" fill="#c3b9e2"/>
<rect x="432.1" y="167.86" width="4.6" height="5.07" fill="#f8d9d0"/>
<rect x="436.7" y="167.86" width="4.6" height="5.07" fill="#dcd7ee"/>
<rect x="296.4" y="172.93" width="4.6" height="5.07" fill="#efecf1"/>
<rect x="301" y="172.93" width="4.6" height="5.07" fill="#efecf1"/>
<rect x="305.6" y="172.93" width="4.6" height="5.07" fill="#f5a896"/>
<rect x="310.2" y="172.93" width="4.6" height="5.07" fill="#f5a896"/>
<rect x="314.8" y="172.93" width="4.6" height="5.07" fill="#dcd7ee"/>
<rect x="319.4" y="172.93" width="4.6" height="5.07" fill="#f0664e"/>
<rect x="324" y="172.93" width="4.6" height="5.07" fill="#efecf1"/>
<rect x="328.6" y="172.93" width="4.6" height="5.07" fill="#efecf1"/>
<rect x="333.2" y="172.93" width="4.6" height="5.07" fill="#efecf1"/>
<rect x="337.8" y="172.93" width="4.6" height="5.07" fill="#dcd7ee"/>
<rect x="342.4" y="172.93" width="4.6" height="5.07" fill="#dcd7ee"/>
<rect x="347" y="172.93" width="4.6" height="5.07" fill="#dcd7ee"/>
<rect x="351.6" y="172.93" width="4.6" height="5.07" fill="#dcd7ee"/>
<rect x="358.5" y="172.93" width="4.6" height="5.07" fill="#f8d9d0"/>
<rect x="363.1" y="172.93" width="4.6" height="5.07" fill="#f8d9d0"/>
<rect x="367.7" y="172.93" width="4.6" height="5.07" fill="#f0664e"/>
<rect x="372.3" y="172.93" width="4.6" height="5.07" fill="#f8d9d0"/>
<rect x="376.9" y="172.93" width="4.6" height="5.07" fill="#efecf1"/>
<rect x="381.5" y="172.93" width="4.6" height="5.07" fill="#f8d9d0"/>
<rect x="386.1" y="172.93" width="4.6" height="5.07" fill="#f8d9d0"/>
<rect x="390.7" y="172.93" width="4.6" height="5.07" fill="#f5a896"/>
<rect x="395.3" y="172.93" width="4.6" height="5.07" fill="#f8d9d0"/>
<rect x="399.9" y="172.93" width="4.6" height="5.07" fill="#efecf1"/>
<rect x="404.5" y="172.93" width="4.6" height="5.07" fill="#efecf1"/>
<rect x="409.1" y="172.93" width="4.6" height="5.07" fill="#efecf1"/>
<rect x="413.7" y="172.93" width="4.6" height="5.07" fill="#dcd7ee"/>
<rect x="418.3" y="172.93" width="4.6" height="5.07" fill="#f0664e"/>
<rect x="422.9" y="172.93" width="4.6" height="5.07" fill="#f8d9d0"/>
<rect x="427.5" y="172.93" width="4.6" height="5.07" fill="#c3b9e2"/>
<rect x="432.1" y="172.93" width="4.6" height="5.07" fill="#c3b9e2"/>
<rect x="436.7" y="172.93" width="4.6" height="5.07" fill="#c3b9e2"/>
<rect x="296.4" y="178" width="4.6" height="5.07" fill="#dcd7ee"/>
<rect x="301" y="178" width="4.6" height="5.07" fill="#e8121c"/>
<rect x="305.6" y="178" width="4.6" height="5.07" fill="#f5a896"/>
<rect x="310.2" y="178" width="4.6" height="5.07" fill="#f8d9d0"/>
<rect x="314.8" y="178" width="4.6" height="5.07" fill="#f5a896"/>
<rect x="319.4" y="178" width="4.6" height="5.07" fill="#dcd7ee"/>
<rect x="324" y="178" width="4.6" height="5.07" fill="#dcd7ee"/>
<rect x="328.6" y="178" width="4.6" height="5.07" fill="#efecf1"/>
<rect x="333.2" y="178" width="4.6" height="5.07" fill="#efecf1"/>
<rect x="337.8" y="178" width="4.6" height="5.07" fill="#dcd7ee"/>
<rect x="342.4" y="178" width="4.6" height="5.07" fill="#efecf1"/>
<rect x="347" y="178" width="4.6" height="5.07" fill="#f8d9d0"/>
<rect x="351.6" y="178" width="4.6" height="5.07" fill="#efecf1"/>
<rect x="358.5" y="178" width="4.6" height="5.07" fill="#c3b9e2"/>
<rect x="363.1" y="178" width="4.6" height="5.07" fill="#efecf1"/>
<rect x="367.7" y="178" width="4.6" height="5.07" fill="#dcd7ee"/>
<rect x="372.3" y="178" width="4.6" height="5.07" fill="#c3b9e2"/>
<rect x="376.9" y="178" width="4.6" height="5.07" fill="#f8d9d0"/>
<rect x="381.5" y="178" width="4.6" height="5.07" fill="#efecf1"/>
<rect x="386.1" y="178" width="4.6" height="5.07" fill="#c3b9e2"/>
<rect x="390.7" y="178" width="4.6" height="5.07" fill="#f8d9d0"/>
<rect x="395.3" y="178" width="4.6" height="5.07" fill="#f8d9d0"/>
<rect x="399.9" y="178" width="4.6" height="5.07" fill="#f8d9d0"/>
<rect x="404.5" y="178" width="4.6" height="5.07" fill="#efecf1"/>
<rect x="409.1" y="178" width="4.6" height="5.07" fill="#dcd7ee"/>
<rect x="413.7" y="178" width="4.6" height="5.07" fill="#efecf1"/>
<rect x="418.3" y="178" width="4.6" height="5.07" fill="#efecf1"/>
<rect x="422.9" y="178" width="4.6" height="5.07" fill="#f8d9d0"/>
<rect x="427.5" y="178" width="4.6" height="5.07" fill="#c3b9e2"/>
<rect x="432.1" y="178" width="4.6" height="5.07" fill="#f8d9d0"/>
<rect x="436.7" y="178" width="4.6" height="5.07" fill="#c3b9e2"/>
<rect x="296.4" y="183.07" width="4.6" height="5.07" fill="#f8d9d0"/>
<rect x="301" y="183.07" width="4.6" height="5.07" fill="#efecf1"/>
<rect x="305.6" y="183.07" width="4.6" height="5.07" fill="#f5a896"/>
<rect x="310.2" y="183.07" width="4.6" height="5.07" fill="#f5a896"/>
<rect x="314.8" y="183.07" width="4.6" height="5.07" fill="#dcd7ee"/>
<rect x="319.4" y="183.07" width="4.6" height="5.07" fill="#f0664e"/>
<rect x="324" y="183.07" width="4.6" height="5.07" fill="#dcd7ee"/>
<rect x="328.6" y="183.07" width="4.6" height="5.07" fill="#efecf1"/>
<rect x="333.2" y="183.07" width="4.6" height="5.07" fill="#f8d9d0"/>
<rect x="337.8" y="183.07" width="4.6" height="5.07" fill="#efecf1"/>
<rect x="342.4" y="183.07" width="4.6" height="5.07" fill="#efecf1"/>
<rect x="347" y="183.07" width="4.6" height="5.07" fill="#dcd7ee"/>
<rect x="351.6" y="183.07" width="4.6" height="5.07" fill="#dcd7ee"/>
<rect x="358.5" y="183.07" width="4.6" height="5.07" fill="#efecf1"/>
<rect x="363.1" y="183.07" width="4.6" height="5.07" fill="#f8d9d0"/>
<rect x="367.7" y="183.07" width="4.6" height="5.07" fill="#f5a896"/>
<rect x="372.3" y="183.07" width="4.6" height="5.07" fill="#f0664e"/>
<rect x="376.9" y="183.07" width="4.6" height="5.07" fill="#c3b9e2"/>
<rect x="381.5" y="183.07" width="4.6" height="5.07" fill="#f8d9d0"/>
<rect x="386.1" y="183.07" width="4.6" height="5.07" fill="#f8d9d0"/>
<rect x="390.7" y="183.07" width="4.6" height="5.07" fill="#f5a896"/>
<rect x="395.3" y="183.07" width="4.6" height="5.07" fill="#f5a896"/>
<rect x="399.9" y="183.07" width="4.6" height="5.07" fill="#efecf1"/>
<rect x="404.5" y="183.07" width="4.6" height="5.07" fill="#f8d9d0"/>
<rect x="409.1" y="183.07" width="4.6" height="5.07" fill="#f8d9d0"/>
<rect x="413.7" y="183.07" width="4.6" height="5.07" fill="#f8d9d0"/>
<rect x="418.3" y="183.07" width="4.6" height="5.07" fill="#f0664e"/>
<rect x="422.9" y="183.07" width="4.6" height="5.07" fill="#f5a896"/>
<rect x="427.5" y="183.07" width="4.6" height="5.07" fill="#e8121c"/>
<rect x="432.1" y="183.07" width="4.6" height="5.07" fill="#c3b9e2"/>
<rect x="436.7" y="183.07" width="4.6" height="5.07" fill="#dcd7ee"/>
<rect x="296.4" y="188.14" width="4.6" height="5.07" fill="#efecf1"/>
<rect x="301" y="188.14" width="4.6" height="5.07" fill="#e8121c"/>
<rect x="305.6" y="188.14" width="4.6" height="5.07" fill="#f0664e"/>
<rect x="310.2" y="188.14" width="4.6" height="5.07" fill="#f0664e"/>
<rect x="314.8" y="188.14" width="4.6" height="5.07" fill="#f0664e"/>
<rect x="319.4" y="188.14" width="4.6" height="5.07" fill="#efecf1"/>
<rect x="324" y="188.14" width="4.6" height="5.07" fill="#efecf1"/>
<rect x="328.6" y="188.14" width="4.6" height="5.07" fill="#f8d9d0"/>
<rect x="333.2" y="188.14" width="4.6" height="5.07" fill="#efecf1"/>
<rect x="337.8" y="188.14" width="4.6" height="5.07" fill="#dcd7ee"/>
<rect x="342.4" y="188.14" width="4.6" height="5.07" fill="#dcd7ee"/>
<rect x="347" y="188.14" width="4.6" height="5.07" fill="#dcd7ee"/>
<rect x="351.6" y="188.14" width="4.6" height="5.07" fill="#dcd7ee"/>
<rect x="358.5" y="188.14" width="4.6" height="5.07" fill="#f8d9d0"/>
<rect x="363.1" y="188.14" width="4.6" height="5.07" fill="#f5a896"/>
<rect x="367.7" y="188.14" width="4.6" height="5.07" fill="#f5a896"/>
<rect x="372.3" y="188.14" width="4.6" height="5.07" fill="#efecf1"/>
<rect x="376.9" y="188.14" width="4.6" height="5.07" fill="#f5a896"/>
<rect x="381.5" y="188.14" width="4.6" height="5.07" fill="#f5a896"/>
<rect x="386.1" y="188.14" width="4.6" height="5.07" fill="#f8d9d0"/>
<rect x="390.7" y="188.14" width="4.6" height="5.07" fill="#f0664e"/>
<rect x="395.3" y="188.14" width="4.6" height="5.07" fill="#f8d9d0"/>
<rect x="399.9" y="188.14" width="4.6" height="5.07" fill="#f5a896"/>
<rect x="404.5" y="188.14" width="4.6" height="5.07" fill="#f8d9d0"/>
<rect x="409.1" y="188.14" width="4.6" height="5.07" fill="#f8d9d0"/>
<rect x="413.7" y="188.14" width="4.6" height="5.07" fill="#dcd7ee"/>
<rect x="418.3" y="188.14" width="4.6" height="5.07" fill="#f5a896"/>
<rect x="422.9" y="188.14" width="4.6" height="5.07" fill="#f8d9d0"/>
<rect x="427.5" y="188.14" width="4.6" height="5.07" fill="#c3b9e2"/>
<rect x="432.1" y="188.14" width="4.6" height="5.07" fill="#f8d9d0"/>
<rect x="436.7" y="188.14" width="4.6" height="5.07" fill="#c3b9e2"/>
<rect x="296.4" y="193.21" width="4.6" height="5.07" fill="#c3b9e2"/>
<rect x="301" y="193.21" width="4.6" height="5.07" fill="#c3b9e2"/>
<rect x="305.6" y="193.21" width="4.6" height="5.07" fill="#f8d9d0"/>
<rect x="310.2" y="193.21" width="4.6" height="5.07" fill="#f8d9d0"/>
<rect x="314.8" y="193.21" width="4.6" height="5.07" fill="#f8d9d0"/>
<rect x="319.4" y="193.21" width="4.6" height="5.07" fill="#dcd7ee"/>
<rect x="324" y="193.21" width="4.6" height="5.07" fill="#c3b9e2"/>
<rect x="328.6" y="193.21" width="4.6" height="5.07" fill="#dcd7ee"/>
<rect x="333.2" y="193.21" width="4.6" height="5.07" fill="#dcd7ee"/>
<rect x="337.8" y="193.21" width="4.6" height="5.07" fill="#a597d4"/>
<rect x="342.4" y="193.21" width="4.6" height="5.07" fill="#a597d4"/>
<rect x="347" y="193.21" width="4.6" height="5.07" fill="#a597d4"/>
<rect x="351.6" y="193.21" width="4.6" height="5.07" fill="#a597d4"/>
<rect x="358.5" y="193.21" width="4.6" height="5.07" fill="#c3b9e2"/>
<rect x="363.1" y="193.21" width="4.6" height="5.07" fill="#c3b9e2"/>
<rect x="367.7" y="193.21" width="4.6" height="5.07" fill="#dcd7ee"/>
<rect x="372.3" y="193.21" width="4.6" height="5.07" fill="#a597d4"/>
<rect x="376.9" y="193.21" width="4.6" height="5.07" fill="#a597d4"/>
<rect x="381.5" y="193.21" width="4.6" height="5.07" fill="#7e6ec2"/>
<rect x="386.1" y="193.21" width="4.6" height="5.07" fill="#a597d4"/>
<rect x="390.7" y="193.21" width="4.6" height="5.07" fill="#c3b9e2"/>
<rect x="395.3" y="193.21" width="4.6" height="5.07" fill="#c3b9e2"/>
<rect x="399.9" y="193.21" width="4.6" height="5.07" fill="#c3b9e2"/>
<rect x="404.5" y="193.21" width="4.6" height="5.07" fill="#a597d4"/>
<rect x="409.1" y="193.21" width="4.6" height="5.07" fill="#a597d4"/>
<rect x="413.7" y="193.21" width="4.6" height="5.07" fill="#a597d4"/>
<rect x="418.3" y="193.21" width="4.6" height="5.07" fill="#c3b9e2"/>
<rect x="422.9" y="193.21" width="4.6" height="5.07" fill="#dcd7ee"/>
<rect x="427.5" y="193.21" width="4.6" height="5.07" fill="#a597d4"/>
<rect x="432.1" y="193.21" width="4.6" height="5.07" fill="#a597d4"/>
<rect x="436.7" y="193.21" width="4.6" height="5.07" fill="#a597d4"/>
<rect x="296.4" y="198.28" width="4.6" height="5.07" fill="#dcd7ee"/>
<rect x="301" y="198.28" width="4.6" height="5.07" fill="#e8121c"/>
<rect x="305.6" y="198.28" width="4.6" height="5.07" fill="#f5a896"/>
<rect x="310.2" y="198.28" width="4.6" height="5.07" fill="#f5a896"/>
<rect x="314.8" y="198.28" width="4.6" height="5.07" fill="#f5a896"/>
<rect x="319.4" y="198.28" width="4.6" height="5.07" fill="#dcd7ee"/>
<rect x="324" y="198.28" width="4.6" height="5.07" fill="#dcd7ee"/>
<rect x="328.6" y="198.28" width="4.6" height="5.07" fill="#f8d9d0"/>
<rect x="333.2" y="198.28" width="4.6" height="5.07" fill="#dcd7ee"/>
<rect x="337.8" y="198.28" width="4.6" height="5.07" fill="#c3b9e2"/>
<rect x="342.4" y="198.28" width="4.6" height="5.07" fill="#dcd7ee"/>
<rect x="347" y="198.28" width="4.6" height="5.07" fill="#dcd7ee"/>
<rect x="351.6" y="198.28" width="4.6" height="5.07" fill="#dcd7ee"/>
<rect x="358.5" y="198.28" width="4.6" height="5.07" fill="#c3b9e2"/>
<rect x="363.1" y="198.28" width="4.6" height="5.07" fill="#f8d9d0"/>
<rect x="367.7" y="198.28" width="4.6" height="5.07" fill="#efecf1"/>
<rect x="372.3" y="198.28" width="4.6" height="5.07" fill="#c3b9e2"/>
<rect x="376.9" y="198.28" width="4.6" height="5.07" fill="#f8d9d0"/>
<rect x="381.5" y="198.28" width="4.6" height="5.07" fill="#f8d9d0"/>
<rect x="386.1" y="198.28" width="4.6" height="5.07" fill="#dcd7ee"/>
<rect x="390.7" y="198.28" width="4.6" height="5.07" fill="#f5a896"/>
<rect x="395.3" y="198.28" width="4.6" height="5.07" fill="#f8d9d0"/>
<rect x="399.9" y="198.28" width="4.6" height="5.07" fill="#f8d9d0"/>
<rect x="404.5" y="198.28" width="4.6" height="5.07" fill="#efecf1"/>
<rect x="409.1" y="198.28" width="4.6" height="5.07" fill="#dcd7ee"/>
<rect x="413.7" y="198.28" width="4.6" height="5.07" fill="#dcd7ee"/>
<rect x="418.3" y="198.28" width="4.6" height="5.07" fill="#dcd7ee"/>
<rect x="422.9" y="198.28" width="4.6" height="5.07" fill="#f8d9d0"/>
<rect x="427.5" y="198.28" width="4.6" height="5.07" fill="#c3b9e2"/>
<rect x="432.1" y="198.28" width="4.6" height="5.07" fill="#f8d9d0"/>
<rect x="436.7" y="198.28" width="4.6" height="5.07" fill="#c3b9e2"/>
<rect x="296.4" y="203.35" width="4.6" height="5.07" fill="#e8121c"/>
<rect x="301" y="203.35" width="4.6" height="5.07" fill="#dcd7ee"/>
<rect x="305.6" y="203.35" width="4.6" height="5.07" fill="#c3b9e2"/>
<rect x="310.2" y="203.35" width="4.6" height="5.07" fill="#c3b9e2"/>
<rect x="314.8" y="203.35" width="4.6" height="5.07" fill="#c3b9e2"/>
<rect x="319.4" y="203.35" width="4.6" height="5.07" fill="#c3b9e2"/>
<rect x="324" y="203.35" width="4.6" height="5.07" fill="#efecf1"/>
<rect x="328.6" y="203.35" width="4.6" height="5.07" fill="#efecf1"/>
<rect x="333.2" y="203.35" width="4.6" height="5.07" fill="#efecf1"/>
<rect x="337.8" y="203.35" width="4.6" height="5.07" fill="#f8d9d0"/>
<rect x="342.4" y="203.35" width="4.6" height="5.07" fill="#c3b9e2"/>
<rect x="347" y="203.35" width="4.6" height="5.07" fill="#a597d4"/>
<rect x="351.6" y="203.35" width="4.6" height="5.07" fill="#a597d4"/>
<rect x="358.5" y="203.35" width="4.6" height="5.07" fill="#e8121c"/>
<rect x="363.1" y="203.35" width="4.6" height="5.07" fill="#e8121c"/>
<rect x="367.7" y="203.35" width="4.6" height="5.07" fill="#f0664e"/>
<rect x="372.3" y="203.35" width="4.6" height="5.07" fill="#f0664e"/>
<rect x="376.9" y="203.35" width="4.6" height="5.07" fill="#dcd7ee"/>
<rect x="381.5" y="203.35" width="4.6" height="5.07" fill="#efecf1"/>
<rect x="386.1" y="203.35" width="4.6" height="5.07" fill="#c3b9e2"/>
<rect x="390.7" y="203.35" width="4.6" height="5.07" fill="#efecf1"/>
<rect x="395.3" y="203.35" width="4.6" height="5.07" fill="#f5a896"/>
<rect x="399.9" y="203.35" width="4.6" height="5.07" fill="#dcd7ee"/>
<rect x="404.5" y="203.35" width="4.6" height="5.07" fill="#c3b9e2"/>
<rect x="409.1" y="203.35" width="4.6" height="5.07" fill="#efecf1"/>
<rect x="413.7" y="203.35" width="4.6" height="5.07" fill="#c3b9e2"/>
<rect x="418.3" y="203.35" width="4.6" height="5.07" fill="#dcd7ee"/>
<rect x="422.9" y="203.35" width="4.6" height="5.07" fill="#c3b9e2"/>
<rect x="427.5" y="203.35" width="4.6" height="5.07" fill="#a597d4"/>
<rect x="432.1" y="203.35" width="4.6" height="5.07" fill="#2a48a8"/>
<rect x="436.7" y="203.35" width="4.6" height="5.07" fill="#a597d4"/>
<rect x="296.4" y="208.42" width="4.6" height="5.07" fill="#f0664e"/>
<rect x="301" y="208.42" width="4.6" height="5.07" fill="#efecf1"/>
<rect x="305.6" y="208.42" width="4.6" height="5.07" fill="#dcd7ee"/>
<rect x="310.2" y="208.42" width="4.6" height="5.07" fill="#dcd7ee"/>
<rect x="314.8" y="208.42" width="4.6" height="5.07" fill="#dcd7ee"/>
<rect x="319.4" y="208.42" width="4.6" height="5.07" fill="#dcd7ee"/>
<rect x="324" y="208.42" width="4.6" height="5.07" fill="#efecf1"/>
<rect x="328.6" y="208.42" width="4.6" height="5.07" fill="#dcd7ee"/>
<rect x="333.2" y="208.42" width="4.6" height="5.07" fill="#f8d9d0"/>
<rect x="337.8" y="208.42" width="4.6" height="5.07" fill="#f8d9d0"/>
<rect x="342.4" y="208.42" width="4.6" height="5.07" fill="#f8d9d0"/>
<rect x="347" y="208.42" width="4.6" height="5.07" fill="#dcd7ee"/>
<rect x="351.6" y="208.42" width="4.6" height="5.07" fill="#c3b9e2"/>
<rect x="358.5" y="208.42" width="4.6" height="5.07" fill="#f8d9d0"/>
<rect x="363.1" y="208.42" width="4.6" height="5.07" fill="#e8121c"/>
<rect x="367.7" y="208.42" width="4.6" height="5.07" fill="#efecf1"/>
<rect x="372.3" y="208.42" width="4.6" height="5.07" fill="#e8121c"/>
<rect x="376.9" y="208.42" width="4.6" height="5.07" fill="#f5a896"/>
<rect x="381.5" y="208.42" width="4.6" height="5.07" fill="#f5a896"/>
<rect x="386.1" y="208.42" width="4.6" height="5.07" fill="#f5a896"/>
<rect x="390.7" y="208.42" width="4.6" height="5.07" fill="#efecf1"/>
<rect x="395.3" y="208.42" width="4.6" height="5.07" fill="#f5a896"/>
<rect x="399.9" y="208.42" width="4.6" height="5.07" fill="#efecf1"/>
<rect x="404.5" y="208.42" width="4.6" height="5.07" fill="#f5a896"/>
<rect x="409.1" y="208.42" width="4.6" height="5.07" fill="#f8d9d0"/>
<rect x="413.7" y="208.42" width="4.6" height="5.07" fill="#f8d9d0"/>
<rect x="418.3" y="208.42" width="4.6" height="5.07" fill="#efecf1"/>
<rect x="422.9" y="208.42" width="4.6" height="5.07" fill="#dcd7ee"/>
<rect x="427.5" y="208.42" width="4.6" height="5.07" fill="#c3b9e2"/>
<rect x="432.1" y="208.42" width="4.6" height="5.07" fill="#a597d4"/>
<rect x="436.7" y="208.42" width="4.6" height="5.07" fill="#dcd7ee"/>
<rect x="296.4" y="213.49" width="4.6" height="5.07" fill="#e8121c"/>
<rect x="301" y="213.49" width="4.6" height="5.07" fill="#dcd7ee"/>
<rect x="305.6" y="213.49" width="4.6" height="5.07" fill="#c3b9e2"/>
<rect x="310.2" y="213.49" width="4.6" height="5.07" fill="#c3b9e2"/>
<rect x="314.8" y="213.49" width="4.6" height="5.07" fill="#c3b9e2"/>
<rect x="319.4" y="213.49" width="4.6" height="5.07" fill="#c3b9e2"/>
<rect x="324" y="213.49" width="4.6" height="5.07" fill="#c3b9e2"/>
<rect x="328.6" y="213.49" width="4.6" height="5.07" fill="#efecf1"/>
<rect x="333.2" y="213.49" width="4.6" height="5.07" fill="#f8d9d0"/>
<rect x="337.8" y="213.49" width="4.6" height="5.07" fill="#f8d9d0"/>
<rect x="342.4" y="213.49" width="4.6" height="5.07" fill="#efecf1"/>
<rect x="347" y="213.49" width="4.6" height="5.07" fill="#dcd7ee"/>
<rect x="351.6" y="213.49" width="4.6" height="5.07" fill="#c3b9e2"/>
<rect x="358.5" y="213.49" width="4.6" height="5.07" fill="#e8121c"/>
<rect x="363.1" y="213.49" width="4.6" height="5.07" fill="#f5a896"/>
<rect x="367.7" y="213.49" width="4.6" height="5.07" fill="#f5a896"/>
<rect x="372.3" y="213.49" width="4.6" height="5.07" fill="#f8d9d0"/>
<rect x="376.9" y="213.49" width="4.6" height="5.07" fill="#efecf1"/>
<rect x="381.5" y="213.49" width="4.6" height="5.07" fill="#efecf1"/>
<rect x="386.1" y="213.49" width="4.6" height="5.07" fill="#c3b9e2"/>
<rect x="390.7" y="213.49" width="4.6" height="5.07" fill="#efecf1"/>
<rect x="395.3" y="213.49" width="4.6" height="5.07" fill="#f5a896"/>
<rect x="399.9" y="213.49" width="4.6" height="5.07" fill="#dcd7ee"/>
<rect x="404.5" y="213.49" width="4.6" height="5.07" fill="#dcd7ee"/>
<rect x="409.1" y="213.49" width="4.6" height="5.07" fill="#dcd7ee"/>
<rect x="413.7" y="213.49" width="4.6" height="5.07" fill="#dcd7ee"/>
<rect x="418.3" y="213.49" width="4.6" height="5.07" fill="#c3b9e2"/>
<rect x="422.9" y="213.49" width="4.6" height="5.07" fill="#c3b9e2"/>
<rect x="427.5" y="213.49" width="4.6" height="5.07" fill="#a597d4"/>
<rect x="432.1" y="213.49" width="4.6" height="5.07" fill="#a597d4"/>
<rect x="436.7" y="213.49" width="4.6" height="5.07" fill="#dcd7ee"/>
<rect x="296.4" y="218.56" width="4.6" height="5.07" fill="#dcd7ee"/>
<rect x="301" y="218.56" width="4.6" height="5.07" fill="#e8121c"/>
<rect x="305.6" y="218.56" width="4.6" height="5.07" fill="#f5a896"/>
<rect x="310.2" y="218.56" width="4.6" height="5.07" fill="#f5a896"/>
<rect x="314.8" y="218.56" width="4.6" height="5.07" fill="#f5a896"/>
<rect x="319.4" y="218.56" width="4.6" height="5.07" fill="#dcd7ee"/>
<rect x="324" y="218.56" width="4.6" height="5.07" fill="#dcd7ee"/>
<rect x="328.6" y="218.56" width="4.6" height="5.07" fill="#efecf1"/>
<rect x="333.2" y="218.56" width="4.6" height="5.07" fill="#efecf1"/>
<rect x="337.8" y="218.56" width="4.6" height="5.07" fill="#efecf1"/>
<rect x="342.4" y="218.56" width="4.6" height="5.07" fill="#efecf1"/>
<rect x="347" y="218.56" width="4.6" height="5.07" fill="#dcd7ee"/>
<rect x="351.6" y="218.56" width="4.6" height="5.07" fill="#dcd7ee"/>
<rect x="358.5" y="218.56" width="4.6" height="5.07" fill="#c3b9e2"/>
<rect x="363.1" y="218.56" width="4.6" height="5.07" fill="#f8d9d0"/>
<rect x="367.7" y="218.56" width="4.6" height="5.07" fill="#efecf1"/>
<rect x="372.3" y="218.56" width="4.6" height="5.07" fill="#f8d9d0"/>
<rect x="376.9" y="218.56" width="4.6" height="5.07" fill="#dcd7ee"/>
<rect x="381.5" y="218.56" width="4.6" height="5.07" fill="#f8d9d0"/>
<rect x="386.1" y="218.56" width="4.6" height="5.07" fill="#f8d9d0"/>
<rect x="390.7" y="218.56" width="4.6" height="5.07" fill="#f0664e"/>
<rect x="395.3" y="218.56" width="4.6" height="5.07" fill="#f8d9d0"/>
<rect x="399.9" y="218.56" width="4.6" height="5.07" fill="#f8d9d0"/>
<rect x="404.5" y="218.56" width="4.6" height="5.07" fill="#f8d9d0"/>
<rect x="409.1" y="218.56" width="4.6" height="5.07" fill="#f8d9d0"/>
<rect x="413.7" y="218.56" width="4.6" height="5.07" fill="#f8d9d0"/>
<rect x="418.3" y="218.56" width="4.6" height="5.07" fill="#f8d9d0"/>
<rect x="422.9" y="218.56" width="4.6" height="5.07" fill="#f5a896"/>
<rect x="427.5" y="218.56" width="4.6" height="5.07" fill="#e8121c"/>
<rect x="432.1" y="218.56" width="4.6" height="5.07" fill="#efecf1"/>
<rect x="436.7" y="218.56" width="4.6" height="5.07" fill="#dcd7ee"/>
<rect x="296.4" y="223.63" width="4.6" height="5.07" fill="#dcd7ee"/>
<rect x="301" y="223.63" width="4.6" height="5.07" fill="#efecf1"/>
<rect x="305.6" y="223.63" width="4.6" height="5.07" fill="#dcd7ee"/>
<rect x="310.2" y="223.63" width="4.6" height="5.07" fill="#dcd7ee"/>
<rect x="314.8" y="223.63" width="4.6" height="5.07" fill="#dcd7ee"/>
<rect x="319.4" y="223.63" width="4.6" height="5.07" fill="#dcd7ee"/>
<rect x="324" y="223.63" width="4.6" height="5.07" fill="#dcd7ee"/>
<rect x="328.6" y="223.63" width="4.6" height="5.07" fill="#f8d9d0"/>
<rect x="333.2" y="223.63" width="4.6" height="5.07" fill="#efecf1"/>
<rect x="337.8" y="223.63" width="4.6" height="5.07" fill="#dcd7ee"/>
<rect x="342.4" y="223.63" width="4.6" height="5.07" fill="#efecf1"/>
<rect x="347" y="223.63" width="4.6" height="5.07" fill="#f8d9d0"/>
<rect x="351.6" y="223.63" width="4.6" height="5.07" fill="#f8d9d0"/>
<rect x="358.5" y="223.63" width="4.6" height="5.07" fill="#c3b9e2"/>
<rect x="363.1" y="223.63" width="4.6" height="5.07" fill="#dcd7ee"/>
<rect x="367.7" y="223.63" width="4.6" height="5.07" fill="#c3b9e2"/>
<rect x="372.3" y="223.63" width="4.6" height="5.07" fill="#efecf1"/>
<rect x="376.9" y="223.63" width="4.6" height="5.07" fill="#efecf1"/>
<rect x="381.5" y="223.63" width="4.6" height="5.07" fill="#f8d9d0"/>
<rect x="386.1" y="223.63" width="4.6" height="5.07" fill="#f8d9d0"/>
<rect x="390.7" y="223.63" width="4.6" height="5.07" fill="#dcd7ee"/>
<rect x="395.3" y="223.63" width="4.6" height="5.07" fill="#f8d9d0"/>
<rect x="399.9" y="223.63" width="4.6" height="5.07" fill="#efecf1"/>
<rect x="404.5" y="223.63" width="4.6" height="5.07" fill="#efecf1"/>
<rect x="409.1" y="223.63" width="4.6" height="5.07" fill="#efecf1"/>
<rect x="413.7" y="223.63" width="4.6" height="5.07" fill="#f8d9d0"/>
<rect x="418.3" y="223.63" width="4.6" height="5.07" fill="#efecf1"/>
<rect x="422.9" y="223.63" width="4.6" height="5.07" fill="#efecf1"/>
<rect x="427.5" y="223.63" width="4.6" height="5.07" fill="#c3b9e2"/>
<rect x="432.1" y="223.63" width="4.6" height="5.07" fill="#f5a896"/>
<rect x="436.7" y="223.63" width="4.6" height="5.07" fill="#f8d9d0"/>
<rect x="296.4" y="228.7" width="4.6" height="5.07" fill="#f8d9d0"/>
<rect x="301" y="228.7" width="4.6" height="5.07" fill="#e8121c"/>
<rect x="305.6" y="228.7" width="4.6" height="5.07" fill="#f8d9d0"/>
<rect x="310.2" y="228.7" width="4.6" height="5.07" fill="#f5a896"/>
<rect x="314.8" y="228.7" width="4.6" height="5.07" fill="#f5a896"/>
<rect x="319.4" y="228.7" width="4.6" height="5.07" fill="#efecf1"/>
<rect x="324" y="228.7" width="4.6" height="5.07" fill="#f8d9d0"/>
<rect x="328.6" y="228.7" width="4.6" height="5.07" fill="#f8d9d0"/>
<rect x="333.2" y="228.7" width="4.6" height="5.07" fill="#efecf1"/>
<rect x="337.8" y="228.7" width="4.6" height="5.07" fill="#f8d9d0"/>
<rect x="342.4" y="228.7" width="4.6" height="5.07" fill="#efecf1"/>
<rect x="347" y="228.7" width="4.6" height="5.07" fill="#dcd7ee"/>
<rect x="351.6" y="228.7" width="4.6" height="5.07" fill="#c3b9e2"/>
<rect x="358.5" y="228.7" width="4.6" height="5.07" fill="#c3b9e2"/>
<rect x="363.1" y="228.7" width="4.6" height="5.07" fill="#f5a896"/>
<rect x="367.7" y="228.7" width="4.6" height="5.07" fill="#f5a896"/>
<rect x="372.3" y="228.7" width="4.6" height="5.07" fill="#efecf1"/>
<rect x="376.9" y="228.7" width="4.6" height="5.07" fill="#f8d9d0"/>
<rect x="381.5" y="228.7" width="4.6" height="5.07" fill="#f5a896"/>
<rect x="386.1" y="228.7" width="4.6" height="5.07" fill="#f8d9d0"/>
<rect x="390.7" y="228.7" width="4.6" height="5.07" fill="#f5a896"/>
<rect x="395.3" y="228.7" width="4.6" height="5.07" fill="#f5a896"/>
<rect x="399.9" y="228.7" width="4.6" height="5.07" fill="#f8d9d0"/>
<rect x="404.5" y="228.7" width="4.6" height="5.07" fill="#f8d9d0"/>
<rect x="409.1" y="228.7" width="4.6" height="5.07" fill="#f8d9d0"/>
<rect x="413.7" y="228.7" width="4.6" height="5.07" fill="#efecf1"/>
<rect x="418.3" y="228.7" width="4.6" height="5.07" fill="#efecf1"/>
<rect x="422.9" y="228.7" width="4.6" height="5.07" fill="#f8d9d0"/>
<rect x="427.5" y="228.7" width="4.6" height="5.07" fill="#c3b9e2"/>
<rect x="432.1" y="228.7" width="4.6" height="5.07" fill="#f8d9d0"/>
<rect x="436.7" y="228.7" width="4.6" height="5.07" fill="#c3b9e2"/>
<rect x="296.4" y="233.77" width="4.6" height="5.07" fill="#dcd7ee"/>
<rect x="301" y="233.77" width="4.6" height="5.07" fill="#efecf1"/>
<rect x="305.6" y="233.77" width="4.6" height="5.07" fill="#dcd7ee"/>
<rect x="310.2" y="233.77" width="4.6" height="5.07" fill="#efecf1"/>
<rect x="314.8" y="233.77" width="4.6" height="5.07" fill="#dcd7ee"/>
<rect x="319.4" y="233.77" width="4.6" height="5.07" fill="#dcd7ee"/>
<rect x="324" y="233.77" width="4.6" height="5.07" fill="#c3b9e2"/>
<rect x="328.6" y="233.77" width="4.6" height="5.07" fill="#efecf1"/>
<rect x="333.2" y="233.77" width="4.6" height="5.07" fill="#f8d9d0"/>
<rect x="337.8" y="233.77" width="4.6" height="5.07" fill="#efecf1"/>
<rect x="342.4" y="233.77" width="4.6" height="5.07" fill="#dcd7ee"/>
<rect x="347" y="233.77" width="4.6" height="5.07" fill="#f8d9d0"/>
<rect x="351.6" y="233.77" width="4.6" height="5.07" fill="#f8d9d0"/>
<rect x="358.5" y="233.77" width="4.6" height="5.07" fill="#c3b9e2"/>
<rect x="363.1" y="233.77" width="4.6" height="5.07" fill="#a597d4"/>
<rect x="367.7" y="233.77" width="4.6" height="5.07" fill="#c3b9e2"/>
<rect x="372.3" y="233.77" width="4.6" height="5.07" fill="#a597d4"/>
<rect x="376.9" y="233.77" width="4.6" height="5.07" fill="#f8d9d0"/>
<rect x="381.5" y="233.77" width="4.6" height="5.07" fill="#efecf1"/>
<rect x="386.1" y="233.77" width="4.6" height="5.07" fill="#f8d9d0"/>
<rect x="390.7" y="233.77" width="4.6" height="5.07" fill="#efecf1"/>
<rect x="395.3" y="233.77" width="4.6" height="5.07" fill="#efecf1"/>
<rect x="399.9" y="233.77" width="4.6" height="5.07" fill="#dcd7ee"/>
<rect x="404.5" y="233.77" width="4.6" height="5.07" fill="#efecf1"/>
<rect x="409.1" y="233.77" width="4.6" height="5.07" fill="#dcd7ee"/>
<rect x="413.7" y="233.77" width="4.6" height="5.07" fill="#f8d9d0"/>
<rect x="418.3" y="233.77" width="4.6" height="5.07" fill="#dcd7ee"/>
<rect x="422.9" y="233.77" width="4.6" height="5.07" fill="#efecf1"/>
<rect x="427.5" y="233.77" width="4.6" height="5.07" fill="#f8d9d0"/>
<rect x="432.1" y="233.77" width="4.6" height="5.07" fill="#f8d9d0"/>
<rect x="436.7" y="233.77" width="4.6" height="5.07" fill="#f8d9d0"/>
<path d="M296.4 25.9V238.84M301 25.9V238.84M305.6 25.9V238.84M310.2 25.9V238.84M314.8 25.9V238.84M319.4 25.9V238.84M324 25.9V238.84M328.6 25.9V238.84M333.2 25.9V238.84M337.8 25.9V238.84M342.4 25.9V238.84M347 25.9V238.84M351.6 25.9V238.84M356.2 25.9V238.84M358.5 25.9V238.84M363.1 25.9V238.84M367.7 25.9V238.84M372.3 25.9V238.84M376.9 25.9V238.84M381.5 25.9V238.84M386.1 25.9V238.84M390.7 25.9V238.84M395.3 25.9V238.84M399.9 25.9V238.84M404.5 25.9V238.84M409.1 25.9V238.84M413.7 25.9V238.84M418.3 25.9V238.84M422.9 25.9V238.84M427.5 25.9V238.84M432.1 25.9V238.84M436.7 25.9V238.84M441.3 25.9V238.84M296.4 25.9H356.2M358.5 25.9H441.3M296.4 30.97H356.2M358.5 30.97H441.3M296.4 36.04H356.2M358.5 36.04H441.3M296.4 41.11H356.2M358.5 41.11H441.3M296.4 46.18H356.2M358.5 46.18H441.3M296.4 51.25H356.2M358.5 51.25H441.3M296.4 56.32H356.2M358.5 56.32H441.3M296.4 61.39H356.2M358.5 61.39H441.3M296.4 66.46H356.2M358.5 66.46H441.3M296.4 71.53H356.2M358.5 71.53H441.3M296.4 76.6H356.2M358.5 76.6H441.3M296.4 81.67H356.2M358.5 81.67H441.3M296.4 86.74H356.2M358.5 86.74H441.3M296.4 91.81H356.2M358.5 91.81H441.3M296.4 96.88H356.2M358.5 96.88H441.3M296.4 101.95H356.2M358.5 101.95H441.3M296.4 107.02H356.2M358.5 107.02H441.3M296.4 112.09H356.2M358.5 112.09H441.3M296.4 117.16H356.2M358.5 117.16H441.3M296.4 122.23H356.2M358.5 122.23H441.3M296.4 127.3H356.2M358.5 127.3H441.3M296.4 132.37H356.2M358.5 132.37H441.3M296.4 137.44H356.2M358.5 137.44H441.3M296.4 142.51H356.2M358.5 142.51H441.3M296.4 147.58H356.2M358.5 147.58H441.3M296.4 152.65H356.2M358.5 152.65H441.3M296.4 157.72H356.2M358.5 157.72H441.3M296.4 162.79H356.2M358.5 162.79H441.3M296.4 167.86H356.2M358.5 167.86H441.3M296.4 172.93H356.2M358.5 172.93H441.3M296.4 178H356.2M358.5 178H441.3M296.4 183.07H356.2M358.5 183.07H441.3M296.4 188.14H356.2M358.5 188.14H441.3M296.4 193.21H356.2M358.5 193.21H441.3M296.4 198.28H356.2M358.5 198.28H441.3M296.4 203.35H356.2M358.5 203.35H441.3M296.4 208.42H356.2M358.5 208.42H441.3M296.4 213.49H356.2M358.5 213.49H441.3M296.4 218.56H356.2M358.5 218.56H441.3M296.4 223.63H356.2M358.5 223.63H441.3M296.4 228.7H356.2M358.5 228.7H441.3M296.4 233.77H356.2M358.5 233.77H441.3M296.4 238.84H356.2M358.5 238.84H441.3" stroke="#ffffff" stroke-width="0.7" fill="none"/>
<rect x="442.9" y="25.9" width="5.3" height="5.12" fill="#474747"/>
<rect x="442.9" y="30.97" width="5.3" height="5.12" fill="#6c6c6c"/>
<rect x="442.9" y="36.04" width="5.3" height="5.12" fill="#353535"/>
<rect x="442.9" y="41.11" width="5.3" height="5.12" fill="#f8ec00"/>
<rect x="442.9" y="46.18" width="5.3" height="5.12" fill="#0e0e6e"/>
<rect x="442.9" y="51.25" width="5.3" height="5.12" fill="#7c7c7c"/>
<rect x="442.9" y="56.32" width="5.3" height="5.12" fill="#b0209c"/>
<rect x="442.9" y="61.39" width="5.3" height="5.12" fill="#3e3e3e"/>
<rect x="442.9" y="66.46" width="5.3" height="5.12" fill="#8a8a8a"/>
<rect x="442.9" y="71.53" width="5.3" height="5.12" fill="#5dbd4f"/>
<rect x="442.9" y="76.6" width="5.3" height="5.12" fill="#58bb4a"/>
<rect x="442.9" y="81.67" width="5.3" height="5.12" fill="#2a4fb0"/>
<rect x="442.9" y="86.74" width="5.3" height="5.12" fill="#8894d0"/>
<rect x="442.9" y="91.81" width="5.3" height="5.12" fill="#c6dcf2"/>
<rect x="442.9" y="96.88" width="5.3" height="5.12" fill="#2f51b2"/>
<rect x="442.9" y="101.95" width="5.3" height="5.12" fill="#8e0e60"/>
<rect x="442.9" y="107.02" width="5.3" height="5.12" fill="#b8399e"/>
<rect x="442.9" y="112.09" width="5.3" height="5.12" fill="#f8c4cc"/>
<rect x="442.9" y="117.16" width="5.3" height="5.12" fill="#5cbe4c"/>
<rect x="442.9" y="122.23" width="5.3" height="5.12" fill="#62c052"/>
<rect x="442.9" y="127.3" width="5.3" height="5.12" fill="#dcb4de"/>
<rect x="442.9" y="132.37" width="5.3" height="5.12" fill="#ee1020"/>
<rect x="442.9" y="137.44" width="5.3" height="5.12" fill="#a040b0"/>
<rect x="442.9" y="142.51" width="5.3" height="5.12" fill="#f08a8a"/>
<rect x="442.9" y="147.58" width="5.3" height="5.12" fill="#a8c0e8"/>
<rect x="442.9" y="152.65" width="5.3" height="5.12" fill="#050505"/>
<rect x="442.9" y="157.72" width="5.3" height="5.12" fill="#787878"/>
<rect x="442.9" y="162.79" width="5.3" height="5.12" fill="#8a8a8a"/>
<rect x="442.9" y="167.86" width="5.3" height="5.12" fill="#3658b4"/>
<rect x="442.9" y="172.93" width="5.3" height="5.12" fill="#56be46"/>
<rect x="442.9" y="178" width="5.3" height="5.12" fill="#9050b8"/>
<rect x="442.9" y="183.07" width="5.3" height="5.12" fill="#86c686"/>
<rect x="442.9" y="188.14" width="5.3" height="5.12" fill="#c092d0"/>
<rect x="442.9" y="193.21" width="5.3" height="5.12" fill="#4c64b8"/>
<rect x="442.9" y="198.28" width="5.3" height="5.12" fill="#9a62ba"/>
<rect x="442.9" y="203.35" width="5.3" height="5.12" fill="#f06262"/>
<rect x="442.9" y="208.42" width="5.3" height="5.12" fill="#f03a3a"/>
<rect x="442.9" y="213.49" width="5.3" height="5.12" fill="#f01818"/>
<rect x="442.9" y="218.56" width="5.3" height="5.12" fill="#8048b0"/>
<rect x="442.9" y="223.63" width="5.3" height="5.12" fill="#1e1e1e"/>
<rect x="442.9" y="228.7" width="5.3" height="5.12" fill="#7e40ae"/>
<rect x="442.9" y="233.77" width="5.3" height="5.12" fill="#575757"/>
<text x="451.3" y="30.63" font-size="4.45">Tumor 4</text>
<text x="514.4" y="30.63" font-size="4.42" text-anchor="end">(Non-inflam.)</text>
<text x="451.3" y="35.7" font-size="4.45">Tumor 6</text>
<text x="514.4" y="35.7" font-size="4.42" text-anchor="end">(Inflam.)</text>
<text x="451.3" y="40.78" font-size="4.45">Tumor 2</text>
<text x="514.4" y="40.78" font-size="4.42" text-anchor="end">(Non-inflam.)</text>
<text x="451.3" y="45.84" font-size="4.45">Macrophage 5</text>
<text x="514.4" y="45.84" font-size="4.42" text-anchor="end">(M2)</text>
<text x="451.3" y="50.92" font-size="4.45">Macrophage 2</text>
<text x="514.4" y="50.92" font-size="4.42" text-anchor="end">(PD-L1⁺ M2)</text>
<text x="451.3" y="55.98" font-size="4.45">Tumor 8</text>
<text x="514.4" y="55.98" font-size="4.42" text-anchor="end">(Inflam.)</text>
<text x="451.3" y="61.05" font-size="4.45">Macrophage 4</text>
<text x="514.4" y="61.05" font-size="4.42" text-anchor="end">(M1)</text>
<text x="451.3" y="66.12" font-size="4.45">Tumor 3</text>
<text x="514.4" y="66.12" font-size="4.42" text-anchor="end">(Non-inflam.)</text>
<text x="451.3" y="71.2" font-size="4.45">Tumor 10</text>
<text x="514.4" y="71.2" font-size="4.42" text-anchor="end">(Inflam.)</text>
<text x="451.3" y="76.27" font-size="4.45">CD8 2</text>
<text x="514.4" y="76.27" font-size="4.42" text-anchor="end">(Exh./inflam.)</text>
<text x="451.3" y="81.33" font-size="4.45">CD8 3</text>
<text x="514.4" y="81.33" font-size="4.42" text-anchor="end">(Terminal exhaust.)</text>
<text x="451.3" y="86.41" font-size="4.45">CD4 7</text>
<text x="514.4" y="86.41" font-size="4.42" text-anchor="end">(Act./early/exh.)</text>
<text x="451.3" y="91.48" font-size="4.45">CD4 3</text>
<text x="514.4" y="91.48" font-size="4.42" text-anchor="end">(Act./early/exh.)</text>
<text x="451.3" y="96.55" font-size="4.45">CD4 1</text>
<text x="514.4" y="96.55" font-size="4.42" text-anchor="end">(Exh./inflam.)</text>
<text x="451.3" y="101.61" font-size="4.45">CD4 6</text>
<text x="514.4" y="101.61" font-size="4.42" text-anchor="end">(Act./prolif.)</text>
<text x="451.3" y="106.69" font-size="4.45">Macrophage 6</text>
<text x="514.4" y="106.69" font-size="4.42" text-anchor="end">(M2)</text>
<text x="451.3" y="111.76" font-size="4.45">Macrophage 1</text>
<text x="514.4" y="111.76" font-size="4.42" text-anchor="end">(M2)</text>
<text x="451.3" y="116.83" font-size="4.45">Endothelial 1</text>
<text x="514.4" y="116.83" font-size="4.42" text-anchor="end">(EphrinB2⁺)</text>
<text x="451.3" y="121.89" font-size="4.45">CD8 4</text>
<text x="514.4" y="121.89" font-size="4.42" text-anchor="end">(Act./prolif.)</text>
<text x="451.3" y="126.97" font-size="4.45">CD8 6</text>
<text x="514.4" y="126.97" font-size="4.42" text-anchor="end">(Exh./inflam.)</text>
<text x="451.3" y="132.03" font-size="4.45">T<tspan font-size="2.67" dy="0.9">REG</tspan><tspan dy="-0.9"> 1</tspan></text>
<text x="514.4" y="132.03" font-size="4.42" text-anchor="end">(Hi suppr.)</text>
<text x="451.3" y="137.1" font-size="4.45">Endothelial 5</text>
<text x="514.4" y="137.1" font-size="4.42" text-anchor="end">(Baseline)</text>
<text x="451.3" y="142.17" font-size="4.45">Macrophage 3</text>
<text x="514.4" y="142.17" font-size="4.42" text-anchor="end">(M1)</text>
<text x="451.3" y="147.25" font-size="4.45">Endothelial 2</text>
<text x="514.4" y="147.25" font-size="4.42" text-anchor="end">(Prolif.)</text>
<text x="451.3" y="152.31" font-size="4.45">CD4 2</text>
<text x="514.4" y="152.31" font-size="4.42" text-anchor="end">(Act./early/exh.)</text>
<text x="451.3" y="157.38" font-size="4.45">CD8 7</text>
<text x="514.4" y="157.38" font-size="4.42" text-anchor="end">(Baseline)</text>
<text x="451.3" y="162.46" font-size="4.45">Tumor 7</text>
<text x="514.4" y="162.46" font-size="4.42" text-anchor="end">(Non-inflam.)</text>
<text x="451.3" y="167.53" font-size="4.45">Tumor 9</text>
<text x="514.4" y="167.53" font-size="4.42" text-anchor="end">(Non-inflam.)</text>
<text x="451.3" y="172.59" font-size="4.45">CD4 5</text>
<text x="514.4" y="172.59" font-size="4.42" text-anchor="end">(Exh./inflam.)</text>
<text x="451.3" y="177.66" font-size="4.45">CD8 5</text>
<text x="514.4" y="177.66" font-size="4.42" text-anchor="end">(Terminal exhaust.)</text>
<text x="451.3" y="182.74" font-size="4.45">T<tspan font-size="2.67" dy="0.9">REG</tspan><tspan dy="-0.9"> 4</tspan></text>
<text x="514.4" y="182.74" font-size="4.42" text-anchor="end">(Baseline)</text>
<text x="451.3" y="187.81" font-size="4.45">CD8 1</text>
<text x="514.4" y="187.81" font-size="4.42" text-anchor="end">(Act./prolif.)</text>
<text x="451.3" y="192.88" font-size="4.45">T<tspan font-size="2.67" dy="0.9">REG</tspan><tspan dy="-0.9"> 2</tspan></text>
<text x="514.4" y="192.88" font-size="4.42" text-anchor="end">(Hi suppr.)</text>
<text x="451.3" y="197.94" font-size="4.45">CD4 4</text>
<text x="514.4" y="197.94" font-size="4.42" text-anchor="end">(Baseline)</text>
<text x="451.3" y="203.02" font-size="4.45">T<tspan font-size="2.67" dy="0.9">REG</tspan><tspan dy="-0.9"> 3</tspan></text>
<text x="514.4" y="203.02" font-size="4.42" text-anchor="end">(Baseline)</text>
<text x="451.3" y="208.09" font-size="4.45">Endothelial 3</text>
<text x="514.4" y="208.09" font-size="4.42" text-anchor="end">(Act.)</text>
<text x="451.3" y="213.16" font-size="4.45">Endothelial 4</text>
<text x="514.4" y="213.16" font-size="4.42" text-anchor="end">(PD-L1⁺)</text>
<text x="451.3" y="218.22" font-size="4.45">Endothelial 6</text>
<text x="514.4" y="218.22" font-size="4.42" text-anchor="end">(Act.)</text>
<text x="451.3" y="223.3" font-size="4.45">T<tspan font-size="2.67" dy="0.9">REG</tspan><tspan dy="-0.9"> 5</tspan></text>
<text x="514.4" y="223.3" font-size="4.42" text-anchor="end">(Act./prolif.)</text>
<text x="451.3" y="228.37" font-size="4.45">Tumor 1</text>
<text x="514.4" y="228.37" font-size="4.42" text-anchor="end">(Non-inflam.)</text>
<text x="451.3" y="233.44" font-size="4.45">T<tspan font-size="2.67" dy="0.9">REG</tspan><tspan dy="-0.9"> 6</tspan></text>
<text x="514.4" y="233.44" font-size="4.42" text-anchor="end">(Hi suppr.)</text>
<text x="451.3" y="238.5" font-size="4.45">Tumor 5</text>
<text x="514.4" y="238.5" font-size="4.42" text-anchor="end">(Non-inflam.)</text>
<text transform="translate(103.43,242.4) rotate(-90)" font-size="4.4" text-anchor="end" fill="#1c1c1c">(Non-inflam.)</text>
<text transform="translate(103.43,311.6) rotate(-90)" font-size="4.4" fill="#1c1c1c">Tumor 2</text>
<text transform="translate(108.09,242.4) rotate(-90)" font-size="4.4" text-anchor="end" fill="#1c1c1c">(Non-inflam.)</text>
<text transform="translate(108.09,311.6) rotate(-90)" font-size="4.4" fill="#1c1c1c">Tumor 4</text>
<text transform="translate(112.75,242.4) rotate(-90)" font-size="4.4" text-anchor="end" fill="#1c1c1c">(Inflam.)</text>
<text transform="translate(112.75,311.6) rotate(-90)" font-size="4.4" fill="#1c1c1c">Tumor 10</text>
<text transform="translate(117.41,242.4) rotate(-90)" font-size="4.4" text-anchor="end" fill="#1c1c1c">(Non-inflam.)</text>
<text transform="translate(117.41,311.6) rotate(-90)" font-size="4.4" fill="#1c1c1c">Tumor 3</text>
<text transform="translate(122.07,242.4) rotate(-90)" font-size="4.4" text-anchor="end" fill="#1c1c1c">(Inflam.)</text>
<text transform="translate(122.07,311.6) rotate(-90)" font-size="4.4" fill="#1c1c1c">Tumor 6</text>
<text transform="translate(126.73,242.4) rotate(-90)" font-size="4.4" text-anchor="end" fill="#1c1c1c">(Act./early/exh.)</text>
<text transform="translate(126.73,311.6) rotate(-90)" font-size="4.4" fill="#1c1c1c">CD4 7</text>
<text transform="translate(131.39,242.4) rotate(-90)" font-size="4.4" text-anchor="end" fill="#1c1c1c">(Non-inflam.)</text>
<text transform="translate(131.39,311.6) rotate(-90)" font-size="4.4" fill="#1c1c1c">Tumor 9</text>
<text transform="translate(136.05,242.4) rotate(-90)" font-size="4.4" text-anchor="end" fill="#1c1c1c">(Inflam.)</text>
<text transform="translate(136.05,311.6) rotate(-90)" font-size="4.4" fill="#1c1c1c">Tumor 8</text>
<text transform="translate(140.71,242.4) rotate(-90)" font-size="4.4" text-anchor="end" fill="#1c1c1c">(M1)</text>
<text transform="translate(140.71,311.6) rotate(-90)" font-size="4.4" fill="#1c1c1c">Macrophage 4</text>
<text transform="translate(145.37,242.4) rotate(-90)" font-size="4.4" text-anchor="end" fill="#1c1c1c">(PD-L1⁺)</text>
<text transform="translate(145.37,311.6) rotate(-90)" font-size="4.4" fill="#1c1c1c">Endothelial 4</text>
<text transform="translate(150.03,242.4) rotate(-90)" font-size="4.4" text-anchor="end" fill="#1c1c1c">(Act.)</text>
<text transform="translate(150.03,311.6) rotate(-90)" font-size="4.4" fill="#1c1c1c">Endothelial 3</text>
<text transform="translate(154.69,242.4) rotate(-90)" font-size="4.4" text-anchor="end" fill="#1c1c1c">(Exh./inflam.)</text>
<text transform="translate(154.69,311.6) rotate(-90)" font-size="4.4" fill="#1c1c1c">CD8 6</text>
<text transform="translate(159.35,242.4) rotate(-90)" font-size="4.4" text-anchor="end" fill="#1c1c1c">(Exh./inflam.)</text>
<text transform="translate(159.35,311.6) rotate(-90)" font-size="4.4" fill="#1c1c1c">CD4 1</text>
<text transform="translate(164.01,242.4) rotate(-90)" font-size="4.4" text-anchor="end" fill="#1c1c1c">(PD-L1⁺ M2)</text>
<text transform="translate(164.01,311.6) rotate(-90)" font-size="4.4" fill="#1c1c1c">Macrophage 2</text>
<text transform="translate(168.67,242.4) rotate(-90)" font-size="4.4" text-anchor="end" fill="#1c1c1c">(Non-inflam.)</text>
<text transform="translate(168.67,311.6) rotate(-90)" font-size="4.4" fill="#1c1c1c">Tumor 5</text>
<text transform="translate(173.33,242.4) rotate(-90)" font-size="4.4" text-anchor="end" fill="#1c1c1c">(M2)</text>
<text transform="translate(173.33,311.6) rotate(-90)" font-size="4.4" fill="#1c1c1c">Macrophage 1</text>
<text transform="translate(177.99,242.4) rotate(-90)" font-size="4.4" text-anchor="end" fill="#1c1c1c">(Exh./inflam.)</text>
<text transform="translate(177.99,311.6) rotate(-90)" font-size="4.4" fill="#1c1c1c">CD8 2</text>
<text transform="translate(182.65,242.4) rotate(-90)" font-size="4.4" text-anchor="end" fill="#1c1c1c">(Baseline)</text>
<text transform="translate(182.65,311.6) rotate(-90)" font-size="4.4" fill="#1c1c1c">Endothelial 5</text>
<text transform="translate(187.31,242.4) rotate(-90)" font-size="4.4" text-anchor="end" fill="#1c1c1c">(Act./prolif.)</text>
<text transform="translate(187.31,311.6) rotate(-90)" font-size="4.4" fill="#1c1c1c">CD8 1</text>
<text transform="translate(191.97,242.4) rotate(-90)" font-size="4.4" text-anchor="end" fill="#1c1c1c">(M2)</text>
<text transform="translate(191.97,311.6) rotate(-90)" font-size="4.4" fill="#1c1c1c">Macrophage 6</text>
<text transform="translate(196.63,242.4) rotate(-90)" font-size="4.4" text-anchor="end" fill="#1c1c1c">(Terminal exhaust.)</text>
<text transform="translate(196.63,311.6) rotate(-90)" font-size="4.4" fill="#1c1c1c">CD8 5</text>
<text transform="translate(201.29,242.4) rotate(-90)" font-size="4.4" text-anchor="end" fill="#1c1c1c">(Hi suppr.)</text>
<text transform="translate(201.29,311.6) rotate(-90)" font-size="4.4" fill="#1c1c1c">T<tspan font-size="2.64" dy="0.9">REG</tspan><tspan dy="-0.9"> 4</tspan></text>
<text transform="translate(205.95,242.4) rotate(-90)" font-size="4.4" text-anchor="end" fill="#1c1c1c">(Act./prolif.)</text>
<text transform="translate(205.95,311.6) rotate(-90)" font-size="4.4" fill="#1c1c1c">T<tspan font-size="2.64" dy="0.9">REG</tspan><tspan dy="-0.9"> 5</tspan></text>
<text transform="translate(210.61,242.4) rotate(-90)" font-size="4.4" text-anchor="end" fill="#1c1c1c">(Act./early/exh.)</text>
<text transform="translate(210.61,311.6) rotate(-90)" font-size="4.4" fill="#1c1c1c">CD8 3</text>
<text transform="translate(215.27,242.4) rotate(-90)" font-size="4.4" text-anchor="end" fill="#1c1c1c">(Terminal exhaust.)</text>
<text transform="translate(215.27,311.6) rotate(-90)" font-size="4.4" fill="#1c1c1c">CD4 3</text>
<text transform="translate(219.93,242.4) rotate(-90)" font-size="4.4" text-anchor="end" fill="#1c1c1c">(Non-inflam.)</text>
<text transform="translate(219.93,311.6) rotate(-90)" font-size="4.4" fill="#1c1c1c">Tumor 7</text>
<text transform="translate(224.59,242.4) rotate(-90)" font-size="4.4" text-anchor="end" fill="#1c1c1c">(Exh./inflam.)</text>
<text transform="translate(224.59,311.6) rotate(-90)" font-size="4.4" fill="#1c1c1c">CD4 5</text>
<text transform="translate(229.25,242.4) rotate(-90)" font-size="4.4" text-anchor="end" fill="#1c1c1c">(Baseline)</text>
<text transform="translate(229.25,311.6) rotate(-90)" font-size="4.4" fill="#1c1c1c">CD8 7</text>
<text transform="translate(233.91,242.4) rotate(-90)" font-size="4.4" text-anchor="end" fill="#1c1c1c">(Baseline)</text>
<text transform="translate(233.91,311.6) rotate(-90)" font-size="4.4" fill="#1c1c1c">CD4 4</text>
<text transform="translate(238.57,242.4) rotate(-90)" font-size="4.4" text-anchor="end" fill="#1c1c1c">(Act./prolif.)</text>
<text transform="translate(238.57,311.6) rotate(-90)" font-size="4.4" fill="#1c1c1c">CD8 4</text>
<text transform="translate(243.23,242.4) rotate(-90)" font-size="4.4" text-anchor="end" fill="#1c1c1c">(Exh./inflam.)</text>
<text transform="translate(243.23,311.6) rotate(-90)" font-size="4.4" fill="#1c1c1c">CD4 6</text>
<text transform="translate(247.89,242.4) rotate(-90)" font-size="4.4" text-anchor="end" fill="#1c1c1c">(Act./prolif.)</text>
<text transform="translate(247.89,311.6) rotate(-90)" font-size="4.4" fill="#1c1c1c">CD4 6</text>
<text transform="translate(252.55,242.4) rotate(-90)" font-size="4.4" text-anchor="end" fill="#1c1c1c">(Baseline)</text>
<text transform="translate(252.55,311.6) rotate(-90)" font-size="4.4" fill="#1c1c1c">T<tspan font-size="2.64" dy="0.9">REG</tspan><tspan dy="-0.9"> 3</tspan></text>
<text transform="translate(257.21,242.4) rotate(-90)" font-size="4.4" text-anchor="end" fill="#1c1c1c">(Act./early/exh.)</text>
<text transform="translate(257.21,311.6) rotate(-90)" font-size="4.4" fill="#1c1c1c">CD4 2</text>
<text transform="translate(261.87,242.4) rotate(-90)" font-size="4.4" text-anchor="end" fill="#1c1c1c">(M1)</text>
<text transform="translate(261.87,311.6) rotate(-90)" font-size="4.4" fill="#1c1c1c">Macrophage 3</text>
<text transform="translate(266.53,242.4) rotate(-90)" font-size="4.4" text-anchor="end" fill="#1c1c1c">(EphrinB2⁺)</text>
<text transform="translate(266.53,311.6) rotate(-90)" font-size="4.4" fill="#1c1c1c">Endothelial 1</text>
<text transform="translate(271.19,242.4) rotate(-90)" font-size="4.4" text-anchor="end" fill="#1c1c1c">(M2)</text>
<text transform="translate(271.19,311.6) rotate(-90)" font-size="4.4" fill="#1c1c1c">Macrophage 5</text>
<text transform="translate(275.85,242.4) rotate(-90)" font-size="4.4" text-anchor="end" fill="#1c1c1c">(Baseline)</text>
<text transform="translate(275.85,311.6) rotate(-90)" font-size="4.4" fill="#1c1c1c">T<tspan font-size="2.64" dy="0.9">REG</tspan><tspan dy="-0.9"> 1</tspan></text>
<text transform="translate(280.51,242.4) rotate(-90)" font-size="4.4" text-anchor="end" fill="#1c1c1c">(Prolif.)</text>
<text transform="translate(280.51,311.6) rotate(-90)" font-size="4.4" fill="#1c1c1c">Endothelial 2</text>
<text transform="translate(285.17,242.4) rotate(-90)" font-size="4.4" text-anchor="end" fill="#1c1c1c">(Hi suppr.)</text>
<text transform="translate(285.17,311.6) rotate(-90)" font-size="4.4" fill="#1c1c1c">T<tspan font-size="2.64" dy="0.9">REG</tspan><tspan dy="-0.9"> 6</tspan></text>
<text transform="translate(289.83,242.4) rotate(-90)" font-size="4.4" text-anchor="end" fill="#1c1c1c">(Hi suppr.)</text>
<text transform="translate(289.83,311.6) rotate(-90)" font-size="4.4" fill="#1c1c1c">T<tspan font-size="2.64" dy="0.9">REG</tspan><tspan dy="-0.9"> 2</tspan></text>
<text transform="translate(294.49,242.4) rotate(-90)" font-size="4.4" text-anchor="end" fill="#1c1c1c">(Non-inflam.)</text>
<text transform="translate(294.49,311.6) rotate(-90)" font-size="4.4" fill="#1c1c1c">Tumor 1</text>
<text transform="translate(300.6,242.3) rotate(-90)" font-size="4.7" text-anchor="end" fill="#1c1c1c">CD31</text>
<text transform="translate(305.2,242.3) rotate(-90)" font-size="4.7" text-anchor="end" fill="#1c1c1c">FOXP3</text>
<text transform="translate(309.8,242.3) rotate(-90)" font-size="4.7" text-anchor="end" fill="#1c1c1c">CD3</text>
<text transform="translate(314.4,242.3) rotate(-90)" font-size="4.7" text-anchor="end" fill="#1c1c1c">CD45RO</text>
<text transform="translate(319,242.3) rotate(-90)" font-size="4.7" text-anchor="end" fill="#1c1c1c">CD4</text>
<text transform="translate(323.6,242.3) rotate(-90)" font-size="4.7" text-anchor="end" fill="#1c1c1c">CD8</text>
<text transform="translate(328.2,242.3) rotate(-90)" font-size="4.7" text-anchor="end" fill="#1c1c1c">CD68</text>
<text transform="translate(332.8,242.3) rotate(-90)" font-size="4.7" text-anchor="end" fill="#1c1c1c">EphrinB2</text>
<text transform="translate(337.4,242.3) rotate(-90)" font-size="4.7" text-anchor="end" fill="#1c1c1c">CD30</text>
<text transform="translate(342,242.3) rotate(-90)" font-size="4.7" text-anchor="end" fill="#1c1c1c">CD134</text>
<text transform="translate(346.6,242.3) rotate(-90)" font-size="4.7" text-anchor="end" fill="#1c1c1c">CD206</text>
<text transform="translate(351.2,242.3) rotate(-90)" font-size="4.7" text-anchor="end" fill="#1c1c1c">CD45RA</text>
<text transform="translate(355.8,242.3) rotate(-90)" font-size="4.7" text-anchor="end" fill="#1c1c1c">CD20</text>
<text transform="translate(362.7,242.3) rotate(-90)" font-size="4.7" text-anchor="end" fill="#1c1c1c">Vimentin</text>
<text transform="translate(367.3,242.3) rotate(-90)" font-size="4.7" text-anchor="end" fill="#1c1c1c">VISTA</text>
<text transform="translate(371.9,242.3) rotate(-90)" font-size="4.7" text-anchor="end" fill="#1c1c1c">TIM-3</text>
<text transform="translate(376.5,242.3) rotate(-90)" font-size="4.7" text-anchor="end" fill="#1c1c1c">Granzym</text>
<text transform="translate(381.1,242.3) rotate(-90)" font-size="4.7" text-anchor="end" fill="#1c1c1c">cMYC</text>
<text transform="translate(385.7,242.3) rotate(-90)" font-size="4.7" text-anchor="end" fill="#1c1c1c">CCR4</text>
<text transform="translate(390.3,242.3) rotate(-90)" font-size="4.7" text-anchor="end" fill="#1c1c1c">CXCR3</text>
<text transform="translate(394.9,242.3) rotate(-90)" font-size="4.7" text-anchor="end" fill="#1c1c1c">Tbet</text>
<text transform="translate(399.5,242.3) rotate(-90)" font-size="4.7" text-anchor="end" fill="#1c1c1c">pSTAT3</text>
<text transform="translate(404.1,242.3) rotate(-90)" font-size="4.7" text-anchor="end" fill="#1c1c1c">ICOS</text>
<text transform="translate(408.7,242.3) rotate(-90)" font-size="4.7" text-anchor="end" fill="#1c1c1c">PD-L2</text>
<text transform="translate(413.3,242.3) rotate(-90)" font-size="4.7" text-anchor="end" fill="#1c1c1c">PD-L1</text>
<text transform="translate(417.9,242.3) rotate(-90)" font-size="4.7" text-anchor="end" fill="#1c1c1c">HLADR</text>
<text transform="translate(422.5,242.3) rotate(-90)" font-size="4.7" text-anchor="end" fill="#1c1c1c">LAG3</text>
<text transform="translate(427.1,242.3) rotate(-90)" font-size="4.7" text-anchor="end" fill="#1c1c1c">PD-1</text>
<text transform="translate(431.7,242.3) rotate(-90)" font-size="4.7" text-anchor="end" fill="#1c1c1c">Ki67</text>
<text transform="translate(436.3,242.3) rotate(-90)" font-size="4.7" text-anchor="end" fill="#1c1c1c">BCL2</text>
<text transform="translate(440.9,242.3) rotate(-90)" font-size="4.7" text-anchor="end" fill="#1c1c1c">BCL6</text>
<text transform="translate(447.5,242.3) rotate(-90)" font-size="4.7" text-anchor="end" fill="#1c1c1c">Phenotype</text>
<path d="M101.33 25.9L101.33 19.2M105.99 25.9L105.99 19.2M101.33 19.2L105.99 19.2M110.65 25.9L110.65 21.2M115.31 25.9L115.31 21.2M110.65 21.2L115.31 21.2M133.95 25.9L133.95 24.69M138.61 25.9L138.61 24.69M133.95 24.69L138.61 24.69M143.27 25.9L143.27 24.39M147.93 25.9L147.93 24.39M143.27 24.39L147.93 24.39M171.23 25.9L171.23 24.52M175.89 25.9L175.89 24.52M171.23 24.52L175.89 24.52M185.21 25.9L185.21 24.37M189.87 25.9L189.87 24.37M185.21 24.37L189.87 24.37M199.19 25.9L199.19 24.66M203.85 25.9L203.85 24.66M199.19 24.66L203.85 24.66M208.51 25.9L208.51 24.76M213.17 25.9L213.17 24.76M208.51 24.76L213.17 24.76M217.83 25.9L217.83 24.99M222.49 25.9L222.49 24.99M217.83 24.99L222.49 24.99M227.15 25.9L227.15 25.02M231.81 25.9L231.81 25.02M227.15 25.02L231.81 25.02M236.47 25.9L236.47 24.62M241.13 25.9L241.13 24.62M236.47 24.62L241.13 24.62M245.79 25.9L245.79 24.89M250.45 25.9L250.45 24.89M245.79 24.89L250.45 24.89M259.77 25.9L259.77 24.89M264.43 25.9L264.43 24.89M259.77 24.89L264.43 24.89M273.75 25.9L273.75 24.43M278.41 25.9L278.41 24.43M273.75 24.43L278.41 24.43M283.07 25.9L283.07 24.94M287.73 25.9L287.73 24.94M283.07 24.94L287.73 24.94M285.4 24.94L285.4 23.65M292.39 25.9L292.39 23.65M285.4 23.65L292.39 23.65M276.08 24.43L276.08 23.5M288.89 23.65L288.89 23.5M276.08 23.5L288.89 23.5M269.09 25.9L269.09 23.36M282.49 23.5L282.49 23.36M269.09 23.36L282.49 23.36M262.1 24.89L262.1 23.21M275.79 23.36L275.79 23.21M262.1 23.21L275.79 23.21M255.11 25.9L255.11 23.06M268.94 23.21L268.94 23.06M255.11 23.06L268.94 23.06M248.12 24.89L248.12 22.91M262.03 23.06L262.03 22.91M248.12 22.91L262.03 22.91M238.8 24.62L238.8 22.77M255.07 22.91L255.07 22.77M238.8 22.77L255.07 22.77M229.48 25.02L229.48 22.62M246.94 22.77L246.94 22.62M229.48 22.62L246.94 22.62M220.16 24.99L220.16 22.47M238.21 22.62L238.21 22.47M220.16 22.47L238.21 22.47M210.84 24.76L210.84 22.32M229.18 22.47L229.18 22.32M210.84 22.32L229.18 22.32M201.52 24.66L201.52 22.17M220.01 22.32L220.01 22.17M201.52 22.17L220.01 22.17M194.53 25.9L194.53 22.03M210.77 22.17L210.77 22.03M194.53 22.03L210.77 22.03M187.54 24.37L187.54 21.88M202.65 22.03L202.65 21.88M187.54 21.88L202.65 21.88M180.55 25.9L180.55 21.73M195.09 21.88L195.09 21.73M180.55 21.73L195.09 21.73M173.56 24.52L173.56 21.58M187.82 21.73L187.82 21.58M173.56 21.58L187.82 21.58M166.57 25.9L166.57 21.43M180.69 21.58L180.69 21.43M166.57 21.43L180.69 21.43M161.91 25.9L161.91 21.29M173.63 21.43L173.63 21.29M161.91 21.29L173.63 21.29M157.25 25.9L157.25 21.14M167.77 21.29L167.77 21.14M157.25 21.14L167.77 21.14M152.59 25.9L152.59 20.99M162.51 21.14L162.51 20.99M152.59 20.99L162.51 20.99M145.6 24.39L145.6 20.84M157.55 20.99L157.55 20.84M145.6 20.84L157.55 20.84M136.28 24.69L136.28 20.7M151.58 20.84L151.58 20.7M136.28 20.7L151.58 20.7M129.29 25.9L129.29 20.55M143.93 20.7L143.93 20.55M129.29 20.55L143.93 20.55M124.63 25.9L124.63 20.4M136.61 20.55L136.61 20.4M124.63 20.4L136.61 20.4M119.97 25.9L119.97 19.4M130.62 20.4L130.62 19.4M119.97 19.4L130.62 19.4M112.98 21.2L112.98 18.1M125.29 19.4L125.29 18.1M112.98 18.1L125.29 18.1M103.66 19.2L103.66 15.4M119.14 18.1L119.14 15.4M103.66 15.4L119.14 15.4" stroke="#8a8a8a" stroke-width="0.6" fill="none"/>
<path d="M133.95 25.9L133.95 24.69M138.61 25.9L138.61 24.69M133.95 24.69L138.61 24.69M143.27 25.9L143.27 24.39M147.93 25.9L147.93 24.39M143.27 24.39L147.93 24.39M171.23 25.9L171.23 24.52M175.89 25.9L175.89 24.52M171.23 24.52L175.89 24.52M185.21 25.9L185.21 24.37M189.87 25.9L189.87 24.37M185.21 24.37L189.87 24.37M199.19 25.9L199.19 24.66M203.85 25.9L203.85 24.66M199.19 24.66L203.85 24.66M208.51 25.9L208.51 24.76M213.17 25.9L213.17 24.76M208.51 24.76L213.17 24.76M217.83 25.9L217.83 24.99M222.49 25.9L222.49 24.99M217.83 24.99L222.49 24.99M227.15 25.9L227.15 25.02M231.81 25.9L231.81 25.02M227.15 25.02L231.81 25.02M236.47 25.9L236.47 24.62M241.13 25.9L241.13 24.62M236.47 24.62L241.13 24.62M245.79 25.9L245.79 24.89M250.45 25.9L250.45 24.89M245.79 24.89L250.45 24.89M259.77 25.9L259.77 24.89M264.43 25.9L264.43 24.89M259.77 24.89L264.43 24.89M273.75 25.9L273.75 24.43M278.41 25.9L278.41 24.43M273.75 24.43L278.41 24.43M283.07 25.9L283.07 24.94M287.73 25.9L287.73 24.94M283.07 24.94L287.73 24.94M285.4 24.94L285.4 23.65M292.39 25.9L292.39 23.65M285.4 23.65L292.39 23.65M276.08 24.43L276.08 23.5M288.89 23.65L288.89 23.5M276.08 23.5L288.89 23.5M269.09 25.9L269.09 23.36M282.49 23.5L282.49 23.36M269.09 23.36L282.49 23.36M262.1 24.89L262.1 23.21M275.79 23.36L275.79 23.21M262.1 23.21L275.79 23.21M255.11 25.9L255.11 23.06M268.94 23.21L268.94 23.06M255.11 23.06L268.94 23.06M248.12 24.89L248.12 22.91M262.03 23.06L262.03 22.91M248.12 22.91L262.03 22.91M238.8 24.62L238.8 22.77M255.07 22.91L255.07 22.77M238.8 22.77L255.07 22.77M229.48 25.02L229.48 22.62M246.94 22.77L246.94 22.62M229.48 22.62L246.94 22.62M220.16 24.99L220.16 22.47M238.21 22.62L238.21 22.47M220.16 22.47L238.21 22.47M210.84 24.76L210.84 22.32M229.18 22.47L229.18 22.32M210.84 22.32L229.18 22.32M201.52 24.66L201.52 22.17M220.01 22.32L220.01 22.17M201.52 22.17L220.01 22.17M194.53 25.9L194.53 22.03M210.77 22.17L210.77 22.03M194.53 22.03L210.77 22.03M187.54 24.37L187.54 21.88M202.65 22.03L202.65 21.88M187.54 21.88L202.65 21.88M180.55 25.9L180.55 21.73M195.09 21.88L195.09 21.73M180.55 21.73L195.09 21.73M173.56 24.52L173.56 21.58M187.82 21.73L187.82 21.58M173.56 21.58L187.82 21.58M166.57 25.9L166.57 21.43M180.69 21.58L180.69 21.43M166.57 21.43L180.69 21.43M161.91 25.9L161.91 21.29M173.63 21.43L173.63 21.29M161.91 21.29L173.63 21.29M157.25 25.9L157.25 21.14M167.77 21.29L167.77 21.14M157.25 21.14L167.77 21.14M152.59 25.9L152.59 20.99M162.51 21.14L162.51 20.99M152.59 20.99L162.51 20.99M145.6 24.39L145.6 20.84M157.55 20.99L157.55 20.84M145.6 20.84L157.55 20.84M136.28 24.69L136.28 20.7M151.58 20.84L151.58 20.7M136.28 20.7L151.58 20.7M129.29 25.9L129.29 20.55M143.93 20.7L143.93 20.55M129.29 20.55L143.93 20.55M124.63 25.9L124.63 20.4M136.61 20.55L136.61 20.4M124.63 20.4L136.61 20.4" stroke="#3a3a3a" stroke-width="0.7" fill="none"/>
<path d="M303.3 25.9L303.3 21.5M307.9 25.9L307.9 21.5M303.3 21.5L307.9 21.5M312.5 25.9L312.5 22.2M317.1 25.9L317.1 22.2M312.5 22.2L317.1 22.2M305.6 21.5L305.6 19.6M314.8 22.2L314.8 19.6M305.6 19.6L314.8 19.6M326.3 25.9L326.3 22.4M330.9 25.9L330.9 22.4M326.3 22.4L330.9 22.4M321.7 25.9L321.7 20.4M328.6 22.4L328.6 20.4M321.7 20.4L328.6 20.4M335.5 25.9L335.5 22.6M340.1 25.9L340.1 22.6M335.5 22.6L340.1 22.6M349.3 25.9L349.3 23.4M353.9 25.9L353.9 23.4M349.3 23.4L353.9 23.4M344.7 25.9L344.7 22M351.6 23.4L351.6 22M344.7 22L351.6 22M337.8 22.6L337.8 21.2M348.15 22L348.15 21.2M337.8 21.2L348.15 21.2M325.15 20.4L325.15 18.6M342.97 21.2L342.97 18.6M325.15 18.6L342.97 18.6M310.2 19.6L310.2 17.6M334.06 18.6L334.06 17.6M310.2 17.6L334.06 17.6M298.7 25.9L298.7 15.4M322.13 17.6L322.13 15.4M298.7 15.4L322.13 15.4" stroke="#5a5a5a" stroke-width="0.55" fill="none"/>
<path d="M365.4 25.9L365.4 22.2M370 25.9L370 22.2M365.4 22.2L370 22.2M360.8 25.9L360.8 20.6M367.7 22.2L367.7 20.6M360.8 20.6L367.7 20.6M374.6 25.9L374.6 22.8M379.2 25.9L379.2 22.8M374.6 22.8L379.2 22.8M383.8 25.9L383.8 23M388.4 25.9L388.4 23M383.8 23L388.4 23M376.9 22.8L376.9 21.8M386.1 23L386.1 21.8M376.9 21.8L386.1 21.8M393 25.9L393 22.5M397.6 25.9L397.6 22.5M393 22.5L397.6 22.5M416 25.9L416 23.8M420.6 25.9L420.6 23.8M416 23.8L420.6 23.8M411.4 25.9L411.4 23.2M418.3 23.8L418.3 23.2M411.4 23.2L418.3 23.2M406.8 25.9L406.8 22.6M414.85 23.2L414.85 22.6M406.8 22.6L414.85 22.6M402.2 25.9L402.2 21.9M410.83 22.6L410.83 21.9M402.2 21.9L410.83 21.9M395.3 22.5L395.3 21.3M406.51 21.9L406.51 21.3M395.3 21.3L406.51 21.3M381.5 21.8L381.5 21M400.91 21.3L400.91 21M381.5 21L400.91 21M425.2 25.9L425.2 22.2M429.8 25.9L429.8 22.2M425.2 22.2L429.8 22.2M434.4 25.9L434.4 21.6M439 25.9L439 21.6M434.4 21.6L439 21.6M427.5 22.2L427.5 20.2M436.7 21.6L436.7 20.2M427.5 20.2L436.7 20.2M391.2 21L391.2 18M432.1 20.2L432.1 18M391.2 18L432.1 18M364.25 20.6L364.25 15.4M411.65 18L411.65 15.4M364.25 15.4L411.65 15.4" stroke="#5a5a5a" stroke-width="0.55" fill="none"/>
<path d="M99 43.64L96.4 43.64M99 48.72L96.4 48.72M96.4 43.64L96.4 48.72M99 38.58L95.1 38.58M96.4 46.18L95.1 46.18M95.1 38.58L95.1 46.18M99 33.5L93.1 33.5M95.1 42.38L93.1 42.38M93.1 33.5L93.1 42.38M99 53.78L96.8 53.78M99 58.85L96.8 58.85M96.8 53.78L96.8 58.85M99 63.93L96.5 63.93M99 69L96.5 69M96.5 63.93L96.5 69M96.8 56.32L95.3 56.32M96.5 66.46L95.3 66.46M95.3 56.32L95.3 66.46M93.1 37.94L92.6 37.94M95.3 61.39L92.6 61.39M92.6 37.94L92.6 61.39M99 79.13L97.13 79.13M99 84.21L97.13 84.21M97.13 79.13L97.13 84.21M99 89.28L97.79 89.28M99 94.34L97.79 94.34M97.79 89.28L97.79 94.34M99 99.41L97.4 99.41M99 104.49L97.4 104.49M97.4 99.41L97.4 104.49M99 119.69L95.77 119.69M99 124.77L95.77 124.77M95.77 119.69L95.77 124.77M99 114.62L95.34 114.62M95.77 122.23L95.34 122.23M95.34 114.62L95.34 122.23M99 109.56L94.91 109.56M95.34 118.43L94.91 118.43M94.91 109.56L94.91 118.43M97.4 101.95L94.49 101.95M94.91 113.99L94.49 113.99M94.49 101.95L94.49 113.99M97.79 91.81L94.06 91.81M94.49 107.97L94.06 107.97M94.06 91.81L94.06 107.97M97.13 81.67L93.63 81.67M94.06 99.89L93.63 99.89M93.63 81.67L93.63 99.89M99 74.06L93.2 74.06M93.63 90.78L93.2 90.78M93.2 74.06L93.2 90.78M99 134.91L97.98 134.91M99 139.97L97.98 139.97M97.98 134.91L97.98 139.97M99 145.05L97.82 145.05M99 150.12L97.82 150.12M97.82 145.05L97.82 150.12M99 155.19L97.28 155.19M99 160.26L97.28 160.26M97.28 155.19L97.28 160.26M99 165.33L97.48 165.33M99 170.4L97.48 170.4M97.48 165.33L97.48 170.4M99 175.47L97.55 175.47M99 180.54L97.55 180.54M97.55 175.47L97.55 180.54M99 195.75L97.44 195.75M99 200.82L97.44 200.82M97.44 195.75L97.44 200.82M99 210.96L97.38 210.96M99 216.03L97.38 216.03M97.38 210.96L97.38 216.03M99 221.1L97.56 221.1M99 226.17L97.56 226.17M97.56 221.1L97.56 226.17M99 231.24L97.64 231.24M99 236.31L97.64 236.31M97.64 231.24L97.64 236.31M97.56 223.63L97.01 223.63M97.64 233.77L97.01 233.77M97.01 223.63L97.01 233.77M97.38 213.49L96.82 213.49M97.01 228.7L96.82 228.7M96.82 213.49L96.82 228.7M99 205.89L96.62 205.89M96.82 221.1L96.62 221.1M96.62 205.89L96.62 221.1M97.44 198.28L96.43 198.28M96.62 213.49L96.43 213.49M96.43 198.28L96.43 213.49M99 190.68L96.24 190.68M96.43 205.89L96.24 205.89M96.24 190.68L96.24 205.89M99 185.61L96.05 185.61M96.24 198.28L96.05 198.28M96.05 185.61L96.05 198.28M97.55 178L95.86 178M96.05 191.94L95.86 191.94M95.86 178L95.86 191.94M97.48 167.86L95.67 167.86M95.86 184.97L95.67 184.97M95.67 167.86L95.67 184.97M97.28 157.72L95.48 157.72M95.67 176.42L95.48 176.42M95.48 157.72L95.48 176.42M97.82 147.58L95.28 147.58M95.48 167.07L95.28 167.07M95.28 147.58L95.28 167.07M97.98 137.44L95.09 137.44M95.28 157.32L95.09 157.32M95.09 137.44L95.09 157.32M99 129.84L94.9 129.84M95.09 147.38L94.9 147.38M94.9 129.84L94.9 147.38M93.2 82.42L92 82.42M94.9 138.61L92 138.61M92 82.42L92 138.61M92.6 49.67L91.5 49.67M92 110.52L91.5 110.52M91.5 49.67L91.5 110.52M99 28.43L89.3 28.43M91.5 80.09L89.3 80.09M89.3 28.43L89.3 80.09" stroke="#4a4a4a" stroke-width="0.55" fill="none"/>
<line x1="30.2" y1="272.4" x2="81.3" y2="272.4" stroke="#3a3a3a" stroke-width="0.9"/>
<line x1="56.4" y1="272.4" x2="56.4" y2="296.3" stroke="#3a3a3a" stroke-width="0.9"/>
<line x1="9.2" y1="296.3" x2="63.3" y2="296.3" stroke="#3a3a3a" stroke-width="0.9"/>
<line x1="85" y1="273.6" x2="85" y2="325.8" stroke="#3a3a3a" stroke-width="0.9"/>
<line x1="78.2" y1="325.8" x2="128.7" y2="325.8" stroke="#3a3a3a" stroke-width="0.9"/>
<line x1="100.4" y1="313.7" x2="294.3" y2="313.7" stroke="#3a3a3a" stroke-width="0.9"/>
<line x1="276.5" y1="313.7" x2="276.5" y2="329.3" stroke="#3a3a3a" stroke-width="0.9"/>
<line x1="250" y1="329.3" x2="315.4" y2="329.3" stroke="#3a3a3a" stroke-width="0.9"/>
<line x1="297.3" y1="264.2" x2="441.2" y2="264.2" stroke="#3a3a3a" stroke-width="0.9"/>
<line x1="430.5" y1="264.2" x2="430.5" y2="304.6" stroke="#3a3a3a" stroke-width="0.9"/>
<line x1="398.8" y1="304.6" x2="462.2" y2="304.6" stroke="#3a3a3a" stroke-width="0.9"/>
<text x="9.1" y="303.3" font-size="5.1" stroke="#161616" stroke-width="0.1" textLength="38.6" lengthAdjust="spacingAndGlyphs">Mol. signature(%)</text>
<text x="50.3" y="303.3" font-size="5.1" stroke="#161616" stroke-width="0.1" textLength="13" lengthAdjust="spacingAndGlyphs">logFC</text>
<circle cx="12.6" cy="310.3" r="0.4" fill="#111"/>
<text x="17.3" y="312" font-size="4.8" stroke="#161616" stroke-width="0.05">&lt;1%</text>
<circle cx="12.6" cy="314.2" r="0.75" fill="#111"/>
<text x="17.3" y="315.9" font-size="4.8" stroke="#161616" stroke-width="0.05">1–5%</text>
<circle cx="12.6" cy="318" r="1.05" fill="#111"/>
<text x="17.3" y="319.7" font-size="4.8" stroke="#161616" stroke-width="0.05">5–10%</text>
<circle cx="12.6" cy="322.2" r="1.9" fill="#111"/>
<text x="17.3" y="323.9" font-size="4.8" stroke="#161616" stroke-width="0.05">15–20%</text>
<circle cx="12.6" cy="326.5" r="2.4" fill="#111"/>
<text x="17.3" y="328.2" font-size="4.8" stroke="#161616" stroke-width="0.05">&gt;20%</text>
<defs><linearGradient id="g1" x1="0" y1="0" x2="0" y2="1"><stop offset="0" stop-color="#d01418"/><stop offset="0.25" stop-color="#f06a58"/><stop offset="0.5" stop-color="#ffffff"/><stop offset="0.75" stop-color="#8a7ec8"/><stop offset="1" stop-color="#1e2e9c"/></linearGradient><linearGradient id="g2" x1="0" y1="0" x2="0" y2="1"><stop offset="0" stop-color="#1a1a80"/><stop offset="0.6" stop-color="#f4f4fa"/><stop offset="0.75" stop-color="#ffffff"/><stop offset="1" stop-color="#e00000"/></linearGradient><linearGradient id="g3" x1="0" y1="0" x2="0" y2="1"><stop offset="0" stop-color="#1ea6ea"/><stop offset="0.25" stop-color="#86ccf2"/><stop offset="0.5" stop-color="#e2f3fc"/><stop offset="0.63" stop-color="#ffffff"/><stop offset="0.8" stop-color="#707070"/><stop offset="0.9" stop-color="#000000"/><stop offset="1" stop-color="#000000"/></linearGradient><linearGradient id="g4" x1="0" y1="0" x2="0" y2="1"><stop offset="0" stop-color="#e00012"/><stop offset="0.25" stop-color="#f06050"/><stop offset="0.5" stop-color="#ffffff"/><stop offset="0.75" stop-color="#8a80c8"/><stop offset="1" stop-color="#2040a4"/></linearGradient></defs>
<rect x="49.4" y="308" width="3.7" height="21.7" fill="url(#g1)"/>
<text x="55.4" y="311" font-size="5.5" fill="#1c1c1c" stroke="#1c1c1c" stroke-width="0.06">20</text>
<text x="55.4" y="315.5" font-size="5.5" fill="#1c1c1c" stroke="#1c1c1c" stroke-width="0.06">10</text>
<text x="55.4" y="320.7" font-size="5.5" fill="#1c1c1c" stroke="#1c1c1c" stroke-width="0.06">0</text>
<text x="55.4" y="325.7" font-size="5.5" fill="#1c1c1c" stroke="#1c1c1c" stroke-width="0.06">−10</text>
<text x="55.4" y="330.7" font-size="5.5" fill="#1c1c1c" stroke="#1c1c1c" stroke-width="0.06">−20</text>
<text x="20.4" y="337.6" font-size="5.1" stroke="#161616" stroke-width="0.1" textLength="35.8" lengthAdjust="spacingAndGlyphs">Adj. significance</text>
<path d="M22.4 341.84L23.65 343.77L21.15 343.77Z" fill="#111"/>
<path d="M22.6 347.2L23.8 348.4L22.6 349.6L21.4 348.4Z" fill="#111"/>
<rect x="21.6" y="352.4" width="2" height="2" fill="#333"/>
<text x="25" y="344.7" font-size="5" fill="#1c1c1c" stroke="#1c1c1c" stroke-width="0.08" textLength="17.4" lengthAdjust="spacingAndGlyphs">q&lt; 0.09</text>
<text x="25" y="350.2" font-size="5" fill="#1c1c1c" stroke="#1c1c1c" stroke-width="0.08" textLength="17.4" lengthAdjust="spacingAndGlyphs">q&lt; 0.05</text>
<text x="25" y="355.2" font-size="5" fill="#1c1c1c" stroke="#1c1c1c" stroke-width="0.08" textLength="17.4" lengthAdjust="spacingAndGlyphs">q&lt; 0.01</text>
<text x="78.2" y="332.2" font-size="5.1" stroke="#161616" stroke-width="0.1" textLength="50.4" lengthAdjust="spacingAndGlyphs">Nearest tumor distance</text>
<rect x="78.2" y="336.1" width="4.6" height="21.4" fill="url(#g2)"/>
<text x="85.1" y="338.4" font-size="5" fill="#1c1c1c" stroke="#1c1c1c" stroke-width="0.08">15</text>
<text x="85.1" y="345.3" font-size="5" fill="#1c1c1c" stroke="#1c1c1c" stroke-width="0.08">10</text>
<text x="85.1" y="352.1" font-size="5" fill="#1c1c1c" stroke="#1c1c1c" stroke-width="0.08">5</text>
<text x="85.1" y="359" font-size="5" fill="#1c1c1c" stroke="#1c1c1c" stroke-width="0.08">0</text>
<text x="93.2" y="338.4" font-size="4.9" fill="#1c1c1c" stroke="#1c1c1c" stroke-width="0.08" textLength="19.8" lengthAdjust="spacingAndGlyphs">(microns)</text>
<text x="250" y="335" font-size="5.1" stroke="#161616" stroke-width="0.1" textLength="65.4" lengthAdjust="spacingAndGlyphs">Immune interaction (total sum)</text>
<rect x="251" y="337.3" width="4.4" height="22.3" fill="url(#g3)"/>
<text x="257.6" y="339.9" font-size="5" fill="#1c1c1c" stroke="#1c1c1c" stroke-width="0.08">10</text>
<text x="257.6" y="347.2" font-size="5" fill="#1c1c1c" stroke="#1c1c1c" stroke-width="0.08">5</text>
<text x="257.6" y="353.5" font-size="5" fill="#1c1c1c" stroke="#1c1c1c" stroke-width="0.08">0</text>
<text x="257.6" y="360" font-size="5" fill="#1c1c1c" stroke="#1c1c1c" stroke-width="0.08">−5</text>
<text x="398.6" y="311.4" font-size="5.1" stroke="#161616" stroke-width="0.1" textLength="63.7" lengthAdjust="spacingAndGlyphs">Measurement mean (z-score)</text>
<rect x="411.2" y="313.2" width="3.7" height="21.5" fill="url(#g4)"/>
<text x="417.6" y="316.1" font-size="5" fill="#1c1c1c" stroke="#1c1c1c" stroke-width="0.08">4</text>
<text x="417.6" y="321.2" font-size="5" fill="#1c1c1c" stroke="#1c1c1c" stroke-width="0.08">2</text>
<text x="417.6" y="326.1" font-size="5" fill="#1c1c1c" stroke="#1c1c1c" stroke-width="0.08">0</text>
<text x="417.6" y="331.1" font-size="5" fill="#1c1c1c" stroke="#1c1c1c" stroke-width="0.08">−2</text>
<text x="417.6" y="336.6" font-size="5" fill="#1c1c1c" stroke="#1c1c1c" stroke-width="0.08">−4</text>
<line x1="36.5" y1="381.9" x2="36.5" y2="523.6" stroke="#333" stroke-width="1"/>
<line x1="36" y1="523.6" x2="183.8" y2="523.6" stroke="#333" stroke-width="1"/>
<line x1="33.2" y1="385.4" x2="36.5" y2="385.4" stroke="#333" stroke-width="0.8"/>
<text x="31.4" y="387.8" font-size="6.7" text-anchor="end" fill="#1c1c1c" stroke="#1c1c1c" stroke-width="0.04">4</text>
<line x1="33.2" y1="411.7" x2="36.5" y2="411.7" stroke="#333" stroke-width="0.8"/>
<text x="31.4" y="414.1" font-size="6.7" text-anchor="end" fill="#1c1c1c" stroke="#1c1c1c" stroke-width="0.04">3</text>
<line x1="33.2" y1="438" x2="36.5" y2="438" stroke="#333" stroke-width="0.8"/>
<text x="31.4" y="440.4" font-size="6.7" text-anchor="end" fill="#1c1c1c" stroke="#1c1c1c" stroke-width="0.04">2</text>
<line x1="33.2" y1="464.3" x2="36.5" y2="464.3" stroke="#333" stroke-width="0.8"/>
<text x="31.4" y="466.7" font-size="6.7" text-anchor="end" fill="#1c1c1c" stroke="#1c1c1c" stroke-width="0.04">1</text>
<line x1="33.2" y1="490.6" x2="36.5" y2="490.6" stroke="#333" stroke-width="0.8"/>
<text x="31.4" y="493" font-size="6.7" text-anchor="end" fill="#1c1c1c" stroke="#1c1c1c" stroke-width="0.04">0</text>
<line x1="33.2" y1="516.9" x2="36.5" y2="516.9" stroke="#333" stroke-width="0.8"/>
<text x="31.4" y="519.3" font-size="6.7" text-anchor="end" fill="#1c1c1c" stroke="#1c1c1c" stroke-width="0.04">−1</text>
<line x1="36.8" y1="523.6" x2="36.8" y2="526.6" stroke="#333" stroke-width="0.8"/>
<text x="36.8" y="536" font-size="6.7" text-anchor="middle" fill="#1c1c1c" stroke="#1c1c1c" stroke-width="0.04">−0.05</text>
<line x1="72.3" y1="523.6" x2="72.3" y2="526.6" stroke="#333" stroke-width="0.8"/>
<text x="72.3" y="536" font-size="6.7" text-anchor="middle" fill="#1c1c1c" stroke="#1c1c1c" stroke-width="0.04">0</text>
<line x1="107.8" y1="523.6" x2="107.8" y2="526.6" stroke="#333" stroke-width="0.8"/>
<text x="107.8" y="536" font-size="6.7" text-anchor="middle" fill="#1c1c1c" stroke="#1c1c1c" stroke-width="0.04">0.05</text>
<line x1="143.3" y1="523.6" x2="143.3" y2="526.6" stroke="#333" stroke-width="0.8"/>
<text x="143.3" y="536" font-size="6.7" text-anchor="middle" fill="#1c1c1c" stroke="#1c1c1c" stroke-width="0.04">0.10</text>
<line x1="178.8" y1="523.6" x2="178.8" y2="526.6" stroke="#333" stroke-width="0.8"/>
<text x="178.8" y="536" font-size="6.7" text-anchor="middle" fill="#1c1c1c" stroke="#1c1c1c" stroke-width="0.04">0.15</text>
<line x1="36.5" y1="411.7" x2="178.6" y2="411.7" stroke="#444" stroke-width="0.8" stroke-dasharray="2.1,2.1"/>
<line x1="72.7" y1="381.9" x2="72.7" y2="523.6" stroke="#444" stroke-width="0.8" stroke-dasharray="1.8,1.5"/>
<rect x="39.5" y="388.6" width="39.5" height="13" fill="#ffffff"/>
<line x1="53.3" y1="385.4" x2="57.5" y2="385.4" stroke="#3a72b4" stroke-width="1.1"/>
<line x1="55.4" y1="383.3" x2="55.4" y2="387.5" stroke="#3a72b4" stroke-width="1.1"/>
<line x1="98.9" y1="385.4" x2="103.1" y2="385.4" stroke="#d8304e" stroke-width="1.1"/>
<line x1="101" y1="383.3" x2="101" y2="387.5" stroke="#d8304e" stroke-width="1.1"/>
<text x="58.6" y="394.2" font-size="4.8" text-anchor="middle" fill="#1c1c1c" stroke="#1c1c1c" stroke-width="0.06" font-style="italic" textLength="38.5" lengthAdjust="spacingAndGlyphs">Hi.suppress.T-reg</text>
<text x="58.5" y="399.8" font-size="4.8" text-anchor="middle" fill="#1c1c1c" stroke="#1c1c1c" stroke-width="0.06" font-style="italic" textLength="28.5" lengthAdjust="spacingAndGlyphs">(1,2,6): Ki67</text>
<text x="104" y="394.2" font-size="4.8" text-anchor="middle" fill="#1c1c1c" stroke="#1c1c1c" stroke-width="0.06" font-style="italic" textLength="38.5" lengthAdjust="spacingAndGlyphs">Hi.suppress.T-reg</text>
<text x="103.4" y="399.8" font-size="4.8" text-anchor="middle" fill="#1c1c1c" stroke="#1c1c1c" stroke-width="0.06" font-style="italic" textLength="34.5" lengthAdjust="spacingAndGlyphs">(1,2,6): pSTAT3</text>
<text transform="translate(20.5,450.7) rotate(-90)" font-size="7.9" text-anchor="middle" stroke="#161616" stroke-width="0.16" textLength="96" lengthAdjust="spacingAndGlyphs">Scaled −log (base10) adjusted-p</text>
<text x="108.3" y="547.4" font-size="7.9" text-anchor="middle" stroke="#161616" stroke-width="0.16" textLength="69.2" lengthAdjust="spacingAndGlyphs">log (base 2) fold-change</text>
<g fill="#5c5c5c"><circle cx="82.8" cy="414.9" r="1.45"/><circle cx="85.7" cy="442.6" r="1.45"/><circle cx="64.2" cy="445.7" r="1.45"/><circle cx="81.1" cy="445.7" r="1.45"/><circle cx="83.1" cy="445.7" r="1.45"/><circle cx="85.1" cy="445.7" r="1.45"/><circle cx="86.9" cy="445.7" r="1.45"/><circle cx="95.8" cy="446.6" r="1.45"/><circle cx="103.5" cy="445.7" r="1.45"/><circle cx="36.2" cy="445.7" r="1.45"/><circle cx="63.1" cy="451.5" r="1.45"/><circle cx="64.2" cy="452.8" r="1.45"/><circle cx="78.9" cy="452.8" r="1.45"/><circle cx="82" cy="452.8" r="1.45"/><circle cx="80.8" cy="457.4" r="1.45"/><circle cx="83.1" cy="457.4" r="1.45"/><circle cx="85.1" cy="458.5" r="1.45"/><circle cx="87.2" cy="457.4" r="1.45"/><circle cx="96.5" cy="457.4" r="1.45"/><circle cx="48.5" cy="466.5" r="1.45"/><circle cx="54.2" cy="466.5" r="1.45"/><circle cx="80.8" cy="466.5" r="1.45"/><circle cx="82.3" cy="466.5" r="1.45"/><circle cx="105" cy="466.2" r="1.45"/><circle cx="112.9" cy="466.2" r="1.45"/><circle cx="117.3" cy="477" r="1.45"/><circle cx="147.5" cy="489.4" r="1.45"/><circle cx="152.2" cy="492.1" r="1.45"/><circle cx="174.6" cy="492.5" r="1.45"/><circle cx="121.4" cy="499.2" r="1.45"/><circle cx="123.7" cy="505.5" r="1.45"/><circle cx="105.8" cy="514.3" r="1.45"/><circle cx="79.2" cy="473.5" r="1.45"/><circle cx="78" cy="475.8" r="1.45"/><circle cx="62.6" cy="479.2" r="1.45"/><circle cx="78" cy="479.2" r="1.45"/><circle cx="82" cy="479.2" r="1.45"/><circle cx="85.1" cy="479.2" r="1.45"/><circle cx="61.5" cy="485.4" r="1.45"/><circle cx="64.2" cy="488.9" r="1.45"/><circle cx="66.2" cy="489.5" r="1.45"/><circle cx="66.9" cy="491.5" r="1.45"/><circle cx="68.5" cy="492.3" r="1.45"/><circle cx="78.9" cy="490" r="1.45"/><circle cx="82.3" cy="489.2" r="1.45"/><circle cx="83.8" cy="489.5" r="1.45"/><circle cx="86.9" cy="488.5" r="1.45"/><circle cx="89.2" cy="489.2" r="1.45"/><circle cx="79.2" cy="492.3" r="1.45"/><circle cx="81.5" cy="492.3" r="1.45"/><circle cx="83.1" cy="493" r="1.45"/><circle cx="85.4" cy="491.5" r="1.45"/><circle cx="88.5" cy="491.5" r="1.45"/><circle cx="78.9" cy="494.6" r="1.45"/><circle cx="80.8" cy="494.2" r="1.45"/><circle cx="54.9" cy="493.5" r="1.45"/><circle cx="59.7" cy="493.5" r="1.45"/><circle cx="89.2" cy="495.7" r="1.45"/><circle cx="65.7" cy="497.2" r="1.45"/><circle cx="78.5" cy="498.5" r="1.45"/><circle cx="37.8" cy="500.3" r="1.45"/><circle cx="48.5" cy="501.2" r="1.45"/><circle cx="53.8" cy="500.3" r="1.45"/><circle cx="53.8" cy="501.8" r="1.45"/><circle cx="76.9" cy="501.2" r="1.45"/><circle cx="78.9" cy="500.3" r="1.45"/><circle cx="81.5" cy="500.3" r="1.45"/><circle cx="66.9" cy="502.8" r="1.45"/><circle cx="83.5" cy="505.4" r="1.45"/><circle cx="57.4" cy="509.2" r="1.45"/><circle cx="59.5" cy="508" r="1.45"/><circle cx="61.5" cy="509.5" r="1.45"/><circle cx="63.8" cy="508.5" r="1.45"/><circle cx="66.2" cy="508.9" r="1.45"/><circle cx="68.5" cy="509.5" r="1.45"/><circle cx="70.3" cy="510.5" r="1.45"/><circle cx="58.5" cy="510.8" r="1.45"/><circle cx="60.8" cy="511.5" r="1.45"/><circle cx="63.1" cy="510.5" r="1.45"/><circle cx="66.9" cy="511.5" r="1.45"/><circle cx="69.2" cy="512.3" r="1.45"/><circle cx="64.6" cy="513.8" r="1.45"/><circle cx="66.9" cy="514.6" r="1.45"/><circle cx="69.2" cy="513.8" r="1.45"/><circle cx="71.2" cy="515.1" r="1.45"/><circle cx="65.4" cy="516.2" r="1.45"/><circle cx="67.7" cy="517.2" r="1.45"/><circle cx="66.6" cy="518.5" r="1.45"/><circle cx="56.9" cy="515.7" r="1.45"/><circle cx="75.8" cy="508.5" r="1.45"/><circle cx="78" cy="507.7" r="1.45"/><circle cx="80" cy="508.9" r="1.45"/><circle cx="82.3" cy="508" r="1.45"/><circle cx="84.6" cy="508.9" r="1.45"/><circle cx="87.2" cy="508.9" r="1.45"/><circle cx="90.8" cy="508.5" r="1.45"/><circle cx="76.2" cy="510.8" r="1.45"/><circle cx="78.5" cy="511.5" r="1.45"/><circle cx="80.8" cy="510" r="1.45"/><circle cx="83.1" cy="510.8" r="1.45"/><circle cx="76.2" cy="513.1" r="1.45"/><circle cx="78.9" cy="513.8" r="1.45"/><circle cx="81.5" cy="513.1" r="1.45"/><circle cx="84.2" cy="514.2" r="1.45"/><circle cx="77.7" cy="515.4" r="1.45"/><circle cx="80" cy="516.2" r="1.45"/><circle cx="78.9" cy="518.2" r="1.45"/><circle cx="45.4" cy="513" r="1.45"/><circle cx="105.4" cy="514.2" r="1.45"/></g>
<text x="299.4" y="408.2" font-size="5.8" text-anchor="end" fill="#1c1c1c" stroke="#1c1c1c" stroke-width="0.1" textLength="33" lengthAdjust="spacingAndGlyphs">High IPI (&gt;3)</text>
<text x="299.4" y="419.5" font-size="5.8" text-anchor="end" fill="#1c1c1c" stroke="#1c1c1c" stroke-width="0.1" textLength="90.8" lengthAdjust="spacingAndGlyphs">Hi suppress. T-reg (1,2,6):pSTAT3</text>
<text x="299.4" y="430.8" font-size="5.8" text-anchor="end" fill="#1c1c1c" stroke="#1c1c1c" stroke-width="0.1" textLength="82.7" lengthAdjust="spacingAndGlyphs">Hi suppress. T-reg (1,2,6):Ki67</text>
<text x="299.4" y="441.3" font-size="5.8" text-anchor="end" fill="#1c1c1c" stroke="#1c1c1c" stroke-width="0.1" textLength="52.5" lengthAdjust="spacingAndGlyphs">Baseline T-reg (3,4)</text>
<text x="299.4" y="452.3" font-size="5.8" text-anchor="end" fill="#1c1c1c" stroke="#1c1c1c" stroke-width="0.1" textLength="51.7" lengthAdjust="spacingAndGlyphs">Act./prolif. T-reg (5)</text>
<line x1="424.2" y1="406.1" x2="464" y2="406.1" stroke="#d03048" stroke-width="1"/>
<line x1="424.2" y1="404.6" x2="424.2" y2="407.6" stroke="#d03048" stroke-width="0.9"/>
<line x1="464" y1="404.6" x2="464" y2="407.6" stroke="#d03048" stroke-width="0.9"/>
<line x1="429.6" y1="417.4" x2="513.2" y2="417.4" stroke="#d03048" stroke-width="1"/>
<line x1="429.6" y1="415.9" x2="429.6" y2="418.9" stroke="#d03048" stroke-width="0.9"/>
<line x1="513.2" y1="415.9" x2="513.2" y2="418.9" stroke="#d03048" stroke-width="0.9"/>
<line x1="302.5" y1="429" x2="451.3" y2="429" stroke="#858585" stroke-width="1"/>
<line x1="302.5" y1="427.5" x2="302.5" y2="430.5" stroke="#858585" stroke-width="0.9"/>
<line x1="451.3" y1="427.5" x2="451.3" y2="430.5" stroke="#858585" stroke-width="0.9"/>
<line x1="400.6" y1="439.3" x2="423.6" y2="439.3" stroke="#2f6aa8" stroke-width="1"/>
<line x1="400.6" y1="437.8" x2="400.6" y2="440.8" stroke="#2f6aa8" stroke-width="0.9"/>
<line x1="423.6" y1="437.8" x2="423.6" y2="440.8" stroke="#2f6aa8" stroke-width="0.9"/>
<line x1="382" y1="450.4" x2="449.7" y2="450.4" stroke="#858585" stroke-width="1"/>
<line x1="382" y1="448.9" x2="382" y2="451.9" stroke="#858585" stroke-width="0.9"/>
<line x1="449.7" y1="448.9" x2="449.7" y2="451.9" stroke="#858585" stroke-width="0.9"/>
<line x1="423.6" y1="399.6" x2="423.6" y2="457" stroke="#111" stroke-width="1" stroke-dasharray="1.2,1.1"/>
<circle cx="444.3" cy="406.1" r="2.0" fill="#c8102e"/>
<circle cx="471.1" cy="417.4" r="2.0" fill="#c8102e"/>
<circle cx="376.7" cy="429" r="2.0" fill="#6a6a6a"/>
<circle cx="412.2" cy="439.3" r="2.0" fill="#1a4f8a"/>
<circle cx="416.2" cy="450.4" r="2.0" fill="#6a6a6a"/>
<line x1="423.1" y1="457" x2="472.4" y2="457" stroke="#111" stroke-width="1.2"/>
<line x1="423.6" y1="457" x2="423.6" y2="459.8" stroke="#111" stroke-width="0.9"/>
<text x="423.6" y="468.6" font-size="6.6" text-anchor="middle" fill="#1c1c1c" stroke="#1c1c1c" stroke-width="0.1">0</text>
<line x1="432.4" y1="457" x2="432.4" y2="459.8" stroke="#111" stroke-width="0.9"/>
<text x="432.4" y="468.6" font-size="6.6" text-anchor="middle" fill="#1c1c1c" stroke="#1c1c1c" stroke-width="0.1">1</text>
<line x1="441.2" y1="457" x2="441.2" y2="459.8" stroke="#111" stroke-width="0.9"/>
<text x="441.2" y="468.6" font-size="6.6" text-anchor="middle" fill="#1c1c1c" stroke="#1c1c1c" stroke-width="0.1">2</text>
<line x1="450" y1="457" x2="450" y2="459.8" stroke="#111" stroke-width="0.9"/>
<text x="450" y="468.6" font-size="6.6" text-anchor="middle" fill="#1c1c1c" stroke="#1c1c1c" stroke-width="0.1">3</text>
<line x1="458.8" y1="457" x2="458.8" y2="459.8" stroke="#111" stroke-width="0.9"/>
<text x="458.8" y="468.6" font-size="6.6" text-anchor="middle" fill="#1c1c1c" stroke="#1c1c1c" stroke-width="0.1">4</text>
<line x1="467.6" y1="457" x2="467.6" y2="459.8" stroke="#111" stroke-width="0.9"/>
<text x="467.6" y="468.6" font-size="6.6" text-anchor="middle" fill="#1c1c1c" stroke="#1c1c1c" stroke-width="0.1">5</text>
<text x="447.7" y="483.3" font-size="7.8" text-anchor="middle" stroke="#161616" stroke-width="0.16" textLength="47.1" lengthAdjust="spacingAndGlyphs">Log hazards rate</text>
<text x="447.4" y="493.8" font-size="7.8" text-anchor="middle" stroke="#161616" stroke-width="0.16" textLength="51.9" lengthAdjust="spacingAndGlyphs">for death (95% CI)</text>
<rect x="0" y="0" width="1.25" height="557" fill="#000"/>
<rect x="0" y="0" width="520" height="1.2" fill="#000"/>
<rect x="518.7" y="0" width="1.3" height="557" fill="#000"/>
<rect x="0" y="555.7" width="520" height="1.3" fill="#000"/>
</svg></body></html>
